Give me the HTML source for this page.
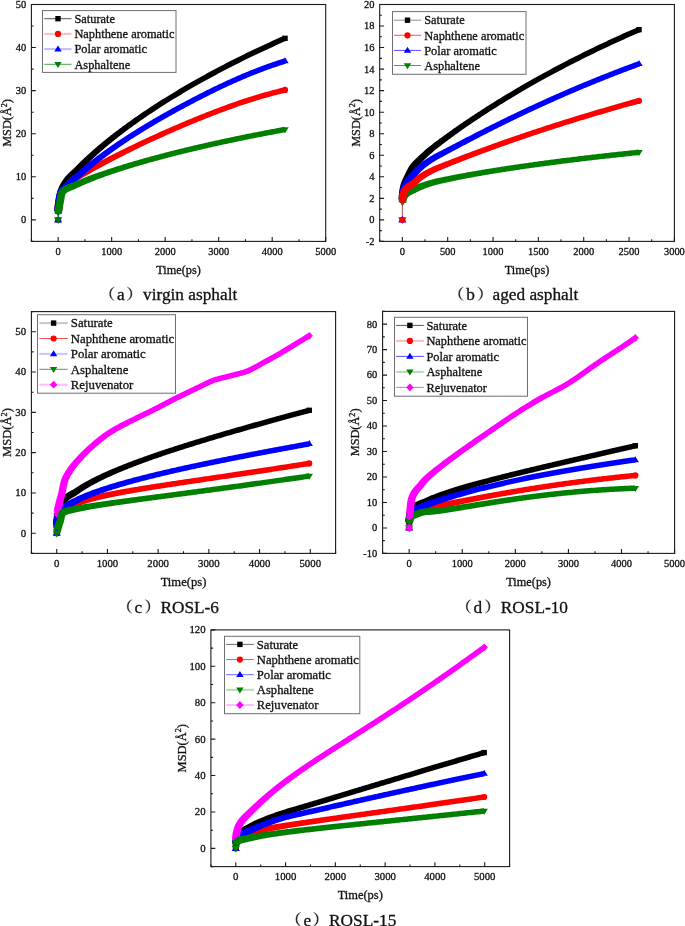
<!DOCTYPE html>
<html><head><meta charset="utf-8"><style>
html,body{margin:0;padding:0;background:#fff;}
svg{display:block;will-change:transform;}
text{font-family:"Liberation Serif", serif;fill:#111;stroke:#111;stroke-width:0.3px;}
.tk{font-size:10px;}
.at{font-size:12px;}
.lg{font-size:12px;}
.cp{font-size:17.3px;}
</style></head><body>
<svg width="685" height="926" viewBox="0 0 685 926">
<rect width="685" height="926" fill="#fff"/>
<rect x="31.4" y="4.5" width="294.3" height="236.9" fill="none" stroke="#1a1a1a" stroke-width="1.1"/>
<path d="M58.15 241.4V237M111.66 241.4V237M165.17 241.4V237M218.68 241.4V237M272.19 241.4V237M325.7 241.4V237M31.4 241.4V239.2M84.91 241.4V239.2M138.42 241.4V239.2M191.93 241.4V239.2M245.44 241.4V239.2M298.95 241.4V239.2M31.4 219.86H35.8M31.4 176.79H35.8M31.4 133.72H35.8M31.4 90.65H35.8M31.4 47.57H35.8M31.4 4.5H35.8M31.4 241.4H33.6M31.4 198.33H33.6M31.4 155.25H33.6M31.4 112.18H33.6M31.4 69.11H33.6M31.4 26.04H33.6" stroke="#1a1a1a" stroke-width="1.1" fill="none"/>
<text x="58.15" y="254.7" text-anchor="middle" font-size="10.45">0</text>
<text x="111.66" y="254.7" text-anchor="middle" font-size="10.45">1000</text>
<text x="165.17" y="254.7" text-anchor="middle" font-size="10.45">2000</text>
<text x="218.68" y="254.7" text-anchor="middle" font-size="10.45">3000</text>
<text x="272.19" y="254.7" text-anchor="middle" font-size="10.45">4000</text>
<text x="325.7" y="254.7" text-anchor="middle" font-size="10.45">5000</text>
<text x="26.1" y="223.26" text-anchor="end" font-size="10.45">0</text>
<text x="26.1" y="180.19" text-anchor="end" font-size="10.45">10</text>
<text x="26.1" y="137.12" text-anchor="end" font-size="10.45">20</text>
<text x="26.1" y="94.05" text-anchor="end" font-size="10.45">30</text>
<text x="26.1" y="50.97" text-anchor="end" font-size="10.45">40</text>
<text x="26.1" y="7.9" text-anchor="end" font-size="10.45">50</text>
<text x="178.55" y="274.2" text-anchor="middle" font-size="12.3">Time(ps)</text>
<text transform="translate(11.3 122.95) rotate(-90)" text-anchor="middle" font-size="12.3">MSD(&#197;<tspan font-size="8.12" dy="-4.5">2</tspan><tspan dy="4.5">)</tspan></text>
<path d="M62.05 211.4L62.08 210.68L62.11 209.97L62.15 209.27L62.2 208.56L62.25 207.86L62.31 207.16L62.37 206.45L62.44 205.75L62.52 205.05L62.6 204.34L62.69 203.64L62.78 202.94L62.88 202.24L62.99 201.53L63.1 200.82L63.22 200.08L63.34 199.34L63.48 198.6L63.61 197.86L63.76 197.12L63.9 196.38L64.06 195.66L64.21 194.96L64.38 194.27L64.54 193.61L64.71 192.97L64.89 192.37L65.06 191.81L65.24 191.28L65.43 190.75L65.62 190.23L65.82 189.73L66.03 189.24L66.24 188.76L66.46 188.29L66.68 187.82L66.91 187.37L67.15 186.92L67.39 186.47L67.64 186.03L67.89 185.6L68.16 185.16L68.43 184.73L68.71 184.29L68.99 183.86L69.29 183.43L69.59 182.99L69.9 182.55L70.22 182.11L70.55 181.66L70.88 181.21L71.21 180.78L71.53 180.38L71.86 179.97L72.2 179.57L72.54 179.17L72.9 178.78L73.27 178.38L73.64 177.99L74.03 177.59L74.42 177.19L74.83 176.78L75.25 176.37L75.67 175.96L76.11 175.54L76.55 175.11L77.01 174.67L77.48 174.22L77.95 173.76L78.44 173.29L78.93 172.81L79.43 172.31L79.95 171.8L80.48 171.25L81.03 170.68L81.56 170.1L82.09 169.52L82.61 168.95L83.12 168.39L83.65 167.84L84.19 167.28L84.73 166.71L85.28 166.14L85.84 165.57L86.41 164.99L86.98 164.41L87.56 163.83L88.15 163.25L88.75 162.66L89.35 162.07L89.95 161.48L90.57 160.89L91.19 160.29L91.81 159.69L92.45 159.09L93.09 158.48L93.73 157.88L94.39 157.27L95.05 156.66L95.72 156.04L96.39 155.43L97.07 154.81L97.76 154.19L98.45 153.56L99.15 152.94L99.86 152.31L100.57 151.68L101.29 151.05L102.02 150.41L102.76 149.77L103.5 149.13L104.24 148.49L105 147.85L105.76 147.2L106.53 146.56L107.3 145.91L108.08 145.25L108.87 144.6L109.67 143.94L110.47 143.29L111.27 142.63L112.09 141.97L112.91 141.3L113.74 140.64L114.57 139.97L115.41 139.3L116.26 138.63L117.11 137.95L117.97 137.28L118.84 136.6L119.72 135.92L120.6 135.24L121.49 134.56L122.38 133.88L123.28 133.19L124.19 132.51L125.1 131.82L126.02 131.13L126.95 130.43L127.88 129.74L128.83 129.04L129.77 128.35L130.73 127.65L131.69 126.95L132.65 126.25L133.63 125.54L134.61 124.84L135.6 124.13L136.59 123.43L137.59 122.72L138.6 122.01L139.61 121.29L140.63 120.58L141.66 119.87L142.69 119.15L143.73 118.43L144.78 117.71L145.83 116.99L146.89 116.27L147.96 115.55L149.03 114.83L150.11 114.1L151.2 113.38L152.29 112.65L153.39 111.92L154.5 111.19L155.61 110.46L156.73 109.73L157.86 108.99L158.99 108.26L160.13 107.52L161.27 106.79L162.43 106.05L163.59 105.31L164.75 104.57L165.92 103.83L167.1 103.09L168.29 102.35L169.48 101.61L170.68 100.86L171.88 100.12L173.1 99.37L174.31 98.62L175.54 97.88L176.77 97.13L178.01 96.38L179.25 95.63L180.51 94.88L181.76 94.13L183.03 93.37L184.3 92.62L185.58 91.87L186.86 91.11L188.15 90.36L189.45 89.6L190.75 88.85L192.06 88.09L193.38 87.33L194.7 86.57L196.03 85.81L197.37 85.06L198.71 84.3L200.06 83.53L201.42 82.77L202.78 82.01L204.15 81.25L205.53 80.49L206.91 79.73L208.3 78.96L209.7 78.2L211.1 77.44L212.51 76.67L213.93 75.91L215.35 75.14L216.78 74.38L218.21 73.62L219.65 72.85L221.1 72.09L222.56 71.32L224.02 70.55L225.49 69.79L226.96 69.02L228.44 68.26L229.93 67.49L231.43 66.73L232.93 65.96L234.43 65.19L235.95 64.43L237.47 63.66L239 62.9L240.53 62.13L242.07 61.37L243.62 60.6L245.17 59.84L246.73 59.07L248.3 58.31L249.87 57.54L251.45 56.78L253.03 56.02L254.63 55.25L256.23 54.49L257.83 53.73L259.44 52.97L261.06 52.21L262.69 51.44L264.32 50.68L265.96 49.92L267.61 49.16L269.26 48.4L270.92 47.65L272.58 46.89L274.25 46.13L275.93 45.37L277.61 44.62L279.31 43.86L281 43.11L282.71 42.35L284.42 41.6L286.14 40.85L283.93 35.81L282.21 36.56L280.49 37.32L278.77 38.08L277.07 38.84L275.37 39.6L273.67 40.36L271.99 41.12L270.3 41.88L268.63 42.64L266.96 43.4L265.3 44.17L263.65 44.93L262 45.69L260.36 46.46L258.73 47.22L257.1 47.99L255.48 48.76L253.86 49.52L252.25 50.29L250.65 51.06L249.06 51.82L247.47 52.59L245.89 53.36L244.31 54.13L242.74 54.9L241.18 55.67L239.62 56.43L238.08 57.2L236.53 57.97L235 58.74L233.47 59.51L231.94 60.28L230.43 61.05L228.92 61.82L227.42 62.59L225.92 63.36L224.43 64.13L222.95 64.9L221.47 65.67L220 66.44L218.53 67.21L217.08 67.98L215.63 68.75L214.18 69.52L212.74 70.29L211.31 71.06L209.89 71.82L208.47 72.59L207.06 73.36L205.65 74.13L204.26 74.89L202.86 75.66L201.48 76.43L200.1 77.19L198.73 77.96L197.36 78.72L196 79.49L194.65 80.25L193.3 81.01L191.96 81.78L190.63 82.54L189.31 83.3L187.99 84.06L186.67 84.82L185.37 85.58L184.07 86.34L182.77 87.1L181.48 87.86L180.2 88.61L178.93 89.37L177.66 90.12L176.4 90.88L175.15 91.63L173.9 92.39L172.66 93.14L171.42 93.89L170.2 94.64L168.97 95.39L167.76 96.14L166.55 96.89L165.35 97.63L164.15 98.38L162.96 99.12L161.78 99.87L160.6 100.61L159.43 101.35L158.27 102.09L157.11 102.83L155.96 103.57L154.82 104.31L153.68 105.04L152.55 105.78L151.43 106.51L150.31 107.25L149.2 107.98L148.1 108.71L147 109.44L145.91 110.17L144.82 110.89L143.74 111.62L142.67 112.34L141.61 113.06L140.55 113.79L139.5 114.51L138.45 115.22L137.41 115.94L136.38 116.66L135.35 117.37L134.33 118.08L133.32 118.8L132.31 119.51L131.31 120.21L130.32 120.92L129.33 121.63L128.35 122.33L127.37 123.03L126.41 123.73L125.44 124.43L124.49 125.13L123.54 125.82L122.6 126.52L121.66 127.21L120.73 127.9L119.81 128.59L118.89 129.27L117.98 129.96L117.08 130.64L116.18 131.32L115.29 132L114.41 132.68L113.53 133.36L112.66 134.03L111.8 134.7L110.94 135.37L110.09 136.04L109.24 136.71L108.4 137.37L107.57 138.04L106.75 138.7L105.93 139.35L105.11 140.01L104.31 140.66L103.51 141.32L102.71 141.97L101.93 142.62L101.15 143.26L100.37 143.91L99.6 144.55L98.84 145.19L98.09 145.82L97.34 146.46L96.6 147.09L95.86 147.72L95.13 148.35L94.41 148.98L93.69 149.6L92.98 150.22L92.28 150.84L91.58 151.46L90.89 152.07L90.21 152.68L89.53 153.29L88.86 153.9L88.19 154.51L87.53 155.11L86.88 155.71L86.23 156.31L85.59 156.9L84.96 157.5L84.33 158.09L83.71 158.68L83.1 159.26L82.49 159.84L81.89 160.42L81.3 161L80.71 161.58L80.13 162.15L79.55 162.72L78.98 163.29L78.41 163.87L77.84 164.46L77.29 165.03L76.76 165.58L76.25 166.11L75.77 166.59L75.29 167.06L74.8 167.52L74.31 167.97L73.82 168.42L73.34 168.86L72.87 169.29L72.4 169.72L71.93 170.14L71.46 170.56L71 170.98L70.54 171.4L70.08 171.82L69.63 172.25L69.18 172.67L68.73 173.11L68.28 173.54L67.84 173.99L67.41 174.44L66.97 174.91L66.54 175.38L66.12 175.87L65.7 176.37L65.29 176.86L64.91 177.35L64.54 177.82L64.17 178.3L63.8 178.78L63.44 179.27L63.09 179.76L62.74 180.25L62.39 180.75L62.05 181.26L61.72 181.77L61.39 182.29L61.07 182.82L60.75 183.36L60.44 183.91L60.14 184.47L59.85 185.05L59.56 185.63L59.28 186.23L59 186.83L58.74 187.46L58.48 188.09L58.23 188.75L57.98 189.43L57.74 190.16L57.51 190.89L57.3 191.65L57.09 192.42L56.89 193.2L56.7 194L56.52 194.8L56.34 195.6L56.18 196.4L56.02 197.2L55.87 198L55.72 198.79L55.59 199.56L55.46 200.33L55.33 201.09L55.22 201.86L55.11 202.63L55 203.39L54.91 204.16L54.82 204.93L54.74 205.7L54.66 206.47L54.59 207.25L54.53 208.02L54.48 208.79L54.43 209.56L54.39 210.34L54.36 211.09Z" fill="#000000"/><rect x="282.33" y="35.63" width="5.4" height="5.4" fill="#000000"/><rect x="55.51" y="208.55" width="5.4" height="5.4" fill="#000000"/>
<path d="M62.05 211.41L62.08 210.71L62.11 210.03L62.15 209.35L62.2 208.68L62.25 208L62.31 207.33L62.37 206.66L62.44 205.99L62.51 205.32L62.59 204.65L62.68 203.99L62.78 203.32L62.87 202.66L62.98 201.99L63.1 201.29L63.22 200.56L63.34 199.82L63.48 199.07L63.61 198.33L63.75 197.6L63.9 196.9L64.04 196.23L64.19 195.62L64.34 195.07L64.48 194.6L64.6 194.24L64.7 193.98L64.8 193.78L64.92 193.56L65.04 193.36L65.16 193.18L65.28 193.01L65.42 192.84L65.56 192.67L65.72 192.5L65.91 192.31L66.11 192.12L66.34 191.91L66.6 191.68L66.88 191.43L67.18 191.15L67.51 190.86L67.85 190.54L68.21 190.19L68.59 189.81L68.96 189.41L69.33 189.01L69.69 188.59L70.05 188.17L70.41 187.74L70.77 187.31L71.13 186.87L71.5 186.44L71.86 186L72.22 185.56L72.59 185.13L72.95 184.71L73.32 184.29L73.69 183.88L74.06 183.49L74.43 183.11L74.8 182.74L75.16 182.4L75.52 182.07L75.88 181.77L76.24 181.49L76.58 181.24L76.92 181.01L77.3 180.78L77.72 180.53L78.19 180.27L78.7 179.99L79.23 179.69L79.75 179.38L80.26 179.09L80.78 178.78L81.3 178.48L81.83 178.17L82.36 177.86L82.9 177.55L83.45 177.23L84.01 176.91L84.57 176.59L85.14 176.26L85.71 175.93L86.29 175.6L86.88 175.26L87.48 174.92L88.08 174.58L88.68 174.23L89.3 173.88L89.92 173.53L90.55 173.18L91.18 172.82L91.82 172.46L92.47 172.1L93.12 171.73L93.78 171.36L94.45 170.99L95.12 170.62L95.8 170.24L96.49 169.86L97.18 169.48L97.88 169.09L98.58 168.71L99.3 168.31L100.02 167.92L100.74 167.53L101.48 167.13L102.21 166.73L102.96 166.32L103.71 165.92L104.47 165.51L105.24 165.1L106.01 164.68L106.79 164.27L107.57 163.85L108.37 163.43L109.16 163L109.97 162.58L110.78 162.15L111.6 161.72L112.42 161.29L113.26 160.85L114.09 160.42L114.94 159.98L115.79 159.54L116.65 159.09L117.51 158.65L118.38 158.2L119.26 157.75L120.15 157.3L121.04 156.84L121.93 156.39L122.84 155.93L123.75 155.47L124.67 155L125.59 154.54L126.52 154.07L127.46 153.6L128.4 153.13L129.35 152.66L130.31 152.19L131.27 151.71L132.24 151.23L133.22 150.75L134.2 150.27L135.19 149.79L136.19 149.3L137.19 148.82L138.2 148.33L139.22 147.84L140.24 147.35L141.27 146.85L142.3 146.36L143.35 145.86L144.39 145.36L145.45 144.86L146.51 144.36L147.58 143.86L148.66 143.35L149.74 142.84L150.83 142.34L151.92 141.83L153.02 141.32L154.13 140.81L155.25 140.29L156.37 139.78L157.5 139.26L158.63 138.74L159.77 138.22L160.92 137.7L162.07 137.18L163.23 136.66L164.4 136.14L165.58 135.61L166.76 135.08L167.94 134.56L169.14 134.03L170.34 133.5L171.54 132.97L172.76 132.43L173.98 131.9L175.2 131.37L176.44 130.83L177.68 130.3L178.92 129.76L180.17 129.22L181.43 128.68L182.7 128.14L183.97 127.6L185.25 127.06L186.54 126.51L187.83 125.97L189.13 125.43L190.43 124.88L191.74 124.33L193.06 123.79L194.39 123.24L195.72 122.69L197.06 122.14L198.4 121.59L199.75 121.04L201.11 120.49L202.47 119.94L203.84 119.39L205.22 118.84L206.6 118.28L207.99 117.73L209.39 117.18L210.79 116.63L212.2 116.08L213.62 115.53L215.04 114.98L216.47 114.43L217.9 113.88L219.34 113.33L220.79 112.78L222.24 112.24L223.7 111.69L225.17 111.15L226.64 110.61L228.12 110.07L229.61 109.53L231.1 109L232.6 108.46L234.1 107.93L235.62 107.4L237.13 106.87L238.66 106.35L240.19 105.82L241.73 105.3L243.27 104.79L244.82 104.27L246.38 103.76L247.94 103.25L249.51 102.74L251.08 102.24L252.67 101.74L254.26 101.25L255.85 100.75L257.45 100.27L259.06 99.78L260.68 99.3L262.3 98.83L263.92 98.35L265.56 97.88L267.2 97.42L268.84 96.96L270.5 96.51L272.16 96.06L273.82 95.61L275.5 95.17L277.18 94.74L278.86 94.31L280.55 93.88L282.25 93.47L283.95 93.05L285.67 92.64L284.39 87.29L282.67 87.7L280.94 88.12L279.22 88.55L277.51 88.98L275.8 89.41L274.11 89.85L272.41 90.3L270.73 90.75L269.05 91.2L267.38 91.66L265.71 92.12L264.05 92.59L262.4 93.07L260.75 93.54L259.11 94.03L257.48 94.51L255.86 95L254.24 95.49L252.63 95.99L251.02 96.49L249.42 97L247.83 97.5L246.24 98.01L244.66 98.53L243.09 99.04L241.53 99.56L239.97 100.09L238.42 100.61L236.87 101.14L235.33 101.67L233.8 102.2L232.27 102.74L230.76 103.27L229.24 103.81L227.74 104.35L226.24 104.89L224.75 105.44L223.26 105.98L221.78 106.53L220.31 107.08L218.85 107.63L217.39 108.18L215.94 108.73L214.49 109.28L213.05 109.83L211.62 110.39L210.2 110.94L208.78 111.49L207.37 112.05L205.96 112.6L204.56 113.16L203.17 113.71L201.79 114.27L200.41 114.82L199.04 115.37L197.67 115.93L196.32 116.48L194.96 117.03L193.62 117.58L192.28 118.13L190.95 118.68L189.62 119.23L188.31 119.78L186.99 120.32L185.69 120.87L184.39 121.42L183.1 121.96L181.81 122.5L180.53 123.05L179.26 123.59L177.99 124.13L176.73 124.67L175.48 125.21L174.23 125.74L172.99 126.28L171.76 126.81L170.53 127.35L169.31 127.88L168.1 128.41L166.89 128.94L165.69 129.47L164.5 130L163.31 130.53L162.13 131.05L160.96 131.58L159.79 132.1L158.63 132.62L157.47 133.14L156.32 133.66L155.18 134.18L154.05 134.7L152.92 135.21L151.8 135.72L150.68 136.23L149.57 136.74L148.47 137.25L147.37 137.76L146.28 138.27L145.2 138.77L144.12 139.27L143.05 139.77L141.99 140.27L140.93 140.77L139.88 141.26L138.84 141.76L137.8 142.25L136.77 142.74L135.75 143.23L134.73 143.71L133.72 144.2L132.72 144.68L131.72 145.16L130.73 145.64L129.74 146.12L128.76 146.59L127.79 147.06L126.83 147.54L125.87 148L124.92 148.47L123.97 148.93L123.03 149.4L122.1 149.86L121.17 150.32L120.25 150.77L119.34 151.23L118.43 151.68L117.53 152.13L116.64 152.57L115.75 153.02L114.87 153.46L114 153.9L113.13 154.34L112.27 154.78L111.42 155.21L110.57 155.64L109.73 156.07L108.89 156.49L108.06 156.92L107.24 157.34L106.43 157.76L105.62 158.17L104.82 158.58L104.02 158.99L103.23 159.4L102.45 159.81L101.67 160.21L100.9 160.61L100.14 161.01L99.38 161.4L98.63 161.79L97.89 162.18L97.15 162.57L96.42 162.95L95.7 163.33L94.98 163.71L94.27 164.08L93.57 164.46L92.87 164.82L92.18 165.19L91.49 165.55L90.81 165.91L90.14 166.27L89.48 166.62L88.82 166.98L88.16 167.32L87.52 167.67L86.88 168.01L86.25 168.35L85.62 168.68L85 169.02L84.39 169.35L83.78 169.67L83.18 169.99L82.59 170.31L82 170.63L81.42 170.94L80.85 171.25L80.28 171.56L79.72 171.86L79.17 172.16L78.62 172.46L78.08 172.75L77.54 173.04L77.02 173.33L76.5 173.61L76 173.88L75.52 174.13L75.05 174.37L74.54 174.63L73.99 174.92L73.42 175.24L72.83 175.61L72.24 176L71.69 176.41L71.15 176.84L70.62 177.27L70.12 177.72L69.62 178.18L69.14 178.64L68.68 179.1L68.23 179.57L67.79 180.04L67.36 180.5L66.95 180.96L66.54 181.41L66.15 181.85L65.77 182.28L65.4 182.7L65.05 183.09L64.71 183.47L64.38 183.83L64.07 184.16L63.77 184.46L63.5 184.73L63.23 184.97L62.97 185.21L62.7 185.44L62.43 185.66L62.15 185.89L61.86 186.13L61.56 186.37L61.24 186.64L60.92 186.92L60.58 187.23L60.24 187.56L59.89 187.93L59.54 188.32L59.2 188.75L58.87 189.21L58.55 189.7L58.24 190.22L57.92 190.82L57.62 191.51L57.36 192.22L57.13 192.95L56.91 193.7L56.71 194.47L56.52 195.26L56.35 196.06L56.18 196.87L56.02 197.68L55.87 198.47L55.73 199.25L55.59 200L55.46 200.73L55.34 201.45L55.22 202.18L55.11 202.92L55.01 203.66L54.91 204.39L54.82 205.13L54.74 205.87L54.66 206.62L54.6 207.36L54.53 208.11L54.48 208.85L54.43 209.6L54.39 210.35L54.36 211.09Z" fill="#ff0000"/><circle cx="285.03" cy="89.97" r="3.1" fill="#ff0000"/><circle cx="58.21" cy="211.25" r="3.1" fill="#ff0000"/>
<path d="M62.05 211.4L62.08 210.67L62.11 209.96L62.15 209.25L62.2 208.54L62.25 207.84L62.31 207.13L62.37 206.43L62.44 205.73L62.52 205.03L62.6 204.33L62.69 203.63L62.78 202.93L62.88 202.24L62.99 201.53L63.1 200.79L63.22 200.01L63.35 199.21L63.48 198.4L63.62 197.6L63.76 196.81L63.91 196.06L64.06 195.35L64.2 194.7L64.35 194.14L64.48 193.69L64.58 193.38L64.64 193.23L64.69 193.15L64.76 193.03L64.83 192.93L64.9 192.84L64.98 192.74L65.09 192.64L65.23 192.51L65.41 192.36L65.63 192.18L65.89 191.97L66.19 191.73L66.53 191.46L66.89 191.14L67.27 190.79L67.63 190.44L67.96 190.1L68.28 189.76L68.61 189.42L68.94 189.07L69.27 188.71L69.61 188.35L69.95 187.98L70.29 187.61L70.64 187.24L70.99 186.86L71.34 186.48L71.7 186.11L72.06 185.73L72.43 185.35L72.8 184.98L73.17 184.6L73.55 184.23L73.94 183.86L74.34 183.48L74.75 183.1L75.16 182.71L75.59 182.33L76.02 181.94L76.46 181.54L76.91 181.14L77.36 180.74L77.83 180.33L78.3 179.92L78.78 179.5L79.26 179.08L79.76 178.65L80.26 178.22L80.76 177.78L81.28 177.33L81.8 176.88L82.33 176.43L82.87 175.96L83.43 175.47L84.01 174.96L84.59 174.43L85.16 173.91L85.72 173.39L86.28 172.88L86.84 172.37L87.42 171.86L88.01 171.35L88.6 170.83L89.2 170.31L89.81 169.78L90.42 169.26L91.04 168.73L91.67 168.2L92.3 167.67L92.94 167.13L93.59 166.59L94.24 166.06L94.91 165.51L95.57 164.97L96.25 164.42L96.93 163.88L97.62 163.33L98.31 162.77L99.01 162.22L99.72 161.66L100.43 161.1L101.15 160.54L101.88 159.98L102.62 159.42L103.36 158.85L104.11 158.28L104.86 157.71L105.62 157.14L106.39 156.56L107.16 155.99L107.95 155.41L108.73 154.83L109.53 154.25L110.33 153.66L111.14 153.08L111.95 152.49L112.77 151.9L113.6 151.31L114.44 150.71L115.28 150.12L116.13 149.52L116.98 148.92L117.84 148.32L118.71 147.72L119.59 147.12L120.47 146.51L121.36 145.9L122.25 145.29L123.15 144.68L124.06 144.07L124.97 143.46L125.9 142.84L126.82 142.22L127.76 141.61L128.7 140.99L129.65 140.36L130.6 139.74L131.56 139.11L132.53 138.49L133.5 137.86L134.49 137.23L135.47 136.6L136.47 135.97L137.47 135.33L138.48 134.7L139.49 134.06L140.51 133.42L141.54 132.78L142.57 132.14L143.61 131.5L144.66 130.85L145.72 130.21L146.78 129.56L147.84 128.91L148.92 128.26L150 127.61L151.08 126.96L152.18 126.3L153.28 125.65L154.38 124.99L155.5 124.34L156.62 123.68L157.75 123.02L158.88 122.36L160.02 121.69L161.16 121.03L162.32 120.36L163.48 119.7L164.64 119.03L165.82 118.36L167 117.69L168.18 117.02L169.37 116.35L170.57 115.68L171.78 115L172.99 114.33L174.21 113.65L175.44 112.98L176.67 112.3L177.91 111.62L179.15 110.94L180.4 110.26L181.66 109.57L182.93 108.89L184.2 108.21L185.48 107.52L186.76 106.83L188.05 106.15L189.35 105.46L190.66 104.77L191.97 104.08L193.29 103.39L194.61 102.7L195.94 102.01L197.28 101.31L198.62 100.62L199.97 99.92L201.33 99.23L202.69 98.53L204.06 97.83L205.44 97.14L206.82 96.44L208.21 95.74L209.61 95.05L211.01 94.35L212.42 93.65L213.83 92.96L215.25 92.26L216.68 91.57L218.12 90.87L219.56 90.18L221 89.49L222.46 88.8L223.92 88.11L225.38 87.42L226.86 86.74L228.33 86.05L229.82 85.37L231.31 84.69L232.81 84.01L234.31 83.34L235.83 82.66L237.34 81.99L238.87 81.32L240.4 80.66L241.93 79.99L243.48 79.33L245.03 78.67L246.58 78.02L248.14 77.37L249.71 76.72L251.29 76.08L252.87 75.44L254.46 74.8L256.05 74.17L257.65 73.54L259.26 72.92L260.88 72.3L262.5 71.69L264.12 71.08L265.76 70.47L267.4 69.87L269.04 69.27L270.69 68.68L272.35 68.1L274.02 67.52L275.69 66.95L277.37 66.38L279.05 65.81L280.74 65.25L282.44 64.7L284.14 64.16L285.86 63.62L284.21 58.37L282.48 58.91L280.75 59.47L279.03 60.03L277.32 60.59L275.61 61.16L273.91 61.74L272.22 62.32L270.53 62.91L268.85 63.5L267.18 64.1L265.51 64.7L263.85 65.31L262.2 65.92L260.55 66.54L258.91 67.16L257.28 67.79L255.66 68.42L254.04 69.05L252.42 69.69L250.82 70.33L249.22 70.98L247.62 71.63L246.04 72.28L244.46 72.94L242.89 73.6L241.32 74.27L239.76 74.93L238.21 75.6L236.66 76.28L235.12 76.95L233.59 77.63L232.06 78.31L230.55 78.99L229.03 79.68L227.53 80.36L226.03 81.05L224.54 81.74L223.05 82.43L221.57 83.13L220.1 83.82L218.63 84.52L217.17 85.21L215.72 85.91L214.28 86.61L212.84 87.31L211.41 88.01L209.98 88.71L208.56 89.41L207.15 90.11L205.74 90.81L204.35 91.51L202.95 92.21L201.57 92.91L200.19 93.61L198.82 94.31L197.45 95.01L196.09 95.71L194.74 96.41L193.4 97.1L192.06 97.8L190.73 98.49L189.4 99.19L188.08 99.88L186.77 100.57L185.46 101.26L184.16 101.95L182.87 102.64L181.58 103.33L180.3 104.02L179.03 104.7L177.76 105.39L176.5 106.07L175.25 106.75L174 107.44L172.76 108.12L171.53 108.8L170.3 109.48L169.08 110.15L167.86 110.83L166.66 111.5L165.45 112.18L164.26 112.85L163.07 113.52L161.89 114.19L160.71 114.86L159.54 115.53L158.38 116.2L157.23 116.87L156.08 117.53L154.93 118.19L153.8 118.85L152.67 119.52L151.54 120.18L150.43 120.83L149.32 121.49L148.21 122.15L147.11 122.8L146.02 123.45L144.94 124.1L143.86 124.75L142.79 125.4L141.73 126.05L140.67 126.69L139.61 127.34L138.57 127.98L137.53 128.62L136.5 129.26L135.47 129.9L134.45 130.54L133.44 131.17L132.43 131.81L131.43 132.44L130.44 133.07L129.45 133.7L128.47 134.32L127.5 134.95L126.53 135.57L125.57 136.2L124.62 136.82L123.67 137.44L122.73 138.05L121.79 138.67L120.86 139.28L119.94 139.89L119.02 140.51L118.12 141.11L117.21 141.72L116.32 142.33L115.43 142.93L114.54 143.53L113.67 144.13L112.79 144.73L111.93 145.33L111.07 145.92L110.22 146.51L109.38 147.1L108.54 147.69L107.71 148.28L106.88 148.86L106.06 149.45L105.25 150.03L104.44 150.61L103.64 151.18L102.85 151.76L102.06 152.33L101.28 152.9L100.51 153.47L99.74 154.04L98.98 154.6L98.23 155.17L97.48 155.73L96.74 156.29L96 156.85L95.27 157.4L94.55 157.95L93.83 158.5L93.12 159.05L92.42 159.6L91.72 160.14L91.03 160.69L90.35 161.23L89.67 161.76L89 162.3L88.33 162.83L87.68 163.36L87.02 163.89L86.38 164.42L85.74 164.95L85.11 165.47L84.48 165.99L83.86 166.51L83.25 167.02L82.63 167.54L82.02 168.07L81.42 168.59L80.83 169.11L80.27 169.61L79.72 170.08L79.19 170.52L78.66 170.96L78.12 171.41L77.58 171.85L77.04 172.28L76.52 172.71L75.99 173.14L75.48 173.56L74.97 173.98L74.46 174.39L73.96 174.8L73.47 175.2L72.98 175.61L72.5 176.01L72.02 176.41L71.55 176.8L71.08 177.2L70.62 177.59L70.16 177.99L69.71 178.38L69.27 178.77L68.82 179.17L68.38 179.57L67.95 179.97L67.52 180.38L67.11 180.77L66.7 181.17L66.31 181.56L65.92 181.94L65.54 182.32L65.17 182.69L64.81 183.05L64.46 183.4L64.12 183.74L63.79 184.07L63.47 184.39L63.16 184.69L62.86 184.98L62.58 185.24L62.34 185.46L62.14 185.63L61.93 185.79L61.71 185.96L61.46 186.13L61.19 186.32L60.9 186.54L60.57 186.79L60.21 187.08L59.84 187.41L59.46 187.79L59.08 188.21L58.71 188.68L58.35 189.2L57.98 189.83L57.64 190.56L57.36 191.31L57.12 192.07L56.9 192.86L56.7 193.68L56.51 194.52L56.34 195.37L56.17 196.24L56.01 197.1L55.86 197.95L55.72 198.78L55.59 199.57L55.46 200.33L55.34 201.08L55.22 201.84L55.11 202.61L55 203.37L54.91 204.14L54.82 204.91L54.74 205.68L54.66 206.45L54.59 207.22L54.53 208L54.48 208.77L54.43 209.55L54.39 210.33L54.36 211.1Z" fill="#0000ff"/><path d="M285.03 57.27L288.73 63.27L281.33 63.27Z" fill="#0000ff"/><path d="M58.21 207.53L61.91 213.53L54.51 213.53Z" fill="#0000ff"/>
<path d="M61.99 213.49L62.02 213.33L62.04 213.12L62.08 212.87L62.12 212.57L62.16 212.23L62.21 211.85L62.27 211.44L62.34 210.99L62.41 210.5L62.48 209.98L62.57 209.43L62.66 208.86L62.75 208.26L62.85 207.63L62.96 206.98L63.08 206.32L63.2 205.63L63.32 204.93L63.46 204.22L63.6 203.49L63.74 202.76L63.89 202.02L64.05 201.25L64.24 200.35L64.43 199.18L64.62 197.92L64.8 196.69L64.97 195.63L65.11 194.95L65.18 194.75L65.26 194.58L65.34 194.42L65.42 194.28L65.53 194.13L65.69 193.93L65.85 193.74L66 193.57L66.15 193.41L66.32 193.26L66.5 193.1L66.69 192.94L66.89 192.78L67.12 192.62L67.36 192.45L67.62 192.28L67.87 192.12L68.12 191.96L68.37 191.82L68.63 191.67L68.91 191.53L69.2 191.39L69.5 191.24L69.82 191.1L70.15 190.95L70.5 190.81L70.85 190.66L71.22 190.51L71.61 190.36L72 190.21L72.41 190.05L72.83 189.88L73.26 189.71L73.7 189.54L74.16 189.36L74.62 189.17L75.09 188.97L75.58 188.77L76.09 188.54L76.62 188.3L77.13 188.05L77.63 187.81L78.12 187.57L78.59 187.33L79.06 187.11L79.56 186.88L80.06 186.64L80.57 186.4L81.09 186.17L81.62 185.93L82.15 185.69L82.69 185.45L83.24 185.2L83.8 184.96L84.36 184.71L84.92 184.47L85.5 184.22L86.08 183.97L86.67 183.72L87.26 183.47L87.86 183.22L88.47 182.97L89.09 182.71L89.71 182.46L90.34 182.2L90.97 181.94L91.61 181.69L92.26 181.43L92.92 181.17L93.58 180.91L94.25 180.64L94.92 180.38L95.61 180.12L96.3 179.85L96.99 179.58L97.69 179.32L98.4 179.05L99.12 178.78L99.84 178.51L100.57 178.24L101.31 177.97L102.05 177.7L102.8 177.42L103.56 177.15L104.32 176.88L105.09 176.6L105.87 176.32L106.65 176.05L107.44 175.77L108.24 175.49L109.04 175.21L109.85 174.93L110.67 174.65L111.49 174.37L112.32 174.08L113.16 173.8L114 173.52L114.85 173.23L115.71 172.95L116.57 172.66L117.45 172.37L118.32 172.09L119.21 171.8L120.1 171.51L120.99 171.22L121.9 170.93L122.81 170.64L123.73 170.35L124.65 170.05L125.58 169.76L126.52 169.47L127.46 169.17L128.41 168.88L129.37 168.58L130.33 168.29L131.31 167.99L132.28 167.7L133.27 167.4L134.26 167.1L135.26 166.8L136.26 166.5L137.27 166.2L138.29 165.9L139.31 165.6L140.34 165.3L141.38 165L142.42 164.69L143.47 164.39L144.53 164.09L145.6 163.78L146.67 163.48L147.74 163.18L148.83 162.87L149.92 162.56L151.02 162.26L152.12 161.95L153.23 161.64L154.35 161.34L155.47 161.03L156.6 160.72L157.74 160.41L158.88 160.1L160.03 159.79L161.19 159.48L162.35 159.17L163.53 158.86L164.7 158.55L165.89 158.24L167.08 157.93L168.27 157.62L169.48 157.3L170.69 156.99L171.9 156.68L173.13 156.36L174.36 156.05L175.6 155.74L176.84 155.42L178.09 155.11L179.35 154.79L180.61 154.48L181.88 154.16L183.16 153.85L184.44 153.53L185.73 153.22L187.03 152.9L188.33 152.58L189.64 152.27L190.96 151.95L192.28 151.63L193.61 151.31L194.95 151L196.29 150.68L197.64 150.36L198.99 150.04L200.36 149.72L201.73 149.41L203.1 149.09L204.49 148.77L205.88 148.45L207.27 148.13L208.67 147.81L210.08 147.49L211.5 147.17L212.92 146.86L214.35 146.54L215.79 146.22L217.23 145.9L218.68 145.58L220.13 145.26L221.6 144.94L223.07 144.62L224.54 144.3L226.02 143.98L227.51 143.66L229.01 143.34L230.51 143.02L232.02 142.7L233.53 142.38L235.06 142.06L236.59 141.74L238.12 141.42L239.66 141.1L241.21 140.78L242.77 140.46L244.33 140.15L245.9 139.83L247.47 139.51L249.05 139.19L250.64 138.87L252.24 138.55L253.84 138.23L255.45 137.91L257.06 137.59L258.68 137.28L260.31 136.96L261.94 136.64L263.59 136.32L265.23 136.01L266.89 135.69L268.55 135.37L270.22 135.05L271.89 134.74L273.57 134.42L275.26 134.11L276.95 133.79L278.66 133.47L280.36 133.16L282.08 132.84L283.8 132.53L285.53 132.21L284.54 126.8L282.81 127.12L281.08 127.43L279.37 127.75L277.65 128.06L275.95 128.38L274.25 128.7L272.56 129.01L270.87 129.33L269.19 129.65L267.52 129.97L265.85 130.28L264.2 130.6L262.54 130.92L260.9 131.24L259.26 131.56L257.62 131.88L256 132.2L254.38 132.51L252.77 132.83L251.16 133.15L249.56 133.47L247.97 133.79L246.38 134.11L244.8 134.43L243.23 134.75L241.66 135.07L240.1 135.39L238.55 135.71L237 136.03L235.46 136.35L233.93 136.67L232.4 136.99L230.88 137.31L229.37 137.63L227.86 137.95L226.36 138.27L224.87 138.59L223.38 138.91L221.9 139.23L220.42 139.56L218.96 139.88L217.5 140.2L216.04 140.52L214.59 140.84L213.15 141.16L211.72 141.48L210.29 141.8L208.87 142.11L207.46 142.43L206.05 142.75L204.65 143.07L203.25 143.39L201.86 143.71L200.48 144.03L199.11 144.35L197.74 144.67L196.38 144.99L195.02 145.3L193.67 145.62L192.33 145.94L191 146.26L189.67 146.57L188.35 146.89L187.03 147.21L185.72 147.52L184.42 147.84L183.12 148.16L181.83 148.47L180.55 148.79L179.28 149.1L178.01 149.42L176.74 149.73L175.49 150.05L174.24 150.36L173 150.67L171.76 150.99L170.53 151.3L169.31 151.61L168.09 151.92L166.88 152.24L165.68 152.55L164.48 152.86L163.29 153.17L162.11 153.48L160.93 153.79L159.76 154.1L158.6 154.41L157.44 154.71L156.29 155.02L155.14 155.33L154.01 155.64L152.88 155.94L151.75 156.25L150.63 156.55L149.52 156.86L148.42 157.16L147.32 157.47L146.23 157.77L145.14 158.07L144.07 158.37L142.99 158.68L141.93 158.98L140.87 159.28L139.82 159.58L138.77 159.88L137.74 160.17L136.7 160.47L135.68 160.77L134.66 161.06L133.65 161.36L132.64 161.66L131.64 161.95L130.65 162.24L129.66 162.54L128.68 162.83L127.71 163.12L126.74 163.41L125.78 163.7L124.83 163.99L123.88 164.28L122.94 164.57L122.01 164.85L121.08 165.14L120.16 165.43L119.25 165.71L118.34 166L117.44 166.28L116.55 166.56L115.66 166.84L114.78 167.12L113.9 167.4L113.03 167.68L112.17 167.96L111.32 168.24L110.47 168.51L109.63 168.79L108.79 169.06L107.96 169.34L107.14 169.61L106.32 169.88L105.51 170.15L104.71 170.42L103.92 170.69L103.13 170.96L102.34 171.22L101.57 171.49L100.8 171.76L100.03 172.02L99.27 172.28L98.52 172.55L97.78 172.81L97.04 173.07L96.31 173.33L95.59 173.58L94.87 173.84L94.16 174.1L93.45 174.35L92.75 174.61L92.06 174.86L91.37 175.11L90.7 175.36L90.02 175.61L89.36 175.86L88.7 176.11L88.04 176.35L87.4 176.6L86.76 176.84L86.12 177.08L85.49 177.33L84.87 177.57L84.26 177.81L83.65 178.05L83.05 178.28L82.45 178.52L81.87 178.76L81.28 178.99L80.71 179.22L80.14 179.46L79.58 179.69L79.02 179.92L78.47 180.14L77.93 180.37L77.39 180.6L76.86 180.82L76.33 181.05L75.79 181.28L75.26 181.52L74.76 181.75L74.29 181.96L73.85 182.15L73.43 182.32L73.01 182.49L72.58 182.65L72.15 182.81L71.72 182.96L71.3 183.11L70.88 183.26L70.46 183.4L70.04 183.54L69.62 183.68L69.2 183.83L68.79 183.97L68.37 184.11L67.96 184.26L67.54 184.42L67.13 184.57L66.71 184.74L66.3 184.91L65.88 185.09L65.46 185.28L65.05 185.48L64.63 185.7L64.22 185.92L63.84 186.14L63.47 186.36L63.1 186.59L62.73 186.84L62.34 187.1L61.96 187.38L61.58 187.69L61.2 188.01L60.82 188.37L60.45 188.74L60.1 189.11L59.76 189.51L59.39 189.98L59 190.55L58.63 191.2L58.26 191.98L57.91 193L57.63 194.21L57.4 195.49L57.2 196.79L57.01 197.99L56.84 198.94L56.68 199.66L56.5 200.43L56.33 201.22L56.17 202L56.01 202.76L55.86 203.51L55.72 204.25L55.58 204.97L55.45 205.67L55.33 206.34L55.22 207L55.11 207.63L55.01 208.23L54.92 208.8L54.83 209.34L54.75 209.85L54.68 210.32L54.61 210.76L54.55 211.15L54.5 211.51L54.46 211.82L54.42 212.08L54.39 212.29L54.37 212.45Z" fill="#007f00"/><path d="M285.03 133.23L288.73 127.23L281.33 127.23Z" fill="#007f00"/><path d="M58.18 216.69L61.88 210.69L54.48 210.69Z" fill="#007f00"/>
<rect x="55.99" y="217.7" width="4.32" height="4.32" fill="#000000"/>
<circle cx="58.15" cy="219.86" r="3.1" fill="#ff0000"/>
<path d="M58.15 215.7L62.3 222.42L54.01 222.42Z" fill="#0000ff"/>
<path d="M58.15 224.03L62.3 217.31L54.01 217.31Z" fill="#007f00"/>
<rect x="42.5" y="10.6" width="133.5" height="61.8" fill="#fff" stroke="#6e6e6e" stroke-width="1"/>
<path d="M44.2 18.7H71.5" stroke="#555" stroke-width="1"/>
<rect x="55.3" y="16" width="5.4" height="5.4" fill="#000000"/>
<text x="74.4" y="22.9" font-size="12.4">Saturate</text>
<path d="M44.2 33.9H71.5" stroke="#ffbcbc" stroke-width="2"/>
<circle cx="58" cy="33.9" r="3.1" fill="#ff0000"/>
<text x="74.4" y="38.1" font-size="12.4">Naphthene aromatic</text>
<path d="M44.2 49.1H71.5" stroke="#bcbcff" stroke-width="2"/>
<path d="M58 45.38L61.7 51.38L54.3 51.38Z" fill="#0000ff"/>
<text x="74.4" y="53.3" font-size="12.4">Polar aromatic</text>
<path d="M44.2 64.3H71.5" stroke="#4ea04e" stroke-width="1"/>
<path d="M58 68.02L61.7 62.02L54.3 62.02Z" fill="#007f00"/>
<text x="74.4" y="68.5" font-size="12.4">Asphaltene</text>
<path d="M114.5 286.9A7.26 7.26 0 0 0 114.5 300.7A8.28 8.28 0 0 1 114.5 286.9Z" fill="#262626" stroke="#262626" stroke-width="0.25"/>
<text x="117" y="300.1" class="cp">a</text>
<path d="M127.1 286.9A7.26 7.26 0 0 1 127.1 300.7A8.28 8.28 0 0 0 127.1 286.9Z" fill="#262626" stroke="#262626" stroke-width="0.25"/>
<text x="143" y="300.1" class="cp">virgin asphalt</text>
<rect x="379.7" y="4.5" width="294.7" height="236.9" fill="none" stroke="#1a1a1a" stroke-width="1.1"/>
<path d="M402.37 241.4V237M447.71 241.4V237M493.05 241.4V237M538.38 241.4V237M583.72 241.4V237M629.06 241.4V237M674.4 241.4V237M379.7 241.4V239.2M425.04 241.4V239.2M470.38 241.4V239.2M515.72 241.4V239.2M561.05 241.4V239.2M606.39 241.4V239.2M651.73 241.4V239.2M379.7 241.4H384.1M379.7 219.86H384.1M379.7 198.33H384.1M379.7 176.79H384.1M379.7 155.25H384.1M379.7 133.72H384.1M379.7 112.18H384.1M379.7 90.65H384.1M379.7 69.11H384.1M379.7 47.57H384.1M379.7 26.04H384.1M379.7 4.5H384.1M379.7 230.63H381.9M379.7 209.1H381.9M379.7 187.56H381.9M379.7 166.02H381.9M379.7 144.49H381.9M379.7 122.95H381.9M379.7 101.41H381.9M379.7 79.88H381.9M379.7 58.34H381.9M379.7 36.8H381.9M379.7 15.27H381.9" stroke="#1a1a1a" stroke-width="1.1" fill="none"/>
<text x="402.37" y="254.7" text-anchor="middle" font-size="10.45">0</text>
<text x="447.71" y="254.7" text-anchor="middle" font-size="10.45">500</text>
<text x="493.05" y="254.7" text-anchor="middle" font-size="10.45">1000</text>
<text x="538.38" y="254.7" text-anchor="middle" font-size="10.45">1500</text>
<text x="583.72" y="254.7" text-anchor="middle" font-size="10.45">2000</text>
<text x="629.06" y="254.7" text-anchor="middle" font-size="10.45">2500</text>
<text x="674.4" y="254.7" text-anchor="middle" font-size="10.45">3000</text>
<text x="374.4" y="244.8" text-anchor="end" font-size="10.45">-2</text>
<text x="374.4" y="223.26" text-anchor="end" font-size="10.45">0</text>
<text x="374.4" y="201.73" text-anchor="end" font-size="10.45">2</text>
<text x="374.4" y="180.19" text-anchor="end" font-size="10.45">4</text>
<text x="374.4" y="158.65" text-anchor="end" font-size="10.45">6</text>
<text x="374.4" y="137.12" text-anchor="end" font-size="10.45">8</text>
<text x="374.4" y="115.58" text-anchor="end" font-size="10.45">10</text>
<text x="374.4" y="94.05" text-anchor="end" font-size="10.45">12</text>
<text x="374.4" y="72.51" text-anchor="end" font-size="10.45">14</text>
<text x="374.4" y="50.97" text-anchor="end" font-size="10.45">16</text>
<text x="374.4" y="29.44" text-anchor="end" font-size="10.45">18</text>
<text x="374.4" y="7.9" text-anchor="end" font-size="10.45">20</text>
<text x="527.05" y="274.2" text-anchor="middle" font-size="12.3">Time(ps)</text>
<text transform="translate(359.6 122.95) rotate(-90)" text-anchor="middle" font-size="12.3">MSD(&#197;<tspan font-size="8.12" dy="-4.5">2</tspan><tspan dy="4.5">)</tspan></text>
<path d="M406.3 199.57L406.34 198.67L406.38 197.8L406.43 196.95L406.48 196.11L406.54 195.29L406.61 194.49L406.68 193.7L406.76 192.94L406.85 192.19L406.94 191.47L407.03 190.78L407.13 190.11L407.24 189.46L407.35 188.85L407.46 188.27L407.58 187.71L407.71 187.19L407.84 186.69L407.97 186.21L408.11 185.74L408.25 185.29L408.41 184.84L408.57 184.4L408.73 183.96L408.91 183.52L409.09 183.07L409.29 182.6L409.49 182.13L409.71 181.64L409.93 181.14L410.16 180.62L410.41 180.07L410.66 179.5L410.92 178.91L411.18 178.31L411.45 177.69L411.72 177.07L412 176.45L412.28 175.81L412.57 175.18L412.86 174.55L413.15 173.92L413.45 173.29L413.75 172.68L414.06 172.07L414.37 171.48L414.68 170.91L415 170.36L415.31 169.83L415.63 169.32L415.94 168.84L416.26 168.39L416.59 167.95L416.93 167.51L417.28 167.09L417.64 166.67L418.01 166.25L418.39 165.82L418.79 165.4L419.2 164.97L419.63 164.53L420.07 164.08L420.52 163.62L420.99 163.14L421.46 162.65L421.94 162.16L422.4 161.68L422.88 161.2L423.36 160.71L423.85 160.22L424.35 159.73L424.85 159.23L425.36 158.74L425.87 158.24L426.4 157.74L426.93 157.24L427.46 156.73L428.01 156.23L428.56 155.72L429.11 155.21L429.68 154.71L430.25 154.19L430.83 153.68L431.41 153.17L432 152.66L432.6 152.14L433.2 151.63L433.82 151.11L434.43 150.59L435.06 150.08L435.69 149.56L436.33 149.04L436.98 148.52L437.63 148L438.29 147.48L438.96 146.96L439.64 146.44L440.32 145.91L441.02 145.38L441.72 144.84L442.43 144.3L443.14 143.76L443.87 143.21L444.6 142.66L445.33 142.11L446.08 141.55L446.83 140.99L447.58 140.42L448.35 139.86L449.12 139.29L449.89 138.71L450.68 138.14L451.47 137.56L452.27 136.97L453.07 136.38L453.89 135.8L454.7 135.2L455.53 134.61L456.36 134.01L457.2 133.41L458.05 132.8L458.9 132.19L459.76 131.58L460.63 130.97L461.5 130.35L462.38 129.74L463.27 129.11L464.16 128.49L465.06 127.86L465.97 127.23L466.88 126.6L467.81 125.96L468.73 125.32L469.67 124.68L470.61 124.04L471.56 123.39L472.51 122.74L473.48 122.09L474.45 121.44L475.42 120.78L476.4 120.13L477.39 119.46L478.39 118.8L479.39 118.14L480.41 117.47L481.42 116.8L482.45 116.12L483.48 115.45L484.51 114.77L485.56 114.09L486.61 113.41L487.67 112.73L488.73 112.04L489.8 111.35L490.88 110.66L491.97 109.97L493.06 109.27L494.16 108.58L495.26 107.88L496.38 107.18L497.5 106.48L498.62 105.77L499.75 105.06L500.89 104.36L502.04 103.65L503.19 102.93L504.35 102.22L505.52 101.51L506.69 100.79L507.88 100.07L509.06 99.35L510.26 98.63L511.46 97.9L512.67 97.18L513.88 96.45L515.1 95.72L516.33 94.99L517.56 94.26L518.81 93.52L520.05 92.79L521.31 92.05L522.57 91.31L523.84 90.57L525.12 89.83L526.4 89.09L527.69 88.35L528.98 87.6L530.29 86.86L531.6 86.11L532.91 85.36L534.24 84.61L535.57 83.86L536.9 83.11L538.25 82.35L539.6 81.6L540.95 80.84L542.32 80.09L543.69 79.33L545.07 78.57L546.45 77.81L547.84 77.05L549.24 76.29L550.65 75.53L552.06 74.76L553.47 74L554.9 73.24L556.33 72.47L557.77 71.7L559.22 70.94L560.67 70.17L562.13 69.4L563.59 68.63L565.07 67.86L566.54 67.09L568.03 66.32L569.52 65.54L571.02 64.77L572.53 64L574.04 63.23L575.56 62.45L577.09 61.68L578.62 60.9L580.16 60.13L581.71 59.35L583.26 58.58L584.82 57.8L586.39 57.02L587.97 56.25L589.55 55.47L591.14 54.69L592.73 53.91L594.33 53.14L595.94 52.36L597.55 51.58L599.18 50.8L600.8 50.02L602.44 49.24L604.08 48.47L605.73 47.69L607.39 46.91L609.05 46.13L610.72 45.35L612.39 44.58L614.07 43.8L615.76 43.02L617.46 42.24L619.16 41.46L620.87 40.69L622.59 39.91L624.31 39.13L626.04 38.36L627.78 37.58L629.52 36.81L631.27 36.03L633.03 35.26L634.79 34.48L636.57 33.71L638.34 32.94L640.13 32.16L637.94 27.11L636.15 27.89L634.37 28.67L632.59 29.44L630.82 30.22L629.05 31L627.29 31.78L625.54 32.56L623.8 33.34L622.06 34.12L620.33 34.9L618.6 35.68L616.88 36.46L615.17 37.24L613.47 38.02L611.77 38.8L610.08 39.58L608.4 40.36L606.72 41.15L605.05 41.93L603.38 42.71L601.73 43.49L600.08 44.27L598.43 45.06L596.8 45.84L595.17 46.62L593.55 47.4L591.93 48.18L590.32 48.96L588.72 49.75L587.12 50.53L585.53 51.31L583.95 52.09L582.38 52.87L580.81 53.65L579.25 54.43L577.69 55.21L576.14 55.99L574.6 56.76L573.07 57.54L571.54 58.32L570.02 59.1L568.5 59.87L567 60.65L565.5 61.42L564 62.2L562.52 62.97L561.04 63.75L559.56 64.52L558.1 65.29L556.64 66.06L555.18 66.84L553.74 67.61L552.3 68.37L550.86 69.14L549.44 69.91L548.02 70.68L546.61 71.44L545.2 72.21L543.8 72.97L542.41 73.73L541.02 74.5L539.65 75.26L538.27 76.02L536.91 76.77L535.55 77.53L534.2 78.29L532.85 79.04L531.52 79.8L530.19 80.55L528.86 81.3L527.54 82.05L526.23 82.8L524.93 83.55L523.63 84.3L522.34 85.04L521.06 85.78L519.78 86.53L518.51 87.27L517.25 88L515.99 88.74L514.74 89.48L513.5 90.21L512.26 90.95L511.03 91.68L509.81 92.41L508.59 93.13L507.39 93.86L506.18 94.58L504.99 95.31L503.8 96.03L502.62 96.75L501.44 97.47L500.27 98.18L499.11 98.89L497.95 99.61L496.81 100.32L495.66 101.02L494.53 101.73L493.4 102.43L492.28 103.13L491.17 103.83L490.06 104.53L488.96 105.23L487.86 105.92L486.77 106.61L485.69 107.3L484.62 107.99L483.55 108.67L482.49 109.35L481.44 110.03L480.39 110.71L479.35 111.38L478.32 112.06L477.29 112.73L476.27 113.39L475.26 114.06L474.25 114.72L473.25 115.38L472.26 116.04L471.27 116.69L470.29 117.35L469.32 118L468.35 118.64L467.39 119.29L466.44 119.93L465.49 120.57L464.55 121.2L463.62 121.84L462.7 122.47L461.78 123.1L460.86 123.72L459.96 124.34L459.06 124.96L458.17 125.58L457.28 126.19L456.4 126.8L455.53 127.41L454.66 128.01L453.81 128.61L452.95 129.21L452.11 129.8L451.27 130.4L450.44 130.98L449.61 131.57L448.79 132.15L447.98 132.73L447.18 133.31L446.38 133.88L445.59 134.44L444.8 135.01L444.02 135.57L443.25 136.13L442.49 136.69L441.73 137.24L440.98 137.79L440.24 138.33L439.5 138.87L438.77 139.4L438.04 139.94L437.33 140.46L436.61 140.99L435.91 141.52L435.2 142.04L434.51 142.56L433.82 143.09L433.13 143.61L432.45 144.13L431.78 144.66L431.11 145.18L430.45 145.7L429.8 146.22L429.16 146.75L428.52 147.27L427.89 147.79L427.26 148.3L426.64 148.82L426.03 149.34L425.42 149.86L424.83 150.37L424.23 150.88L423.65 151.4L423.07 151.91L422.5 152.42L421.94 152.92L421.38 153.43L420.83 153.93L420.28 154.44L419.75 154.94L419.21 155.43L418.69 155.93L418.17 156.43L417.66 156.92L417.16 157.41L416.67 157.88L416.2 158.34L415.74 158.79L415.27 159.23L414.81 159.68L414.34 160.13L413.88 160.59L413.41 161.05L412.94 161.53L412.48 162.02L412.02 162.53L411.56 163.06L411.1 163.61L410.64 164.18L410.19 164.78L409.75 165.41L409.33 166.05L408.92 166.7L408.52 167.36L408.13 168.03L407.75 168.7L407.38 169.38L407.03 170.06L406.68 170.74L406.34 171.42L406.01 172.09L405.69 172.76L405.38 173.41L405.08 174.05L404.78 174.68L404.5 175.29L404.23 175.87L403.96 176.44L403.7 176.98L403.45 177.51L403.2 178.03L402.95 178.55L402.71 179.07L402.47 179.58L402.24 180.1L402 180.63L401.78 181.16L401.56 181.7L401.34 182.26L401.13 182.84L400.93 183.42L400.73 184.03L400.54 184.66L400.36 185.3L400.19 185.97L400.03 186.67L399.88 187.38L399.74 188.12L399.61 188.87L399.48 189.65L399.36 190.44L399.25 191.25L399.15 192.08L399.06 192.93L398.97 193.79L398.9 194.67L398.82 195.56L398.76 196.46L398.71 197.38L398.66 198.31L398.62 199.24Z" fill="#000000"/><rect x="636.34" y="26.94" width="5.4" height="5.4" fill="#000000"/><rect x="399.76" y="196.7" width="5.4" height="5.4" fill="#000000"/>
<path d="M406.3 199.6L406.34 198.86L406.38 198.16L406.43 197.46L406.48 196.78L406.54 196.12L406.6 195.47L406.67 194.85L406.75 194.24L406.83 193.65L406.92 193.08L407.01 192.54L407.11 192.02L407.21 191.53L407.31 191.07L407.42 190.63L407.53 190.22L407.65 189.82L407.77 189.45L407.89 189.08L408.02 188.73L408.16 188.39L408.3 188.06L408.44 187.73L408.6 187.41L408.76 187.08L408.93 186.75L409.11 186.42L409.3 186.08L409.5 185.73L409.71 185.38L409.93 185.01L410.16 184.63L410.4 184.25L410.63 183.88L410.86 183.53L411.09 183.18L411.34 182.83L411.59 182.48L411.85 182.13L412.12 181.77L412.4 181.41L412.69 181.05L412.98 180.68L413.29 180.31L413.6 179.93L413.93 179.55L414.26 179.16L414.6 178.76L414.95 178.36L415.31 177.94L415.68 177.52L416.07 177.08L416.46 176.63L416.85 176.17L417.25 175.71L417.65 175.24L418.05 174.78L418.46 174.31L418.86 173.85L419.27 173.4L419.69 172.95L420.1 172.51L420.52 172.08L420.94 171.66L421.36 171.25L421.8 170.84L422.25 170.42L422.72 170L423.19 169.59L423.66 169.17L424.15 168.76L424.64 168.35L425.14 167.94L425.64 167.53L426.16 167.12L426.68 166.72L427.2 166.31L427.74 165.91L428.28 165.51L428.83 165.11L429.39 164.71L429.95 164.31L430.52 163.92L431.1 163.52L431.68 163.13L432.27 162.73L432.87 162.34L433.48 161.95L434.09 161.56L434.71 161.17L435.34 160.79L435.98 160.4L436.62 160.02L437.27 159.63L437.92 159.25L438.56 158.89L439.22 158.53L439.89 158.17L440.58 157.8L441.28 157.43L442 157.06L442.73 156.67L443.47 156.28L444.2 155.88L444.95 155.48L445.69 155.08L446.45 154.67L447.21 154.26L447.98 153.85L448.75 153.43L449.53 153.01L450.32 152.59L451.12 152.16L451.92 151.73L452.73 151.3L453.54 150.86L454.36 150.42L455.19 149.98L456.03 149.53L456.87 149.08L457.72 148.63L458.58 148.17L459.44 147.71L460.31 147.25L461.19 146.79L462.07 146.32L462.96 145.85L463.86 145.37L464.76 144.89L465.67 144.41L466.59 143.93L467.51 143.44L468.44 142.95L469.38 142.46L470.32 141.96L471.28 141.47L472.23 140.96L473.2 140.46L474.17 139.95L475.15 139.44L476.13 138.93L477.12 138.42L478.12 137.9L479.13 137.38L480.14 136.86L481.16 136.33L482.19 135.8L483.22 135.27L484.26 134.74L485.3 134.2L486.36 133.67L487.42 133.13L488.48 132.58L489.56 132.04L490.64 131.49L491.72 130.94L492.82 130.39L493.92 129.83L495.03 129.28L496.14 128.72L497.26 128.15L498.39 127.59L499.52 127.03L500.66 126.46L501.81 125.89L502.97 125.32L504.13 124.74L505.3 124.16L506.47 123.59L507.65 123.01L508.84 122.42L510.04 121.84L511.24 121.25L512.45 120.67L513.67 120.08L514.89 119.48L516.12 118.89L517.35 118.29L518.6 117.7L519.85 117.1L521.1 116.5L522.37 115.89L523.64 115.29L524.91 114.68L526.2 114.08L527.49 113.47L528.78 112.86L530.09 112.25L531.4 111.63L532.72 111.02L534.04 110.4L535.37 109.78L536.71 109.16L538.06 108.54L539.41 107.92L540.76 107.3L542.13 106.67L543.5 106.04L544.88 105.42L546.27 104.79L547.66 104.16L549.06 103.53L550.46 102.89L551.87 102.26L553.29 101.63L554.72 100.99L556.15 100.35L557.59 99.72L559.04 99.08L560.49 98.44L561.95 97.8L563.42 97.15L564.89 96.51L566.37 95.87L567.86 95.22L569.35 94.58L570.85 93.93L572.36 93.29L573.87 92.64L575.39 91.99L576.92 91.34L578.46 90.69L580 90.04L581.54 89.39L583.1 88.74L584.66 88.09L586.23 87.43L587.8 86.78L589.38 86.13L590.97 85.47L592.57 84.82L594.17 84.16L595.78 83.51L597.39 82.85L599.02 82.19L600.65 81.54L602.28 80.88L603.92 80.22L605.57 79.57L607.23 78.91L608.89 78.25L610.56 77.59L612.24 76.93L613.92 76.28L615.61 75.62L617.31 74.96L619.01 74.3L620.72 73.64L622.44 72.98L624.16 72.33L625.89 71.67L627.63 71.01L629.38 70.35L631.13 69.69L632.89 69.04L634.65 68.38L636.42 67.72L638.2 67.06L639.99 66.41L638.09 61.24L636.3 61.9L634.51 62.56L632.73 63.22L630.96 63.88L629.2 64.54L627.44 65.2L625.69 65.86L623.94 66.52L622.21 67.18L620.47 67.85L618.75 68.51L617.03 69.17L615.32 69.83L613.62 70.49L611.92 71.15L610.23 71.81L608.55 72.47L606.87 73.13L605.2 73.79L603.54 74.45L601.88 75.11L600.23 75.77L598.59 76.43L596.96 77.09L595.33 77.75L593.71 78.41L592.09 79.07L590.48 79.72L588.88 80.38L587.29 81.04L585.7 81.69L584.12 82.35L582.54 83L580.97 83.66L579.41 84.31L577.86 84.97L576.31 85.62L574.77 86.27L573.24 86.92L571.71 87.57L570.19 88.22L568.68 88.87L567.17 89.52L565.67 90.17L564.18 90.81L562.69 91.46L561.21 92.1L559.74 92.75L558.27 93.39L556.81 94.03L555.36 94.67L553.92 95.31L552.48 95.95L551.05 96.59L549.62 97.23L548.2 97.86L546.79 98.5L545.39 99.13L543.99 99.76L542.6 100.39L541.21 101.02L539.84 101.65L538.46 102.27L537.1 102.9L535.74 103.52L534.39 104.15L533.05 104.77L531.71 105.39L530.38 106L529.06 106.62L527.74 107.23L526.43 107.85L525.13 108.46L523.83 109.07L522.54 109.68L521.26 110.28L519.99 110.89L518.72 111.49L517.46 112.09L516.2 112.69L514.95 113.29L513.71 113.89L512.47 114.48L511.25 115.07L510.03 115.66L508.81 116.25L507.6 116.84L506.4 117.42L505.21 118L504.02 118.58L502.84 119.16L501.67 119.74L500.5 120.31L499.34 120.88L498.18 121.45L497.04 122.02L495.9 122.58L494.76 123.15L493.64 123.71L492.52 124.26L491.41 124.82L490.3 125.37L489.2 125.92L488.11 126.47L487.02 127.02L485.94 127.56L484.87 128.1L483.8 128.64L482.75 129.17L481.69 129.71L480.65 130.24L479.61 130.76L478.58 131.29L477.55 131.81L476.54 132.33L475.52 132.85L474.52 133.36L473.52 133.87L472.53 134.38L471.55 134.88L470.57 135.38L469.6 135.88L468.63 136.38L467.68 136.87L466.73 137.36L465.78 137.85L464.85 138.33L463.92 138.81L462.99 139.29L462.08 139.77L461.17 140.24L460.27 140.7L459.37 141.17L458.48 141.63L457.6 142.09L456.72 142.54L455.85 142.99L454.99 143.44L454.13 143.89L453.29 144.33L452.45 144.76L451.61 145.2L450.78 145.63L449.96 146.06L449.14 146.48L448.34 146.9L447.54 147.32L446.74 147.73L445.96 148.13L445.17 148.54L444.4 148.94L443.63 149.34L442.87 149.73L442.12 150.12L441.37 150.51L440.64 150.89L439.91 151.26L439.2 151.62L438.48 151.98L437.76 152.34L437.05 152.7L436.32 153.07L435.6 153.45L434.88 153.84L434.18 154.23L433.49 154.62L432.8 155.01L432.13 155.4L431.46 155.79L430.79 156.19L430.14 156.58L429.49 156.98L428.84 157.38L428.2 157.78L427.57 158.18L426.95 158.59L426.33 159L425.72 159.41L425.11 159.82L424.51 160.23L423.92 160.65L423.33 161.06L422.75 161.48L422.18 161.91L421.61 162.33L421.05 162.76L420.49 163.19L419.94 163.62L419.4 164.05L418.87 164.49L418.34 164.93L417.81 165.37L417.3 165.82L416.78 166.27L416.25 166.75L415.74 167.23L415.24 167.72L414.75 168.21L414.27 168.7L413.81 169.19L413.35 169.67L412.9 170.15L412.47 170.62L412.05 171.08L411.63 171.53L411.23 171.97L410.84 172.39L410.46 172.8L410.07 173.21L409.69 173.62L409.31 174.03L408.94 174.43L408.57 174.83L408.21 175.23L407.85 175.63L407.49 176.03L407.14 176.44L406.8 176.84L406.46 177.25L406.12 177.66L405.79 178.08L405.46 178.5L405.14 178.93L404.82 179.37L404.51 179.81L404.22 180.24L403.95 180.65L403.68 181.06L403.42 181.46L403.16 181.87L402.9 182.28L402.65 182.7L402.4 183.13L402.15 183.56L401.91 184.01L401.68 184.47L401.45 184.94L401.23 185.42L401.02 185.92L400.81 186.44L400.61 186.96L400.43 187.51L400.25 188.07L400.08 188.65L399.92 189.25L399.77 189.87L399.63 190.5L399.5 191.15L399.38 191.82L399.27 192.5L399.16 193.2L399.07 193.91L398.98 194.63L398.9 195.37L398.83 196.12L398.77 196.88L398.71 197.65L398.66 198.43L398.62 199.21Z" fill="#0000ff"/><path d="M639.04 60.1L642.74 66.1L635.34 66.1Z" fill="#0000ff"/><path d="M402.46 195.68L406.16 201.68L398.76 201.68Z" fill="#0000ff"/>
<path d="M406.29 202.99L406.32 202.6L406.36 202.26L406.4 201.93L406.45 201.6L406.5 201.29L406.55 200.98L406.61 200.69L406.67 200.41L406.74 200.14L406.81 199.88L406.88 199.64L406.95 199.42L407.03 199.21L407.1 199.02L407.18 198.84L407.27 198.66L407.36 198.47L407.45 198.29L407.55 198.12L407.66 197.95L407.76 197.78L407.88 197.62L407.99 197.46L408.12 197.3L408.24 197.14L408.38 196.99L408.51 196.84L408.66 196.69L408.81 196.54L408.97 196.39L409.14 196.24L409.31 196.09L409.49 195.95L409.66 195.82L409.82 195.7L410.01 195.57L410.2 195.45L410.41 195.32L410.64 195.19L410.88 195.06L411.14 194.93L411.42 194.79L411.71 194.65L412.01 194.5L412.33 194.35L412.67 194.2L413.02 194.04L413.38 193.87L413.75 193.69L414.14 193.51L414.54 193.32L414.95 193.12L415.36 192.91L415.77 192.7L416.17 192.49L416.58 192.28L417 192.07L417.41 191.86L417.83 191.64L418.24 191.43L418.66 191.22L419.08 191.02L419.51 190.82L419.94 190.62L420.37 190.43L420.82 190.23L421.29 190.03L421.76 189.83L422.25 189.63L422.74 189.42L423.23 189.22L423.74 189.02L424.24 188.82L424.76 188.62L425.28 188.42L425.81 188.22L426.35 188.02L426.89 187.82L427.44 187.62L428 187.42L428.56 187.23L429.13 187.03L429.71 186.84L430.29 186.64L430.88 186.45L431.47 186.26L432.08 186.07L432.69 185.88L433.3 185.7L433.93 185.51L434.56 185.33L435.2 185.15L435.84 184.97L436.49 184.8L437.14 184.63L437.8 184.46L438.46 184.3L439.14 184.14L439.83 183.98L440.53 183.82L441.24 183.66L441.97 183.49L442.7 183.33L443.43 183.16L444.17 182.99L444.91 182.83L445.67 182.66L446.43 182.49L447.19 182.32L447.96 182.16L448.74 181.99L449.53 181.82L450.32 181.65L451.12 181.48L451.93 181.31L452.75 181.14L453.57 180.97L454.39 180.8L455.23 180.63L456.07 180.46L456.92 180.28L457.77 180.11L458.64 179.94L459.5 179.77L460.38 179.59L461.26 179.42L462.15 179.25L463.05 179.07L463.95 178.9L464.86 178.72L465.78 178.55L466.7 178.37L467.63 178.2L468.57 178.02L469.51 177.85L470.46 177.67L471.42 177.5L472.39 177.32L473.36 177.14L474.34 176.97L475.32 176.79L476.31 176.61L477.31 176.43L478.32 176.26L479.33 176.08L480.35 175.9L481.38 175.72L482.41 175.54L483.45 175.36L484.49 175.18L485.55 175L486.61 174.82L487.67 174.64L488.75 174.46L489.83 174.28L490.92 174.1L492.01 173.92L493.11 173.74L494.22 173.56L495.33 173.38L496.45 173.2L497.58 173.02L498.72 172.83L499.86 172.65L501.01 172.47L502.16 172.29L503.33 172.11L504.49 171.92L505.67 171.74L506.85 171.56L508.04 171.37L509.24 171.19L510.44 171.01L511.65 170.82L512.87 170.64L514.09 170.46L515.32 170.27L516.56 170.09L517.8 169.9L519.05 169.72L520.31 169.54L521.57 169.35L522.85 169.17L524.12 168.98L525.41 168.8L526.7 168.61L528 168.43L529.3 168.24L530.61 168.06L531.93 167.87L533.26 167.69L534.59 167.5L535.93 167.31L537.27 167.13L538.63 166.94L539.99 166.76L541.35 166.57L542.73 166.38L544.11 166.2L545.49 166.01L546.89 165.83L548.29 165.64L549.69 165.45L551.11 165.27L552.53 165.08L553.95 164.9L555.39 164.71L556.83 164.52L558.28 164.34L559.73 164.15L561.19 163.96L562.66 163.78L564.13 163.59L565.62 163.4L567.1 163.22L568.6 163.03L570.1 162.84L571.61 162.66L573.13 162.47L574.65 162.28L576.18 162.1L577.71 161.91L579.26 161.73L580.81 161.54L582.36 161.35L583.93 161.17L585.5 160.98L587.07 160.79L588.66 160.61L590.25 160.42L591.84 160.24L593.45 160.05L595.06 159.86L596.67 159.68L598.3 159.49L599.93 159.31L601.57 159.12L603.21 158.94L604.86 158.75L606.52 158.57L608.19 158.38L609.86 158.2L611.54 158.01L613.22 157.83L614.91 157.64L616.61 157.46L618.32 157.27L620.03 157.09L621.75 156.9L623.48 156.72L625.21 156.54L626.95 156.35L628.69 156.17L630.45 155.99L632.21 155.8L633.97 155.62L635.75 155.44L637.53 155.25L639.32 155.07L638.76 149.6L636.97 149.78L635.18 149.96L633.41 150.15L631.64 150.33L629.88 150.51L628.12 150.7L626.37 150.88L624.63 151.07L622.89 151.25L621.17 151.43L619.44 151.62L617.73 151.8L616.02 151.99L614.32 152.17L612.62 152.36L610.94 152.54L609.25 152.73L607.58 152.91L605.91 153.1L604.25 153.28L602.6 153.47L600.95 153.65L599.31 153.84L597.68 154.03L596.05 154.21L594.43 154.4L592.81 154.58L591.21 154.77L589.61 154.96L588.01 155.14L586.43 155.33L584.85 155.51L583.28 155.7L581.71 155.89L580.15 156.07L578.6 156.26L577.05 156.45L575.51 156.63L573.98 156.82L572.46 157L570.94 157.19L569.43 157.38L567.92 157.56L566.42 157.75L564.93 157.94L563.45 158.12L561.97 158.31L560.5 158.5L559.03 158.68L557.58 158.87L556.12 159.05L554.68 159.24L553.24 159.43L551.81 159.61L550.39 159.8L548.97 159.98L547.56 160.17L546.16 160.36L544.76 160.54L543.37 160.73L541.99 160.91L540.61 161.1L539.24 161.28L537.88 161.47L536.52 161.65L535.17 161.84L533.83 162.02L532.5 162.21L531.17 162.39L529.85 162.58L528.53 162.76L527.22 162.95L525.92 163.13L524.62 163.32L523.34 163.5L522.05 163.68L520.78 163.87L519.51 164.05L518.25 164.23L517 164.42L515.75 164.6L514.51 164.78L513.27 164.96L512.05 165.15L510.82 165.33L509.61 165.51L508.4 165.69L507.2 165.87L506.01 166.05L504.82 166.23L503.64 166.41L502.47 166.59L501.3 166.77L500.14 166.95L498.99 167.13L497.84 167.31L496.7 167.49L495.57 167.67L494.45 167.85L493.33 168.03L492.21 168.2L491.11 168.38L490.01 168.56L488.92 168.74L487.83 168.91L486.75 169.09L485.68 169.27L484.61 169.44L483.56 169.62L482.5 169.79L481.46 169.97L480.42 170.14L479.39 170.31L478.37 170.49L477.35 170.66L476.34 170.83L475.33 171.01L474.33 171.18L473.34 171.35L472.36 171.52L471.38 171.69L470.41 171.86L469.45 172.03L468.49 172.2L467.54 172.37L466.59 172.54L465.66 172.71L464.73 172.88L463.8 173.04L462.89 173.21L461.98 173.38L461.07 173.54L460.18 173.71L459.29 173.87L458.4 174.04L457.53 174.2L456.66 174.37L455.79 174.53L454.94 174.69L454.09 174.85L453.24 175.02L452.41 175.18L451.58 175.34L450.75 175.5L449.94 175.66L449.13 175.82L448.33 175.98L447.53 176.13L446.74 176.29L445.96 176.45L445.18 176.6L444.41 176.76L443.65 176.92L442.9 177.07L442.15 177.23L441.4 177.38L440.68 177.53L439.95 177.68L439.23 177.83L438.52 177.97L437.8 178.12L437.08 178.28L436.37 178.43L435.66 178.6L434.96 178.77L434.27 178.93L433.59 179.11L432.91 179.28L432.24 179.45L431.58 179.63L430.93 179.81L430.28 179.99L429.64 180.17L429.01 180.35L428.38 180.54L427.76 180.72L427.15 180.91L426.54 181.1L425.94 181.29L425.35 181.48L424.77 181.67L424.19 181.86L423.61 182.05L423.05 182.25L422.49 182.44L421.94 182.63L421.4 182.83L420.86 183.02L420.33 183.21L419.8 183.41L419.29 183.6L418.78 183.79L418.27 183.99L417.77 184.18L417.25 184.39L416.75 184.6L416.26 184.81L415.77 185.02L415.3 185.23L414.84 185.44L414.39 185.65L413.96 185.85L413.53 186.05L413.12 186.24L412.72 186.42L412.33 186.6L411.96 186.76L411.6 186.92L411.24 187.07L410.89 187.22L410.54 187.36L410.18 187.51L409.83 187.65L409.48 187.79L409.12 187.94L408.77 188.08L408.41 188.23L408.05 188.39L407.69 188.55L407.33 188.73L406.97 188.91L406.6 189.1L406.23 189.31L405.86 189.53L405.49 189.76L405.13 190.01L404.8 190.25L404.48 190.49L404.16 190.75L403.85 191.01L403.54 191.28L403.24 191.56L402.95 191.85L402.67 192.15L402.39 192.45L402.13 192.77L401.87 193.09L401.62 193.42L401.38 193.76L401.15 194.11L400.93 194.46L400.71 194.82L400.51 195.19L400.32 195.58L400.13 195.98L399.95 196.4L399.78 196.82L399.63 197.25L399.49 197.68L399.36 198.12L399.24 198.57L399.13 199.02L399.03 199.48L398.94 199.94L398.86 200.41L398.79 200.88L398.73 201.35L398.67 201.83L398.63 202.28Z" fill="#007f00"/><path d="M639.04 156.05L642.74 150.05L635.34 150.05Z" fill="#007f00"/><path d="M402.46 206.35L406.16 200.35L398.76 200.35Z" fill="#007f00"/>
<path d="M406.3 200.21L406.33 199.69L406.37 199.2L406.42 198.73L406.47 198.26L406.52 197.81L406.58 197.37L406.65 196.95L406.72 196.54L406.79 196.15L406.87 195.78L406.95 195.42L407.04 195.09L407.13 194.78L407.22 194.49L407.31 194.23L407.41 193.96L407.51 193.71L407.61 193.46L407.72 193.22L407.84 192.99L407.96 192.77L408.08 192.55L408.21 192.33L408.34 192.12L408.48 191.91L408.63 191.7L408.78 191.5L408.94 191.29L409.11 191.09L409.29 190.88L409.47 190.67L409.67 190.46L409.86 190.26L410.03 190.09L410.19 189.94L410.36 189.79L410.55 189.64L410.76 189.48L410.99 189.32L411.23 189.15L411.49 188.97L411.78 188.79L412.08 188.6L412.41 188.39L412.75 188.18L413.11 187.95L413.49 187.71L413.88 187.45L414.28 187.17L414.7 186.88L415.13 186.56L415.6 186.2L416.09 185.79L416.56 185.37L417.01 184.95L417.45 184.52L417.89 184.09L418.31 183.66L418.73 183.23L419.15 182.82L419.56 182.41L419.96 182.02L420.36 181.66L420.75 181.31L421.14 180.99L421.55 180.67L422 180.32L422.47 179.98L422.93 179.64L423.41 179.3L423.89 178.96L424.38 178.63L424.88 178.3L425.38 177.96L425.89 177.63L426.41 177.3L426.94 176.98L427.47 176.65L428.01 176.33L428.56 176L429.11 175.68L429.68 175.36L430.25 175.04L430.82 174.73L431.41 174.41L432 174.1L432.6 173.79L433.21 173.47L433.82 173.16L434.44 172.86L435.07 172.55L435.7 172.24L436.35 171.94L437 171.64L437.64 171.34L438.29 171.05L438.94 170.77L439.61 170.49L440.3 170.21L441 169.93L441.72 169.64L442.45 169.34L443.18 169.04L443.92 168.73L444.66 168.43L445.41 168.12L446.16 167.81L446.92 167.5L447.69 167.19L448.46 166.87L449.24 166.56L450.03 166.24L450.82 165.92L451.62 165.59L452.43 165.27L453.25 164.94L454.07 164.61L454.89 164.28L455.73 163.95L456.57 163.61L457.42 163.28L458.28 162.94L459.14 162.6L460.01 162.25L460.88 161.91L461.77 161.56L462.66 161.21L463.55 160.86L464.46 160.51L465.37 160.16L466.28 159.8L467.21 159.44L468.14 159.08L469.08 158.72L470.02 158.36L470.97 157.99L471.93 157.63L472.89 157.26L473.86 156.89L474.84 156.52L475.83 156.14L476.82 155.77L477.82 155.39L478.82 155.01L479.84 154.63L480.86 154.25L481.88 153.87L482.91 153.48L483.95 153.1L485 152.71L486.05 152.32L487.11 151.93L488.18 151.53L489.25 151.14L490.33 150.74L491.42 150.35L492.51 149.95L493.62 149.55L494.72 149.14L495.84 148.74L496.96 148.34L498.09 147.93L499.22 147.52L500.36 147.11L501.51 146.7L502.67 146.29L503.83 145.88L505 145.46L506.17 145.04L507.35 144.63L508.54 144.21L509.74 143.79L510.94 143.36L512.15 142.94L513.37 142.52L514.59 142.09L515.82 141.66L517.06 141.24L518.3 140.81L519.55 140.38L520.81 139.94L522.07 139.51L523.34 139.08L524.62 138.64L525.91 138.2L527.2 137.76L528.49 137.33L529.8 136.88L531.11 136.44L532.43 136L533.75 135.56L535.08 135.11L536.42 134.67L537.77 134.22L539.12 133.77L540.48 133.32L541.84 132.87L543.22 132.42L544.6 131.97L545.98 131.51L547.38 131.06L548.78 130.6L550.18 130.15L551.59 129.69L553.01 129.23L554.44 128.77L555.87 128.31L557.32 127.85L558.76 127.39L560.22 126.93L561.68 126.46L563.14 126L564.62 125.53L566.1 125.07L567.59 124.6L569.08 124.13L570.58 123.66L572.09 123.2L573.61 122.73L575.13 122.25L576.66 121.78L578.19 121.31L579.73 120.84L581.28 120.36L582.84 119.89L584.4 119.41L585.97 118.94L587.55 118.46L589.13 117.98L590.72 117.51L592.31 117.03L593.92 116.55L595.53 116.07L597.14 115.59L598.77 115.11L600.4 114.63L602.03 114.15L603.68 113.66L605.33 113.18L606.99 112.7L608.65 112.21L610.32 111.73L612 111.24L613.68 110.76L615.37 110.27L617.07 109.79L618.78 109.3L620.49 108.81L622.21 108.32L623.93 107.84L625.66 107.35L627.4 106.86L629.15 106.37L630.9 105.88L632.66 105.39L634.43 104.9L636.2 104.41L637.98 103.92L639.76 103.43L638.31 98.13L636.52 98.62L634.73 99.11L632.96 99.6L631.19 100.09L629.42 100.58L627.67 101.07L625.92 101.56L624.17 102.05L622.44 102.54L620.71 103.03L618.99 103.52L617.27 104.01L615.56 104.5L613.86 104.98L612.16 105.47L610.47 105.96L608.79 106.44L607.12 106.93L605.45 107.41L603.79 107.9L602.13 108.38L600.48 108.87L598.84 109.35L597.21 109.83L595.58 110.31L593.96 110.79L592.34 111.27L590.74 111.76L589.14 112.23L587.54 112.71L585.95 113.19L584.37 113.67L582.8 114.15L581.23 114.62L579.67 115.1L578.12 115.57L576.57 116.05L575.04 116.52L573.5 116.99L571.98 117.46L570.46 117.94L568.94 118.41L567.44 118.88L565.94 119.34L564.45 119.81L562.96 120.28L561.48 120.75L560.01 121.21L558.55 121.67L557.09 122.14L555.64 122.6L554.19 123.06L552.76 123.52L551.32 123.98L549.9 124.44L548.48 124.9L547.07 125.36L545.67 125.81L544.27 126.27L542.88 126.72L541.5 127.17L540.12 127.63L538.75 128.08L537.39 128.53L536.03 128.97L534.68 129.42L533.34 129.87L532 130.31L530.67 130.76L529.35 131.2L528.03 131.64L526.72 132.08L525.42 132.52L524.13 132.96L522.84 133.4L521.56 133.83L520.28 134.27L519.01 134.7L517.75 135.13L516.5 135.56L515.25 135.99L514.01 136.42L512.77 136.84L511.54 137.27L510.32 137.69L509.11 138.11L507.9 138.54L506.7 138.95L505.51 139.37L504.32 139.79L503.14 140.2L501.97 140.62L500.8 141.03L499.64 141.44L498.49 141.85L497.34 142.26L496.2 142.66L495.07 143.07L493.94 143.47L492.82 143.87L491.71 144.27L490.6 144.67L489.5 145.07L488.41 145.46L487.33 145.86L486.25 146.25L485.17 146.64L484.11 147.03L483.05 147.41L482 147.8L480.95 148.18L479.92 148.56L478.88 148.94L477.86 149.32L476.84 149.69L475.83 150.07L474.83 150.44L473.83 150.81L472.84 151.18L471.85 151.55L470.87 151.91L469.9 152.27L468.94 152.64L467.98 152.99L467.03 153.35L466.09 153.71L465.15 154.06L464.22 154.41L463.3 154.76L462.38 155.11L461.47 155.45L460.57 155.8L459.67 156.14L458.78 156.48L457.9 156.81L457.02 157.15L456.15 157.48L455.29 157.81L454.43 158.14L453.59 158.47L452.74 158.79L451.91 159.11L451.08 159.43L450.26 159.75L449.44 160.07L448.63 160.38L447.83 160.69L447.03 161L446.25 161.31L445.46 161.61L444.69 161.91L443.92 162.21L443.16 162.51L442.4 162.81L441.66 163.1L440.92 163.39L440.19 163.67L439.48 163.95L438.76 164.22L438.04 164.5L437.32 164.77L436.6 165.06L435.87 165.35L435.15 165.65L434.45 165.96L433.76 166.26L433.08 166.57L432.4 166.87L431.73 167.18L431.07 167.49L430.41 167.8L429.76 168.11L429.12 168.43L428.48 168.75L427.85 169.07L427.22 169.39L426.6 169.71L425.99 170.04L425.38 170.37L424.78 170.7L424.19 171.03L423.6 171.37L423.02 171.71L422.44 172.05L421.87 172.39L421.31 172.74L420.75 173.09L420.2 173.44L419.66 173.8L419.12 174.16L418.59 174.52L418.06 174.88L417.54 175.25L417 175.64L416.44 176.08L415.9 176.52L415.38 176.97L414.88 177.42L414.4 177.87L413.94 178.3L413.49 178.72L413.07 179.12L412.66 179.49L412.28 179.84L411.93 180.15L411.6 180.42L411.3 180.65L411.01 180.86L410.68 181.07L410.36 181.28L410.04 181.48L409.71 181.67L409.39 181.86L409.06 182.05L408.73 182.23L408.39 182.42L408.05 182.62L407.7 182.82L407.35 183.03L406.99 183.25L406.62 183.49L406.25 183.74L405.87 184.02L405.49 184.31L405.11 184.63L404.76 184.95L404.44 185.25L404.14 185.55L403.84 185.85L403.55 186.16L403.26 186.49L402.98 186.82L402.7 187.16L402.43 187.51L402.17 187.87L401.91 188.24L401.67 188.61L401.43 189L401.2 189.4L400.98 189.81L400.77 190.23L400.56 190.66L400.37 191.1L400.19 191.56L400.02 192.03L399.85 192.52L399.7 193.02L399.56 193.53L399.43 194.05L399.31 194.58L399.2 195.11L399.09 195.66L399 196.21L398.92 196.78L398.84 197.35L398.78 197.92L398.72 198.51L398.66 199.1L398.62 199.67Z" fill="#ff0000"/><circle cx="639.04" cy="100.78" r="3.1" fill="#ff0000"/><circle cx="402.46" cy="199.94" r="3.1" fill="#ff0000"/>
<path d="M402.37 219.86V202.63" stroke="#a83a3a" stroke-width="0.9"/>
<rect x="400.21" y="217.7" width="4.32" height="4.32" fill="#000000"/>
<path d="M402.37 215.7L406.51 222.42L398.23 222.42Z" fill="#0000ff"/>
<path d="M402.37 224.03L406.51 217.31L398.23 217.31Z" fill="#007f00"/>
<circle cx="402.37" cy="219.86" r="3.1" fill="#ff0000"/>
<rect x="392.5" y="11.6" width="133.5" height="62.7" fill="#fff" stroke="#6e6e6e" stroke-width="1"/>
<path d="M393.9 20.2H421.1" stroke="#8a8a8a" stroke-width="1"/>
<rect x="404.8" y="17.5" width="5.4" height="5.4" fill="#000000"/>
<text x="424.2" y="24.4" font-size="12.4">Saturate</text>
<path d="M393.9 35.3H421.1" stroke="#ff5050" stroke-width="1"/>
<circle cx="407.5" cy="35.3" r="3.1" fill="#ff0000"/>
<text x="424.2" y="39.5" font-size="12.4">Naphthene aromatic</text>
<path d="M393.9 50.4H421.1" stroke="#5050ff" stroke-width="1"/>
<path d="M407.5 46.68L411.2 52.68L403.8 52.68Z" fill="#0000ff"/>
<text x="424.2" y="54.6" font-size="12.4">Polar aromatic</text>
<path d="M393.9 65.5H421.1" stroke="#4ea04e" stroke-width="1"/>
<path d="M407.5 69.22L411.2 63.22L403.8 63.22Z" fill="#007f00"/>
<text x="424.2" y="69.7" font-size="12.4">Asphaltene</text>
<path d="M463.5 286.9A7.26 7.26 0 0 0 463.5 300.7A8.28 8.28 0 0 1 463.5 286.9Z" fill="#262626" stroke="#262626" stroke-width="0.25"/>
<text x="466.3" y="300.1" class="cp">b</text>
<path d="M477.7 286.9A7.26 7.26 0 0 1 477.7 300.7A8.28 8.28 0 0 0 477.7 286.9Z" fill="#262626" stroke="#262626" stroke-width="0.25"/>
<text x="492.5" y="300.1" class="cp">aged asphalt</text>
<rect x="31.4" y="311.6" width="304.2" height="241.8" fill="none" stroke="#1a1a1a" stroke-width="1.1"/>
<path d="M56.75 553.4V549M107.45 553.4V549M158.15 553.4V549M208.85 553.4V549M259.55 553.4V549M310.25 553.4V549M31.4 553.4V551.2M82.1 553.4V551.2M132.8 553.4V551.2M183.5 553.4V551.2M234.2 553.4V551.2M284.9 553.4V551.2M335.6 553.4V551.2M31.4 533.25H35.8M31.4 492.95H35.8M31.4 452.65H35.8M31.4 412.35H35.8M31.4 372.05H35.8M31.4 331.75H35.8M31.4 553.4H33.6M31.4 513.1H33.6M31.4 472.8H33.6M31.4 432.5H33.6M31.4 392.2H33.6M31.4 351.9H33.6M31.4 311.6H33.6" stroke="#1a1a1a" stroke-width="1.1" fill="none"/>
<text x="56.75" y="566.7" text-anchor="middle" font-size="10.8">0</text>
<text x="107.45" y="566.7" text-anchor="middle" font-size="10.8">1000</text>
<text x="158.15" y="566.7" text-anchor="middle" font-size="10.8">2000</text>
<text x="208.85" y="566.7" text-anchor="middle" font-size="10.8">3000</text>
<text x="259.55" y="566.7" text-anchor="middle" font-size="10.8">4000</text>
<text x="310.25" y="566.7" text-anchor="middle" font-size="10.8">5000</text>
<text x="26.1" y="536.65" text-anchor="end" font-size="10.8">0</text>
<text x="26.1" y="496.35" text-anchor="end" font-size="10.8">10</text>
<text x="26.1" y="456.05" text-anchor="end" font-size="10.8">20</text>
<text x="26.1" y="415.75" text-anchor="end" font-size="10.8">30</text>
<text x="26.1" y="375.45" text-anchor="end" font-size="10.8">40</text>
<text x="26.1" y="335.15" text-anchor="end" font-size="10.8">50</text>
<text x="183.5" y="586.2" text-anchor="middle" font-size="12.6">Time(ps)</text>
<text transform="translate(11 432.5) rotate(-90)" text-anchor="middle" font-size="12.6">MSD(&#197;<tspan font-size="8.32" dy="-4.5">2</tspan><tspan dy="4.5">)</tspan></text>
<path d="M60.64 524.18L60.67 523.61L60.71 523.06L60.75 522.51L60.79 521.96L60.85 521.41L60.91 520.86L60.97 520.31L61.05 519.76L61.12 519.21L61.21 518.66L61.3 518.11L61.4 517.56L61.51 517.01L61.62 516.46L61.74 515.91L61.86 515.36L62 514.81L62.14 514.26L62.28 513.71L62.43 513.16L62.59 512.61L62.76 512.05L62.93 511.5L63.11 510.95L63.3 510.38L63.5 509.79L63.71 509.18L63.93 508.56L64.15 507.93L64.38 507.31L64.6 506.7L64.84 506.1L65.07 505.51L65.31 504.95L65.54 504.43L65.77 503.93L66 503.49L66.22 503.09L66.43 502.75L66.62 502.47L66.84 502.18L67.09 501.89L67.34 501.6L67.59 501.33L67.86 501.06L68.13 500.8L68.42 500.55L68.71 500.3L69.02 500.05L69.34 499.81L69.67 499.57L70.02 499.33L70.38 499.08L70.75 498.84L71.14 498.6L71.54 498.35L71.95 498.1L72.38 497.84L72.82 497.58L73.28 497.32L73.75 497.04L74.23 496.76L74.72 496.46L75.23 496.16L75.74 495.85L76.27 495.52L76.81 495.18L77.36 494.82L77.93 494.44L78.51 494.03L79.08 493.63L79.63 493.22L80.16 492.84L80.68 492.46L81.22 492.09L81.78 491.72L82.35 491.34L82.92 490.96L83.5 490.58L84.09 490.2L84.69 489.81L85.29 489.43L85.91 489.05L86.53 488.67L87.15 488.29L87.79 487.9L88.43 487.52L89.08 487.14L89.74 486.75L90.41 486.37L91.08 485.99L91.76 485.6L92.45 485.22L93.15 484.83L93.85 484.45L94.56 484.06L95.28 483.67L96.01 483.29L96.74 482.9L97.48 482.51L98.23 482.13L98.99 481.74L99.76 481.35L100.53 480.96L101.31 480.57L102.09 480.18L102.89 479.79L103.69 479.4L104.5 479.01L105.32 478.62L106.14 478.23L106.98 477.84L107.82 477.45L108.66 477.06L109.52 476.66L110.38 476.27L111.25 475.88L112.13 475.49L113.01 475.09L113.91 474.7L114.81 474.3L115.71 473.91L116.63 473.51L117.55 473.12L118.48 472.72L119.42 472.32L120.36 471.93L121.32 471.53L122.28 471.13L123.24 470.73L124.22 470.33L125.2 469.93L126.19 469.54L127.19 469.13L128.19 468.73L129.2 468.33L130.22 467.93L131.25 467.53L132.28 467.13L133.32 466.72L134.37 466.32L135.43 465.92L136.49 465.51L137.57 465.11L138.64 464.7L139.73 464.29L140.82 463.89L141.93 463.48L143.03 463.07L144.15 462.66L145.27 462.25L146.4 461.84L147.54 461.43L148.69 461.02L149.84 460.61L151 460.2L152.17 459.78L153.34 459.37L154.53 458.96L155.72 458.54L156.91 458.13L158.12 457.71L159.33 457.29L160.55 456.88L161.78 456.46L163.01 456.04L164.25 455.62L165.5 455.2L166.76 454.78L168.02 454.36L169.29 453.93L170.57 453.51L171.86 453.09L173.15 452.66L174.45 452.23L175.76 451.81L177.08 451.38L178.4 450.95L179.73 450.52L181.07 450.09L182.41 449.66L183.76 449.23L185.12 448.8L186.49 448.37L187.86 447.93L189.25 447.5L190.63 447.06L192.03 446.63L193.43 446.19L194.85 445.75L196.26 445.31L197.69 444.87L199.12 444.43L200.56 443.99L202.01 443.55L203.47 443.1L204.93 442.66L206.4 442.21L207.88 441.77L209.36 441.32L210.85 440.87L212.35 440.42L213.86 439.97L215.37 439.52L216.89 439.07L218.42 438.62L219.96 438.16L221.5 437.71L223.05 437.25L224.61 436.79L226.18 436.33L227.75 435.87L229.33 435.41L230.92 434.95L232.51 434.49L234.11 434.03L235.72 433.56L237.34 433.1L238.97 432.63L240.6 432.16L242.24 431.69L243.88 431.22L245.54 430.75L247.2 430.28L248.86 429.8L250.54 429.33L252.22 428.85L253.91 428.38L255.61 427.9L257.32 427.42L259.03 426.94L260.75 426.46L262.48 425.97L264.21 425.49L265.95 425L267.7 424.52L269.46 424.03L271.22 423.54L272.99 423.05L274.77 422.56L276.55 422.07L278.35 421.57L280.15 421.08L281.96 420.58L283.77 420.08L285.59 419.58L287.42 419.08L289.26 418.58L291.1 418.08L292.96 417.57L294.81 417.07L296.68 416.56L298.55 416.05L300.44 415.54L302.32 415.03L304.22 414.52L306.12 414.01L308.03 413.49L309.95 412.98L308.52 407.67L306.6 408.18L304.69 408.7L302.79 409.21L300.89 409.72L299 410.24L297.12 410.75L295.24 411.25L293.37 411.76L291.51 412.27L289.66 412.77L287.81 413.28L285.97 413.78L284.14 414.28L282.32 414.78L280.5 415.28L278.69 415.77L276.89 416.27L275.09 416.76L273.31 417.26L271.52 417.75L269.75 418.24L267.99 418.73L266.23 419.22L264.48 419.7L262.73 420.19L260.99 420.67L259.27 421.16L257.54 421.64L255.83 422.12L254.12 422.6L252.42 423.08L250.73 423.56L249.04 424.03L247.36 424.51L245.69 424.98L244.03 425.46L242.37 425.93L240.72 426.4L239.08 426.87L237.45 427.34L235.82 427.81L234.2 428.27L232.59 428.74L230.98 429.2L229.38 429.66L227.79 430.13L226.21 430.59L224.63 431.05L223.06 431.51L221.5 431.96L219.95 432.42L218.4 432.88L216.86 433.33L215.33 433.79L213.8 434.24L212.28 434.69L210.77 435.14L209.27 435.59L207.77 436.04L206.28 436.49L204.8 436.93L203.33 437.38L201.86 437.83L200.4 438.27L198.95 438.71L197.5 439.16L196.07 439.6L194.64 440.04L193.21 440.48L191.8 440.91L190.39 441.35L188.99 441.79L187.59 442.23L186.2 442.66L184.82 443.09L183.45 443.53L182.09 443.96L180.73 444.39L179.38 444.82L178.03 445.25L176.7 445.68L175.37 446.11L174.05 446.54L172.73 446.96L171.43 447.39L170.13 447.81L168.83 448.24L167.55 448.66L166.27 449.08L165 449.5L163.74 449.93L162.48 450.35L161.23 450.77L159.99 451.18L158.75 451.6L157.53 452.02L156.31 452.44L155.09 452.85L153.89 453.27L152.69 453.68L151.5 454.09L150.32 454.51L149.14 454.92L147.97 455.33L146.81 455.74L145.65 456.15L144.5 456.56L143.36 456.97L142.23 457.38L141.11 457.78L139.99 458.19L138.87 458.6L137.77 459L136.67 459.41L135.58 459.81L134.5 460.21L133.43 460.62L132.36 461.02L131.3 461.42L130.24 461.82L129.2 462.22L128.16 462.62L127.12 463.02L126.1 463.42L125.08 463.82L124.07 464.22L123.07 464.61L122.07 465.01L121.08 465.41L120.1 465.8L119.12 466.2L118.16 466.59L117.19 466.99L116.24 467.38L115.3 467.77L114.36 468.16L113.42 468.56L112.5 468.95L111.58 469.34L110.67 469.73L109.77 470.12L108.87 470.51L107.98 470.9L107.1 471.29L106.23 471.68L105.36 472.07L104.5 472.45L103.64 472.84L102.8 473.23L101.96 473.61L101.13 474L100.3 474.39L99.48 474.77L98.67 475.16L97.87 475.54L97.07 475.93L96.28 476.31L95.5 476.7L94.72 477.08L93.96 477.47L93.19 477.85L92.44 478.23L91.69 478.62L90.95 479L90.22 479.38L89.49 479.76L88.77 480.15L88.06 480.53L87.36 480.91L86.66 481.29L85.97 481.68L85.28 482.06L84.61 482.44L83.94 482.82L83.27 483.2L82.62 483.59L81.97 483.97L81.32 484.35L80.69 484.73L80.06 485.11L79.44 485.5L78.83 485.88L78.22 486.26L77.62 486.64L77.01 487.04L76.4 487.44L75.82 487.84L75.27 488.22L74.75 488.57L74.26 488.89L73.78 489.19L73.28 489.48L72.8 489.77L72.31 490.05L71.83 490.32L71.35 490.58L70.87 490.84L70.4 491.1L69.93 491.35L69.46 491.6L68.99 491.85L68.52 492.11L68.06 492.36L67.59 492.63L67.13 492.89L66.66 493.17L66.2 493.45L65.74 493.75L65.27 494.05L64.81 494.37L64.36 494.71L63.9 495.06L63.45 495.43L63.01 495.81L62.57 496.22L62.13 496.64L61.71 497.09L61.29 497.56L60.86 498.08L60.42 498.67L60.01 499.29L59.63 499.94L59.27 500.59L58.93 501.26L58.61 501.93L58.3 502.62L58 503.3L57.72 503.99L57.44 504.68L57.18 505.35L56.93 506.01L56.69 506.66L56.46 507.28L56.24 507.89L56.01 508.51L55.79 509.14L55.58 509.77L55.38 510.4L55.18 511.03L55 511.67L54.82 512.3L54.65 512.93L54.48 513.57L54.33 514.2L54.18 514.84L54.04 515.48L53.91 516.11L53.78 516.75L53.67 517.39L53.56 518.03L53.46 518.67L53.37 519.31L53.29 519.95L53.21 520.59L53.14 521.23L53.08 521.88L53.03 522.52L52.99 523.16L52.96 523.78Z" fill="#000000"/><rect x="306.54" y="407.62" width="5.4" height="5.4" fill="#000000"/><rect x="54.1" y="521.28" width="5.4" height="5.4" fill="#000000"/>
<path d="M60.64 527.47L60.67 527.05L60.7 526.67L60.74 526.29L60.78 525.91L60.83 525.53L60.88 525.15L60.95 524.77L61.01 524.4L61.09 524.02L61.17 523.65L61.25 523.27L61.34 522.9L61.44 522.52L61.55 522.15L61.66 521.78L61.77 521.4L61.9 521.03L62.03 520.66L62.16 520.29L62.31 519.91L62.45 519.54L62.61 519.17L62.77 518.79L62.94 518.42L63.12 518.04L63.31 517.64L63.52 517.23L63.73 516.81L63.94 516.4L64.15 515.99L64.37 515.58L64.59 515.18L64.82 514.79L65.05 514.42L65.27 514.05L65.5 513.71L65.73 513.38L65.95 513.08L66.17 512.8L66.39 512.55L66.59 512.33L66.8 512.12L67.04 511.9L67.3 511.67L67.57 511.46L67.85 511.24L68.14 511.03L68.44 510.82L68.75 510.62L69.08 510.41L69.42 510.21L69.77 510L70.13 509.8L70.51 509.59L70.9 509.39L71.3 509.18L71.72 508.97L72.15 508.75L72.59 508.54L73.01 508.33L73.43 508.13L73.86 507.94L74.31 507.74L74.78 507.54L75.27 507.34L75.76 507.13L76.25 506.93L76.75 506.73L77.25 506.53L77.77 506.33L78.29 506.13L78.82 505.93L79.36 505.73L79.91 505.53L80.46 505.33L81.02 505.14L81.59 504.94L82.17 504.74L82.75 504.55L83.35 504.35L83.95 504.16L84.55 503.96L85.17 503.77L85.79 503.57L86.43 503.38L87.06 503.19L87.71 503L88.37 502.8L89.03 502.61L89.7 502.42L90.37 502.23L91.06 502.04L91.75 501.85L92.45 501.66L93.16 501.47L93.88 501.28L94.6 501.09L95.33 500.91L96.07 500.72L96.81 500.53L97.57 500.34L98.33 500.16L99.1 499.97L99.87 499.79L100.66 499.6L101.45 499.41L102.24 499.23L103.05 499.04L103.86 498.86L104.69 498.68L105.51 498.49L106.35 498.31L107.19 498.12L108.04 497.94L108.9 497.76L109.77 497.57L110.64 497.39L111.52 497.21L112.41 497.03L113.31 496.84L114.21 496.66L115.12 496.48L116.04 496.3L116.97 496.11L117.9 495.93L118.84 495.75L119.79 495.57L120.74 495.39L121.71 495.2L122.68 495.02L123.66 494.84L124.64 494.66L125.63 494.47L126.63 494.29L127.64 494.11L128.66 493.93L129.68 493.74L130.71 493.56L131.75 493.38L132.79 493.2L133.84 493.01L134.9 492.83L135.97 492.65L137.04 492.46L138.12 492.28L139.21 492.09L140.31 491.91L141.41 491.72L142.53 491.54L143.64 491.35L144.77 491.17L145.9 490.98L147.04 490.8L148.19 490.61L149.35 490.42L150.51 490.23L151.68 490.05L152.86 489.86L154.04 489.67L155.24 489.48L156.44 489.29L157.64 489.1L158.86 488.91L160.08 488.72L161.31 488.53L162.55 488.33L163.79 488.14L165.04 487.95L166.3 487.75L167.57 487.56L168.84 487.36L170.12 487.17L171.41 486.97L172.7 486.77L174.01 486.58L175.32 486.38L176.63 486.18L177.96 485.98L179.29 485.78L180.63 485.58L181.98 485.37L183.33 485.17L184.69 484.97L186.06 484.76L187.44 484.56L188.82 484.35L190.22 484.15L191.61 483.94L193.02 483.73L194.43 483.52L195.85 483.31L197.28 483.1L198.72 482.88L200.16 482.67L201.61 482.46L203.07 482.24L204.53 482.03L206 481.81L207.48 481.59L208.97 481.37L210.46 481.15L211.96 480.93L213.47 480.71L214.99 480.48L216.51 480.26L218.04 480.03L219.58 479.81L221.13 479.58L222.68 479.35L224.24 479.12L225.81 478.89L227.38 478.65L228.96 478.42L230.55 478.19L232.15 477.95L233.75 477.71L235.37 477.47L236.98 477.23L238.61 476.99L240.24 476.75L241.88 476.5L243.53 476.26L245.19 476.01L246.85 475.76L248.52 475.51L250.2 475.26L251.88 475.01L253.58 474.76L255.27 474.5L256.98 474.25L258.7 473.99L260.42 473.73L262.15 473.47L263.88 473.2L265.63 472.94L267.38 472.67L269.13 472.41L270.9 472.14L272.67 471.87L274.45 471.6L276.24 471.32L278.03 471.05L279.84 470.77L281.65 470.49L283.46 470.21L285.29 469.93L287.12 469.65L288.96 469.36L290.8 469.08L292.66 468.79L294.52 468.5L296.39 468.21L298.26 467.91L300.14 467.62L302.03 467.32L303.93 467.02L305.84 466.72L307.75 466.42L309.67 466.11L308.81 460.68L306.89 460.98L304.98 461.29L303.07 461.59L301.18 461.89L299.29 462.18L297.41 462.48L295.54 462.77L293.67 463.06L291.81 463.35L289.96 463.64L288.11 463.93L286.28 464.21L284.45 464.49L282.62 464.78L280.81 465.06L279 465.33L277.2 465.61L275.41 465.88L273.62 466.16L271.84 466.43L270.07 466.7L268.31 466.97L266.55 467.23L264.8 467.5L263.06 467.76L261.32 468.03L259.6 468.29L257.88 468.55L256.16 468.8L254.46 469.06L252.76 469.31L251.07 469.57L249.38 469.82L247.71 470.07L246.04 470.32L244.38 470.57L242.72 470.81L241.07 471.06L239.43 471.3L237.8 471.55L236.18 471.79L234.56 472.03L232.95 472.26L231.34 472.5L229.75 472.74L228.16 472.97L226.58 473.21L225 473.44L223.44 473.67L221.88 473.9L220.32 474.13L218.78 474.36L217.24 474.58L215.71 474.81L214.19 475.03L212.67 475.25L211.16 475.48L209.66 475.7L208.17 475.92L206.68 476.13L205.2 476.35L203.73 476.57L202.26 476.78L200.8 477L199.35 477.21L197.91 477.42L196.47 477.64L195.05 477.85L193.62 478.06L192.21 478.26L190.8 478.47L189.4 478.68L188.01 478.88L186.63 479.09L185.25 479.29L183.88 479.5L182.52 479.7L181.16 479.9L179.81 480.1L178.47 480.3L177.14 480.5L175.81 480.7L174.49 480.9L173.18 481.09L171.87 481.29L170.58 481.49L169.29 481.68L168 481.87L166.73 482.07L165.46 482.26L164.2 482.45L162.94 482.64L161.7 482.83L160.46 483.02L159.23 483.21L158 483.4L156.78 483.59L155.57 483.78L154.37 483.96L153.17 484.15L151.99 484.34L150.8 484.52L149.63 484.71L148.46 484.89L147.3 485.07L146.15 485.26L145.01 485.44L143.87 485.62L142.74 485.8L141.61 485.99L140.5 486.17L139.39 486.35L138.29 486.53L137.19 486.71L136.11 486.89L135.03 487.07L133.95 487.24L132.89 487.42L131.83 487.6L130.78 487.78L129.74 487.96L128.7 488.13L127.67 488.31L126.65 488.49L125.63 488.66L124.62 488.84L123.62 489.01L122.63 489.19L121.64 489.37L120.67 489.54L119.69 489.72L118.73 489.89L117.77 490.07L116.82 490.24L115.88 490.42L114.94 490.59L114.02 490.76L113.09 490.94L112.18 491.11L111.27 491.29L110.37 491.46L109.48 491.64L108.59 491.81L107.72 491.98L106.84 492.16L105.98 492.33L105.12 492.51L104.27 492.68L103.43 492.85L102.6 493.03L101.77 493.2L100.95 493.38L100.13 493.55L99.32 493.73L98.52 493.9L97.73 494.08L96.95 494.25L96.17 494.43L95.4 494.61L94.63 494.78L93.87 494.96L93.12 495.14L92.38 495.31L91.64 495.49L90.91 495.67L90.19 495.85L89.48 496.02L88.77 496.2L88.07 496.38L87.37 496.56L86.68 496.74L86 496.92L85.33 497.11L84.66 497.29L84 497.47L83.35 497.65L82.71 497.84L82.07 498.02L81.44 498.21L80.81 498.39L80.19 498.58L79.58 498.76L78.98 498.95L78.38 499.14L77.79 499.33L77.21 499.52L76.63 499.71L76.06 499.9L75.49 500.1L74.94 500.29L74.39 500.48L73.85 500.68L73.31 500.88L72.78 501.07L72.27 501.27L71.76 501.46L71.24 501.67L70.72 501.88L70.19 502.1L69.7 502.32L69.22 502.52L68.76 502.73L68.29 502.94L67.83 503.16L67.37 503.38L66.91 503.6L66.45 503.83L65.99 504.07L65.54 504.32L65.08 504.58L64.63 504.84L64.18 505.12L63.74 505.42L63.3 505.73L62.86 506.05L62.43 506.39L61.99 506.76L61.54 507.16L61.1 507.6L60.68 508.05L60.28 508.52L59.9 508.99L59.54 509.47L59.2 509.95L58.86 510.44L58.55 510.93L58.24 511.42L57.95 511.91L57.67 512.39L57.4 512.87L57.14 513.34L56.89 513.81L56.65 514.26L56.42 514.7L56.18 515.16L55.95 515.63L55.73 516.11L55.52 516.58L55.31 517.06L55.11 517.53L54.93 518.01L54.74 518.5L54.57 518.98L54.41 519.47L54.25 519.96L54.1 520.45L53.96 520.94L53.83 521.43L53.71 521.93L53.6 522.43L53.49 522.93L53.4 523.43L53.31 523.93L53.23 524.43L53.16 524.94L53.09 525.44L53.04 525.95L53 526.46L52.96 526.94Z" fill="#ff0000"/><circle cx="309.24" cy="463.4" r="3.1" fill="#ff0000"/><circle cx="56.8" cy="527.2" r="3.1" fill="#ff0000"/>
<path d="M60.64 525.43L60.67 524.96L60.7 524.52L60.74 524.09L60.78 523.67L60.83 523.25L60.89 522.83L60.95 522.42L61.02 522.01L61.1 521.61L61.18 521.21L61.26 520.81L61.35 520.42L61.45 520.04L61.55 519.65L61.66 519.28L61.78 518.9L61.9 518.53L62.03 518.16L62.16 517.8L62.3 517.44L62.44 517.09L62.59 516.73L62.75 516.38L62.91 516.04L63.08 515.7L63.26 515.35L63.44 515.01L63.63 514.66L63.83 514.33L64.03 513.99L64.24 513.66L64.45 513.33L64.67 513.01L64.89 512.69L65.12 512.38L65.35 512.07L65.59 511.77L65.84 511.48L66.09 511.19L66.34 510.91L66.6 510.64L66.86 510.37L67.13 510.11L67.41 509.86L67.7 509.6L67.99 509.36L68.3 509.11L68.61 508.86L68.94 508.62L69.27 508.38L69.62 508.14L69.97 507.9L70.34 507.66L70.72 507.42L71.11 507.18L71.5 506.94L71.91 506.7L72.33 506.46L72.76 506.22L73.2 505.97L73.65 505.72L74.11 505.47L74.58 505.22L75.06 504.96L75.55 504.7L76.05 504.44L76.56 504.17L77.08 503.9L77.6 503.62L78.13 503.34L78.66 503.06L79.19 502.78L79.73 502.5L80.27 502.23L80.83 501.95L81.39 501.67L81.96 501.4L82.53 501.12L83.12 500.84L83.71 500.57L84.31 500.29L84.91 500.01L85.53 499.73L86.15 499.45L86.78 499.17L87.42 498.9L88.07 498.62L88.72 498.34L89.38 498.06L90.05 497.78L90.72 497.5L91.41 497.22L92.1 496.94L92.8 496.66L93.5 496.38L94.22 496.1L94.94 495.82L95.67 495.54L96.4 495.26L97.15 494.98L97.9 494.7L98.66 494.42L99.43 494.14L100.2 493.85L100.98 493.57L101.77 493.29L102.57 493.01L103.37 492.73L104.18 492.45L105 492.16L105.83 491.88L106.66 491.6L107.51 491.32L108.36 491.04L109.21 490.75L110.08 490.47L110.95 490.19L111.83 489.9L112.71 489.62L113.61 489.34L114.51 489.05L115.42 488.77L116.33 488.49L117.26 488.2L118.19 487.92L119.13 487.63L120.08 487.35L121.03 487.07L121.99 486.78L122.96 486.5L123.94 486.21L124.92 485.93L125.91 485.64L126.91 485.35L127.91 485.07L128.93 484.78L129.95 484.5L130.98 484.21L132.01 483.92L133.05 483.64L134.1 483.35L135.16 483.06L136.23 482.77L137.3 482.48L138.38 482.2L139.47 481.91L140.56 481.62L141.66 481.33L142.77 481.04L143.89 480.75L145.01 480.46L146.14 480.17L147.28 479.88L148.43 479.59L149.58 479.3L150.75 479.01L151.91 478.72L153.09 478.42L154.27 478.13L155.46 477.84L156.66 477.55L157.87 477.25L159.08 476.96L160.3 476.67L161.53 476.37L162.76 476.08L164 475.78L165.25 475.49L166.51 475.19L167.78 474.9L169.05 474.6L170.33 474.3L171.61 474.01L172.91 473.71L174.21 473.41L175.52 473.11L176.83 472.81L178.16 472.51L179.49 472.21L180.82 471.91L182.17 471.61L183.52 471.31L184.88 471.01L186.25 470.71L187.62 470.41L189.01 470.11L190.4 469.8L191.79 469.5L193.2 469.2L194.61 468.89L196.03 468.59L197.45 468.28L198.89 467.98L200.33 467.67L201.78 467.36L203.23 467.06L204.69 466.75L206.17 466.44L207.64 466.13L209.13 465.82L210.62 465.51L212.12 465.2L213.63 464.89L215.14 464.58L216.66 464.27L218.19 463.96L219.73 463.64L221.27 463.33L222.82 463.02L224.38 462.7L225.95 462.39L227.52 462.07L229.1 461.75L230.69 461.44L232.28 461.12L233.89 460.8L235.49 460.48L237.11 460.17L238.74 459.85L240.37 459.53L242.01 459.21L243.65 458.88L245.31 458.56L246.97 458.24L248.64 457.92L250.31 457.59L252 457.27L253.69 456.94L255.38 456.62L257.09 456.29L258.8 455.96L260.52 455.64L262.25 455.31L263.98 454.98L265.72 454.65L267.47 454.32L269.23 453.99L270.99 453.66L272.76 453.33L274.54 452.99L276.33 452.66L278.12 452.33L279.92 451.99L281.73 451.66L283.54 451.32L285.37 450.98L287.2 450.65L289.03 450.31L290.88 449.97L292.73 449.63L294.59 449.29L296.45 448.95L298.33 448.61L300.21 448.26L302.1 447.92L303.99 447.58L305.9 447.23L307.81 446.89L309.72 446.54L308.75 441.13L306.83 441.47L304.92 441.82L303.01 442.16L301.11 442.51L299.22 442.85L297.34 443.19L295.47 443.54L293.6 443.88L291.74 444.22L289.88 444.56L288.04 444.9L286.2 445.24L284.37 445.57L282.54 445.91L280.73 446.25L278.92 446.58L277.11 446.92L275.32 447.25L273.53 447.59L271.75 447.92L269.98 448.25L268.21 448.58L266.45 448.91L264.7 449.24L262.96 449.57L261.22 449.9L259.49 450.23L257.77 450.56L256.06 450.89L254.35 451.21L252.65 451.54L250.96 451.86L249.27 452.19L247.59 452.51L245.92 452.84L244.26 453.16L242.6 453.48L240.95 453.8L239.31 454.12L237.68 454.44L236.05 454.76L234.43 455.08L232.82 455.4L231.21 455.72L229.61 456.04L228.02 456.35L226.44 456.67L224.86 456.99L223.29 457.3L221.73 457.62L220.18 457.93L218.63 458.24L217.09 458.56L215.56 458.87L214.03 459.18L212.52 459.49L211.01 459.8L209.5 460.11L208.01 460.42L206.52 460.73L205.04 461.04L203.56 461.35L202.1 461.66L200.64 461.96L199.18 462.27L197.74 462.58L196.3 462.88L194.87 463.19L193.45 463.49L192.03 463.8L190.62 464.1L189.22 464.4L187.83 464.71L186.44 465.01L185.06 465.31L183.69 465.61L182.33 465.91L180.97 466.21L179.62 466.51L178.28 466.81L176.94 467.11L175.61 467.41L174.29 467.71L172.98 468L171.67 468.3L170.37 468.6L169.08 468.89L167.79 469.19L166.52 469.48L165.25 469.78L163.98 470.07L162.73 470.37L161.48 470.66L160.24 470.95L159 471.25L157.78 471.54L156.56 471.83L155.35 472.12L154.14 472.41L152.94 472.71L151.75 473L150.57 473.29L149.4 473.58L148.23 473.86L147.07 474.15L145.91 474.44L144.76 474.73L143.62 475.02L142.49 475.3L141.37 475.59L140.25 475.88L139.14 476.16L138.04 476.45L136.94 476.73L135.85 477.02L134.77 477.3L133.69 477.59L132.63 477.87L131.57 478.16L130.51 478.44L129.47 478.72L128.43 479L127.4 479.29L126.38 479.57L125.36 479.85L124.35 480.13L123.35 480.41L122.35 480.69L121.36 480.97L120.38 481.25L119.41 481.53L118.44 481.81L117.48 482.09L116.53 482.37L115.59 482.65L114.65 482.93L113.72 483.2L112.8 483.48L111.88 483.76L110.97 484.04L110.07 484.31L109.18 484.59L108.29 484.87L107.41 485.14L106.53 485.42L105.67 485.69L104.81 485.97L103.96 486.24L103.11 486.52L102.28 486.79L101.45 487.07L100.62 487.34L99.81 487.61L99 487.89L98.2 488.16L97.4 488.43L96.61 488.71L95.83 488.98L95.06 489.25L94.29 489.53L93.53 489.8L92.78 490.07L92.04 490.34L91.3 490.62L90.57 490.89L89.84 491.16L89.13 491.43L88.42 491.7L87.72 491.98L87.02 492.25L86.33 492.52L85.65 492.79L84.97 493.06L84.31 493.33L83.65 493.61L82.99 493.88L82.35 494.15L81.71 494.42L81.07 494.69L80.45 494.96L79.83 495.24L79.22 495.51L78.61 495.78L78.01 496.05L77.42 496.33L76.83 496.6L76.25 496.88L75.69 497.15L75.13 497.42L74.59 497.68L74.06 497.94L73.53 498.2L73.02 498.45L72.5 498.69L71.99 498.94L71.49 499.19L70.99 499.43L70.5 499.67L70.01 499.92L69.52 500.17L69.04 500.41L68.56 500.66L68.09 500.92L67.62 501.17L67.16 501.43L66.7 501.7L66.24 501.97L65.79 502.25L65.34 502.53L64.9 502.82L64.46 503.12L64.02 503.43L63.6 503.75L63.17 504.07L62.75 504.41L62.34 504.76L61.93 505.12L61.53 505.49L61.15 505.87L60.77 506.25L60.4 506.64L60.04 507.04L59.69 507.45L59.35 507.86L59.02 508.27L58.7 508.7L58.39 509.12L58.08 509.55L57.79 509.99L57.5 510.43L57.23 510.87L56.96 511.31L56.7 511.76L56.45 512.21L56.21 512.67L55.97 513.13L55.75 513.6L55.53 514.07L55.32 514.55L55.12 515.03L54.93 515.52L54.74 516.01L54.57 516.51L54.4 517.01L54.24 517.52L54.09 518.02L53.96 518.54L53.82 519.05L53.7 519.57L53.59 520.1L53.48 520.63L53.39 521.16L53.3 521.69L53.22 522.23L53.15 522.78L53.09 523.32L53.04 523.87L52.99 524.42L52.96 524.95Z" fill="#0000ff"/><path d="M309.24 440.11L312.94 446.11L305.54 446.11Z" fill="#0000ff"/><path d="M56.8 521.47L60.5 527.47L53.1 527.47Z" fill="#0000ff"/>
<path d="M59.49 516.66L60.11 515.89L60.46 515.18L60.59 514.8L60.67 514.49L60.75 514.19L60.83 513.86L60.91 513.51L60.99 513.13L61.08 512.72L61.18 512.27L61.28 511.78L61.38 511.27L61.5 510.72L61.62 510.15L61.75 509.54L61.88 508.91L62.02 508.26L62.17 507.58L62.32 506.88L62.49 506.16L62.65 505.42L62.83 504.67L63.01 503.9L63.2 503.11L63.39 502.32L63.6 501.51L63.81 500.7L64.02 499.88L64.24 499.06L64.47 498.23L64.72 497.36L64.99 496.33L65.28 495.1L65.56 493.74L65.83 492.29L66.11 490.78L66.4 489.24L66.69 487.7L66.98 486.22L67.27 484.84L67.56 483.6L67.84 482.56L68.12 481.71L68.42 480.89L68.73 480.1L69.04 479.35L69.36 478.64L69.69 477.95L70.03 477.29L70.38 476.64L70.73 476L71.1 475.37L71.48 474.73L71.88 474.08L72.29 473.42L72.71 472.74L73.13 472.08L73.54 471.44L73.96 470.8L74.39 470.18L74.82 469.56L75.26 468.95L75.72 468.34L76.18 467.74L76.65 467.13L77.12 466.53L77.61 465.93L78.11 465.33L78.61 464.72L79.13 464.12L79.65 463.51L80.18 462.89L80.72 462.27L81.28 461.65L81.83 461.02L82.4 460.39L82.97 459.76L83.54 459.13L84.12 458.5L84.71 457.87L85.31 457.24L85.91 456.6L86.52 455.97L87.14 455.34L87.77 454.71L88.4 454.07L89.04 453.44L89.69 452.81L90.35 452.17L91.01 451.54L91.68 450.91L92.36 450.27L93.05 449.64L93.74 449.01L94.45 448.37L95.16 447.73L95.89 447.08L96.62 446.43L97.35 445.78L98.09 445.13L98.84 444.48L99.59 443.83L100.35 443.18L101.12 442.53L101.89 441.89L102.66 441.26L103.45 440.63L104.24 440.01L105.03 439.39L105.83 438.79L106.64 438.19L107.45 437.6L108.26 437.02L109.09 436.45L109.93 435.89L110.77 435.33L111.63 434.78L112.49 434.24L113.36 433.7L114.24 433.16L115.13 432.63L116.03 432.1L116.94 431.57L117.85 431.04L118.78 430.51L119.71 429.99L120.65 429.46L121.6 428.93L122.55 428.42L123.5 427.9L124.47 427.4L125.44 426.89L126.42 426.39L127.42 425.88L128.42 425.38L129.43 424.87L130.45 424.36L131.49 423.84L132.53 423.32L133.58 422.79L134.63 422.26L135.69 421.73L136.75 421.2L137.82 420.67L138.9 420.14L139.99 419.61L141.08 419.08L142.18 418.54L143.3 418L144.42 417.45L145.54 416.91L146.68 416.35L147.82 415.79L148.98 415.23L150.14 414.66L151.31 414.09L152.48 413.5L153.67 412.91L154.86 412.32L156.06 411.71L157.27 411.09L158.49 410.47L159.71 409.83L160.94 409.19L162.17 408.55L163.41 407.9L164.66 407.24L165.91 406.58L167.17 405.92L168.43 405.26L169.71 404.59L170.98 403.93L172.27 403.26L173.55 402.6L174.85 401.93L176.15 401.27L177.46 400.61L178.78 399.95L180.11 399.29L181.45 398.63L182.79 397.97L184.14 397.3L185.5 396.64L186.87 395.97L188.24 395.3L189.62 394.63L191.01 393.96L192.4 393.29L193.81 392.62L195.21 391.95L196.63 391.28L198.05 390.6L199.49 389.93L200.93 389.25L202.4 388.56L203.88 387.83L205.36 387.1L206.83 386.36L208.29 385.64L209.74 384.94L211.18 384.28L212.61 383.66L214.03 383.1L215.46 382.6L216.92 382.14L218.39 381.7L219.89 381.29L221.4 380.9L222.93 380.52L224.48 380.15L226.04 379.78L227.63 379.4L229.23 379.01L230.84 378.6L232.44 378.17L234.03 377.76L235.63 377.36L237.25 376.95L238.89 376.54L240.54 376.11L242.22 375.66L243.91 375.17L245.63 374.65L247.36 374.06L249.14 373.4L250.93 372.63L252.7 371.78L254.46 370.87L256.21 369.92L257.94 368.93L259.66 367.94L261.37 366.95L263.07 365.99L264.78 365.05L266.52 364.12L268.28 363.16L270.04 362.2L271.81 361.23L273.59 360.25L275.38 359.26L277.18 358.25L278.98 357.22L280.8 356.18L282.62 355.12L284.45 354.04L286.29 352.94L288.12 351.83L289.97 350.7L291.81 349.58L293.66 348.45L295.52 347.32L297.38 346.19L299.26 345.06L301.14 343.92L303.03 342.77L304.93 341.62L306.84 340.46L308.75 339.3L310.67 338.13L307.81 333.43L305.89 334.6L303.98 335.76L302.07 336.92L300.18 338.07L298.29 339.21L296.41 340.35L294.54 341.49L292.67 342.62L290.8 343.75L288.95 344.88L287.11 346.01L285.27 347.12L283.45 348.22L281.64 349.31L279.84 350.38L278.04 351.42L276.26 352.44L274.47 353.46L272.69 354.45L270.92 355.44L269.16 356.41L267.4 357.38L265.65 358.33L263.91 359.28L262.16 360.22L260.4 361.18L258.64 362.18L256.91 363.17L255.21 364.16L253.53 365.11L251.87 366.02L250.25 366.86L248.65 367.62L247.09 368.29L245.53 368.87L243.94 369.41L242.34 369.9L240.74 370.36L239.14 370.79L237.53 371.21L235.91 371.61L234.29 372.02L232.67 372.42L231.05 372.84L229.46 373.27L227.89 373.66L226.33 374.05L224.76 374.42L223.2 374.79L221.62 375.17L220.05 375.56L218.47 375.97L216.89 376.4L215.3 376.87L213.71 377.37L212.11 377.94L210.51 378.57L208.94 379.24L207.4 379.95L205.87 380.68L204.37 381.42L202.9 382.16L201.44 382.89L200.01 383.58L198.58 384.26L197.14 384.93L195.7 385.61L194.27 386.29L192.84 386.96L191.43 387.64L190.01 388.31L188.61 388.99L187.22 389.66L185.83 390.33L184.45 391L183.07 391.67L181.71 392.34L180.35 393L179 393.67L177.65 394.33L176.32 394.99L174.98 395.66L173.66 396.32L172.33 396.99L171.02 397.66L169.72 398.33L168.42 399L167.14 399.67L165.86 400.33L164.59 401L163.33 401.66L162.07 402.32L160.83 402.97L159.59 403.61L158.37 404.25L157.15 404.88L155.94 405.51L154.73 406.12L153.54 406.73L152.36 407.32L151.18 407.91L150 408.49L148.83 409.06L147.67 409.63L146.52 410.19L145.37 410.75L144.23 411.3L143.09 411.85L141.97 412.39L140.84 412.93L139.73 413.47L138.62 414L137.52 414.54L136.42 415.07L135.33 415.6L134.25 416.13L133.17 416.66L132.1 417.19L131.04 417.71L130 418.23L128.96 418.74L127.92 419.25L126.89 419.76L125.87 420.26L124.85 420.77L123.84 421.28L122.83 421.79L121.82 422.3L120.82 422.82L119.83 423.34L118.84 423.87L117.86 424.4L116.9 424.93L115.94 425.46L114.99 425.99L114.05 426.53L113.11 427.06L112.17 427.6L111.24 428.15L110.32 428.7L109.41 429.25L108.5 429.82L107.59 430.39L106.69 430.96L105.8 431.55L104.91 432.15L104.03 432.76L103.15 433.37L102.29 434L101.43 434.63L100.58 435.27L99.74 435.92L98.91 436.57L98.09 437.22L97.28 437.88L96.48 438.54L95.68 439.19L94.89 439.85L94.12 440.51L93.35 441.17L92.59 441.82L91.83 442.47L91.09 443.11L90.36 443.75L89.62 444.39L88.89 445.03L88.17 445.68L87.46 446.32L86.75 446.96L86.05 447.61L85.36 448.25L84.67 448.9L83.99 449.54L83.32 450.19L82.66 450.83L82 451.47L81.35 452.12L80.71 452.76L80.07 453.41L79.44 454.05L78.82 454.7L78.21 455.34L77.6 455.98L77 456.62L76.42 457.25L75.84 457.88L75.27 458.5L74.7 459.12L74.14 459.75L73.58 460.37L73.03 461L72.48 461.63L71.94 462.26L71.41 462.9L70.88 463.54L70.35 464.2L69.84 464.86L69.33 465.52L68.82 466.2L68.32 466.89L67.83 467.59L67.35 468.3L66.88 469L66.44 469.68L66 470.35L65.56 471.03L65.11 471.73L64.68 472.44L64.24 473.18L63.81 473.94L63.38 474.73L62.96 475.56L62.54 476.42L62.14 477.33L61.74 478.28L61.35 479.3L60.95 480.45L60.57 481.78L60.21 483.21L59.87 484.73L59.55 486.28L59.23 487.86L58.93 489.41L58.64 490.9L58.35 492.27L58.09 493.5L57.84 494.51L57.6 495.33L57.35 496.16L57.09 497.03L56.84 497.9L56.6 498.76L56.37 499.61L56.14 500.45L55.92 501.28L55.71 502.09L55.51 502.89L55.32 503.68L55.13 504.44L54.95 505.18L54.78 505.9L54.62 506.6L54.46 507.27L54.32 507.91L54.18 508.52L54.05 509.1L53.92 509.65L53.81 510.16L53.7 510.63L53.6 511.06L53.51 511.45L53.43 511.79L53.36 512.08L53.31 512.31L53.26 512.46L53.25 512.52L53.28 512.4L53.55 511.87L54.11 511.15Z" fill="#ff00ff"/><path d="M309.24 331.88L312.94 335.78L309.24 339.68L305.54 335.78Z" fill="#ff00ff"/><path d="M56.8 510.01L60.5 513.91L56.8 517.81L53.1 513.91Z" fill="#ff00ff"/>
<path d="M60.09 533.64L60.28 533.29L60.46 532.89L60.55 532.61L60.63 532.36L60.71 532.12L60.78 531.86L60.86 531.58L60.94 531.28L61.03 530.95L61.12 530.61L61.22 530.25L61.32 529.86L61.44 529.46L61.55 529.03L61.68 528.59L61.81 528.14L61.95 527.67L62.09 527.19L62.24 526.7L62.4 526.2L62.56 525.69L62.73 525.18L62.9 524.66L63.08 524.14L63.28 523.6L63.53 522.89L63.8 521.96L64.05 520.95L64.29 519.89L64.52 518.81L64.76 517.75L64.99 516.78L65.21 515.96L65.39 515.39L65.44 515.23L65.26 515.48L65.16 515.58L65.23 515.52L65.32 515.45L65.43 515.38L65.59 515.29L65.8 515.19L66.06 515.07L66.37 514.94L66.7 514.81L67 514.68L67.3 514.57L67.62 514.45L67.94 514.34L68.28 514.23L68.63 514.12L68.99 514.02L69.36 513.91L69.74 513.81L70.14 513.71L70.54 513.61L70.96 513.5L71.39 513.4L71.83 513.3L72.27 513.2L72.73 513.1L73.2 513L73.68 512.89L74.17 512.79L74.67 512.68L75.18 512.57L75.7 512.46L76.22 512.34L76.75 512.23L77.28 512.11L77.82 511.99L78.36 511.87L78.91 511.76L79.47 511.64L80.03 511.52L80.6 511.4L81.18 511.28L81.77 511.16L82.36 511.04L82.97 510.92L83.57 510.8L84.19 510.68L84.82 510.56L85.45 510.44L86.09 510.32L86.73 510.2L87.39 510.08L88.05 509.96L88.72 509.84L89.4 509.71L90.08 509.59L90.77 509.47L91.47 509.35L92.18 509.22L92.89 509.1L93.61 508.97L94.34 508.85L95.08 508.73L95.82 508.6L96.57 508.47L97.33 508.35L98.1 508.22L98.87 508.1L99.65 507.97L100.44 507.84L101.24 507.71L102.04 507.59L102.85 507.46L103.67 507.33L104.5 507.2L105.33 507.07L106.17 506.94L107.02 506.81L107.87 506.68L108.73 506.55L109.6 506.42L110.48 506.28L111.36 506.15L112.26 506.02L113.16 505.88L114.06 505.75L114.98 505.62L115.9 505.48L116.83 505.35L117.76 505.21L118.71 505.07L119.66 504.94L120.62 504.8L121.58 504.66L122.56 504.52L123.54 504.38L124.52 504.24L125.52 504.1L126.52 503.96L127.53 503.82L128.55 503.67L129.57 503.53L130.6 503.39L131.64 503.24L132.69 503.1L133.75 502.95L134.81 502.81L135.88 502.66L136.95 502.51L138.03 502.36L139.13 502.21L140.22 502.07L141.33 501.91L142.44 501.76L143.56 501.61L144.69 501.46L145.83 501.31L146.97 501.15L148.12 501L149.27 500.84L150.44 500.68L151.61 500.53L152.79 500.37L153.98 500.21L155.17 500.05L156.37 499.89L157.58 499.73L158.79 499.57L160.02 499.4L161.25 499.24L162.49 499.07L163.73 498.91L164.98 498.74L166.24 498.57L167.51 498.4L168.78 498.24L170.07 498.07L171.36 497.89L172.65 497.72L173.96 497.55L175.27 497.37L176.59 497.2L177.91 497.02L179.24 496.85L180.58 496.67L181.93 496.49L183.29 496.31L184.65 496.13L186.02 495.95L187.4 495.76L188.78 495.58L190.17 495.39L191.57 495.21L192.98 495.02L194.39 494.83L195.81 494.64L197.24 494.45L198.68 494.26L200.12 494.07L201.57 493.87L203.03 493.68L204.49 493.48L205.97 493.28L207.45 493.08L208.93 492.89L210.43 492.68L211.93 492.48L213.44 492.28L214.96 492.07L216.48 491.87L218.01 491.66L219.55 491.45L221.09 491.25L222.65 491.03L224.21 490.82L225.78 490.61L227.35 490.4L228.93 490.18L230.52 489.96L232.12 489.75L233.72 489.53L235.33 489.31L236.95 489.08L238.58 488.86L240.21 488.64L241.85 488.41L243.5 488.18L245.16 487.95L246.82 487.73L248.49 487.49L250.17 487.26L251.85 487.03L253.55 486.79L255.25 486.56L256.95 486.32L258.67 486.08L260.39 485.84L262.12 485.6L263.85 485.35L265.6 485.11L267.35 484.86L269.11 484.61L270.87 484.36L272.64 484.11L274.42 483.86L276.21 483.61L278.01 483.35L279.81 483.09L281.62 482.83L283.43 482.58L285.26 482.31L287.09 482.05L288.93 481.79L290.77 481.52L292.63 481.25L294.49 480.98L296.36 480.71L298.23 480.44L300.11 480.17L302 479.89L303.9 479.62L305.8 479.34L307.72 479.06L309.63 478.78L308.84 473.33L306.92 473.61L305.01 473.89L303.1 474.17L301.21 474.45L299.32 474.72L297.44 475L295.57 475.27L293.7 475.54L291.84 475.81L289.99 476.08L288.14 476.34L286.31 476.61L284.48 476.87L282.65 477.13L280.84 477.39L279.03 477.65L277.23 477.9L275.44 478.16L273.65 478.41L271.87 478.66L270.1 478.91L268.34 479.16L266.58 479.41L264.83 479.66L263.09 479.9L261.35 480.15L259.63 480.39L257.91 480.63L256.19 480.87L254.49 481.11L252.79 481.34L251.1 481.58L249.41 481.81L247.74 482.04L246.07 482.27L244.41 482.5L242.75 482.73L241.1 482.96L239.46 483.18L237.83 483.41L236.21 483.63L234.59 483.85L232.98 484.07L231.37 484.29L229.78 484.51L228.19 484.72L226.61 484.94L225.03 485.15L223.47 485.36L221.91 485.58L220.36 485.79L218.81 485.99L217.27 486.2L215.74 486.41L214.22 486.61L212.7 486.82L211.2 487.02L209.69 487.22L208.2 487.42L206.71 487.62L205.24 487.82L203.76 488.01L202.3 488.21L200.84 488.4L199.39 488.6L197.95 488.79L196.51 488.98L195.09 489.17L193.66 489.36L192.25 489.54L190.85 489.73L189.45 489.92L188.05 490.1L186.67 490.28L185.29 490.46L183.92 490.64L182.56 490.82L181.21 491L179.86 491.18L178.52 491.36L177.19 491.53L175.86 491.71L174.54 491.88L173.23 492.05L171.93 492.22L170.63 492.39L169.34 492.56L168.06 492.73L166.78 492.9L165.52 493.06L164.26 493.23L163 493.39L161.76 493.56L160.52 493.72L159.29 493.88L158.06 494.04L156.85 494.2L155.64 494.36L154.44 494.51L153.24 494.67L152.05 494.83L150.87 494.98L149.7 495.13L148.54 495.29L147.38 495.44L146.23 495.59L145.08 495.74L143.95 495.89L142.82 496.04L141.7 496.19L140.58 496.33L139.48 496.48L138.38 496.62L137.28 496.77L136.2 496.91L135.12 497.05L134.05 497.19L132.99 497.33L131.93 497.47L130.88 497.61L129.84 497.75L128.8 497.89L127.78 498.02L126.76 498.16L125.75 498.29L124.74 498.43L123.74 498.56L122.75 498.69L121.77 498.83L120.79 498.96L119.82 499.09L118.86 499.22L117.91 499.35L116.96 499.47L116.02 499.6L115.09 499.73L114.16 499.85L113.24 499.98L112.33 500.1L111.43 500.23L110.53 500.35L109.64 500.47L108.76 500.59L107.89 500.71L107.02 500.84L106.16 500.96L105.31 501.07L104.46 501.19L103.62 501.31L102.79 501.43L101.97 501.54L101.15 501.66L100.34 501.78L99.54 501.89L98.74 502L97.95 502.12L97.17 502.23L96.4 502.34L95.63 502.46L94.87 502.57L94.12 502.68L93.38 502.79L92.64 502.9L91.91 503.01L91.19 503.12L90.47 503.22L89.76 503.33L89.06 503.44L88.37 503.55L87.68 503.65L87 503.76L86.33 503.86L85.66 503.97L85 504.07L84.35 504.18L83.71 504.28L83.07 504.39L82.44 504.49L81.82 504.59L81.2 504.69L80.59 504.8L79.99 504.9L79.4 505L78.81 505.1L78.23 505.2L77.65 505.3L77.09 505.41L76.53 505.51L75.98 505.61L75.44 505.7L74.91 505.8L74.4 505.89L73.89 505.98L73.38 506.07L72.88 506.15L72.39 506.24L71.9 506.32L71.41 506.41L70.93 506.49L70.46 506.58L69.98 506.67L69.52 506.75L69.05 506.84L68.59 506.94L68.13 507.03L67.68 507.13L67.23 507.24L66.78 507.34L66.34 507.46L65.9 507.58L65.46 507.7L65.02 507.84L64.59 507.98L64.17 508.12L63.79 508.26L63.41 508.39L63 508.55L62.54 508.74L62.05 508.97L61.54 509.25L61 509.59L60.47 510L59.78 510.64L59.03 511.66L58.52 512.76L58.16 513.82L57.85 514.92L57.56 516.04L57.3 517.16L57.05 518.23L56.81 519.2L56.6 519.99L56.43 520.55L56.26 520.99L56.04 521.56L55.82 522.14L55.61 522.72L55.41 523.28L55.22 523.84L55.04 524.39L54.86 524.92L54.69 525.44L54.54 525.94L54.39 526.43L54.24 526.9L54.11 527.34L53.98 527.76L53.87 528.16L53.76 528.54L53.66 528.88L53.57 529.19L53.48 529.47L53.41 529.71L53.35 529.91L53.3 530.05L53.28 530.13L53.28 530.11L53.38 529.89L53.51 529.64Z" fill="#007f00"/><path d="M309.24 479.78L312.94 473.78L305.54 473.78Z" fill="#007f00"/><path d="M56.8 535.36L60.5 529.36L53.1 529.36Z" fill="#007f00"/>
<rect x="54.59" y="531.09" width="4.32" height="4.32" fill="#000000"/>
<circle cx="56.75" cy="533.25" r="3.1" fill="#ff0000"/>
<path d="M56.75 529.08L60.89 535.8L52.61 535.8Z" fill="#0000ff"/>
<path d="M56.75 537.42L60.89 530.7L52.61 530.7Z" fill="#007f00"/>
<rect x="37.5" y="314.7" width="138" height="78.5" fill="#fff" stroke="#6e6e6e" stroke-width="1"/>
<path d="M39.4 323.1H67.7" stroke="#c8c8c8" stroke-width="2"/>
<rect x="50.9" y="320.4" width="5.4" height="5.4" fill="#000000"/>
<text x="70.8" y="327.3" font-size="12.8">Saturate</text>
<path d="M39.4 338.5H67.7" stroke="#ff5050" stroke-width="1"/>
<circle cx="53.6" cy="338.5" r="3.1" fill="#ff0000"/>
<text x="70.8" y="342.7" font-size="12.8">Naphthene aromatic</text>
<path d="M39.4 353.9H67.7" stroke="#c4c4ff" stroke-width="2"/>
<path d="M53.6 350.18L57.3 356.18L49.9 356.18Z" fill="#0000ff"/>
<text x="70.8" y="358.1" font-size="12.8">Polar aromatic</text>
<path d="M39.4 369.3H67.7" stroke="#4ea04e" stroke-width="1"/>
<path d="M53.6 373.02L57.3 367.02L49.9 367.02Z" fill="#007f00"/>
<text x="70.8" y="373.5" font-size="12.8">Asphaltene</text>
<path d="M39.4 384.7H67.7" stroke="#ffbcff" stroke-width="2"/>
<path d="M53.6 380.8L57.3 384.7L53.6 388.6L49.9 384.7Z" fill="#ff00ff"/>
<text x="70.8" y="388.9" font-size="12.8">Rejuvenator</text>
<path d="M132.1 599.6A7.26 7.26 0 0 0 132.1 613.4A8.28 8.28 0 0 1 132.1 599.6Z" fill="#262626" stroke="#262626" stroke-width="0.25"/>
<text x="134.4" y="612.8" class="cp">c</text>
<path d="M145.1 599.6A7.26 7.26 0 0 1 145.1 613.4A8.28 8.28 0 0 0 145.1 599.6Z" fill="#262626" stroke="#262626" stroke-width="0.25"/>
<text x="160.4" y="612.8" class="cp">ROSL-6</text>
<rect x="382.6" y="311.4" width="292" height="242" fill="none" stroke="#1a1a1a" stroke-width="1.1"/>
<path d="M409.15 553.4V549M462.24 553.4V549M515.33 553.4V549M568.42 553.4V549M621.51 553.4V549M674.6 553.4V549M382.6 553.4V551.2M435.69 553.4V551.2M488.78 553.4V551.2M541.87 553.4V551.2M594.96 553.4V551.2M648.05 553.4V551.2M382.6 553.4H387M382.6 527.93H387M382.6 502.45H387M382.6 476.98H387M382.6 451.51H387M382.6 426.03H387M382.6 400.56H387M382.6 375.08H387M382.6 349.61H387M382.6 324.14H387M382.6 540.66H384.8M382.6 515.19H384.8M382.6 489.72H384.8M382.6 464.24H384.8M382.6 438.77H384.8M382.6 413.29H384.8M382.6 387.82H384.8M382.6 362.35H384.8M382.6 336.87H384.8M382.6 311.4H384.8" stroke="#1a1a1a" stroke-width="1.1" fill="none"/>
<text x="409.15" y="566.7" text-anchor="middle" font-size="10.5">0</text>
<text x="462.24" y="566.7" text-anchor="middle" font-size="10.5">1000</text>
<text x="515.33" y="566.7" text-anchor="middle" font-size="10.5">2000</text>
<text x="568.42" y="566.7" text-anchor="middle" font-size="10.5">3000</text>
<text x="621.51" y="566.7" text-anchor="middle" font-size="10.5">4000</text>
<text x="674.6" y="566.7" text-anchor="middle" font-size="10.5">5000</text>
<text x="377.3" y="556.8" text-anchor="end" font-size="10.5">-10</text>
<text x="377.3" y="531.33" text-anchor="end" font-size="10.5">0</text>
<text x="377.3" y="505.85" text-anchor="end" font-size="10.5">10</text>
<text x="377.3" y="480.38" text-anchor="end" font-size="10.5">20</text>
<text x="377.3" y="454.91" text-anchor="end" font-size="10.5">30</text>
<text x="377.3" y="429.43" text-anchor="end" font-size="10.5">40</text>
<text x="377.3" y="403.96" text-anchor="end" font-size="10.5">50</text>
<text x="377.3" y="378.48" text-anchor="end" font-size="10.5">60</text>
<text x="377.3" y="353.01" text-anchor="end" font-size="10.5">70</text>
<text x="377.3" y="327.54" text-anchor="end" font-size="10.5">80</text>
<text x="528.6" y="586.2" text-anchor="middle" font-size="12.3">Time(ps)</text>
<text transform="translate(359.1 432.4) rotate(-90)" text-anchor="middle" font-size="12.3">MSD(&#197;<tspan font-size="8.12" dy="-4.5">2</tspan><tspan dy="4.5">)</tspan></text>
<path d="M413.04 522.25L413.07 521.66L413.1 521.09L413.14 520.54L413.18 520L413.23 519.47L413.29 518.96L413.35 518.46L413.41 517.97L413.48 517.5L413.56 517.04L413.64 516.6L413.72 516.17L413.81 515.76L413.9 515.37L414 514.99L414.1 514.62L414.2 514.28L414.31 513.95L414.42 513.65L414.52 513.36L414.64 513.09L414.75 512.83L414.87 512.58L415 512.33L415.12 512.1L415.25 511.88L415.39 511.66L415.53 511.45L415.67 511.25L415.81 511.05L415.97 510.86L416.12 510.67L416.29 510.49L416.46 510.31L416.63 510.13L416.82 509.95L417.01 509.78L417.2 509.61L417.39 509.45L417.59 509.3L417.8 509.14L418.02 508.99L418.25 508.83L418.49 508.68L418.74 508.53L419.01 508.37L419.28 508.22L419.57 508.07L419.86 507.92L420.17 507.76L420.49 507.61L420.82 507.45L421.16 507.29L421.52 507.13L421.88 506.97L422.25 506.81L422.64 506.64L423.03 506.47L423.43 506.29L423.85 506.11L424.27 505.93L424.7 505.74L425.15 505.55L425.6 505.35L426.06 505.14L426.53 504.93L427.01 504.71L427.51 504.48L428.03 504.22L428.53 503.97L429.02 503.72L429.5 503.47L429.97 503.24L430.44 503L430.93 502.77L431.43 502.53L431.94 502.29L432.46 502.06L432.98 501.82L433.51 501.58L434.05 501.34L434.59 501.1L435.14 500.86L435.7 500.62L436.27 500.38L436.84 500.14L437.42 499.9L438 499.66L438.59 499.41L439.19 499.17L439.8 498.93L440.41 498.69L441.03 498.44L441.66 498.2L442.29 497.96L442.93 497.71L443.58 497.47L444.23 497.22L444.89 496.98L445.55 496.73L446.23 496.49L446.91 496.24L447.6 495.99L448.29 495.75L448.99 495.5L449.7 495.25L450.41 495.01L451.13 494.76L451.86 494.51L452.59 494.26L453.33 494.01L454.08 493.76L454.84 493.51L455.6 493.26L456.36 493.01L457.14 492.76L457.92 492.51L458.71 492.25L459.5 492L460.3 491.75L461.11 491.49L461.93 491.24L462.75 490.99L463.57 490.73L464.41 490.48L465.25 490.22L466.1 489.96L466.95 489.71L467.81 489.45L468.68 489.19L469.56 488.93L470.44 488.67L471.33 488.41L472.22 488.15L473.12 487.89L474.03 487.63L474.94 487.37L475.86 487.11L476.79 486.85L477.73 486.58L478.67 486.32L479.61 486.05L480.57 485.79L481.53 485.52L482.5 485.26L483.47 484.99L484.45 484.72L485.44 484.45L486.43 484.18L487.43 483.91L488.44 483.64L489.45 483.37L490.47 483.1L491.5 482.83L492.53 482.55L493.58 482.28L494.62 482L495.68 481.73L496.74 481.45L497.8 481.17L498.87 480.9L499.95 480.62L501.04 480.34L502.13 480.06L503.23 479.78L504.34 479.49L505.45 479.21L506.57 478.93L507.7 478.64L508.83 478.36L509.97 478.07L511.12 477.78L512.27 477.49L513.43 477.21L514.59 476.92L515.76 476.62L516.94 476.33L518.13 476.04L519.32 475.75L520.52 475.45L521.72 475.16L522.93 474.86L524.15 474.56L525.38 474.26L526.61 473.97L527.85 473.66L529.09 473.36L530.34 473.06L531.6 472.76L532.86 472.45L534.13 472.15L535.41 471.84L536.69 471.53L537.99 471.22L539.28 470.91L540.59 470.6L541.9 470.29L543.21 469.98L544.54 469.66L545.87 469.35L547.2 469.03L548.54 468.71L549.89 468.4L551.25 468.08L552.61 467.75L553.98 467.43L555.36 467.11L556.74 466.78L558.13 466.46L559.52 466.13L560.93 465.8L562.33 465.47L563.75 465.14L565.17 464.81L566.6 464.48L568.03 464.14L569.48 463.81L570.92 463.47L572.38 463.13L573.84 462.79L575.31 462.45L576.78 462.11L578.26 461.77L579.75 461.42L581.24 461.07L582.74 460.73L584.25 460.38L585.76 460.03L587.28 459.68L588.81 459.32L590.34 458.97L591.88 458.61L593.43 458.26L594.98 457.9L596.54 457.54L598.11 457.18L599.68 456.81L601.26 456.45L602.84 456.08L604.44 455.72L606.04 455.35L607.64 454.98L609.25 454.61L610.87 454.23L612.5 453.86L614.13 453.48L615.76 453.1L617.41 452.72L619.06 452.34L620.72 451.96L622.38 451.58L624.05 451.19L625.73 450.81L627.41 450.42L629.1 450.03L630.8 449.64L632.51 449.24L634.22 448.85L635.93 448.45L634.69 443.09L632.98 443.49L631.27 443.88L629.56 444.28L627.87 444.67L626.18 445.06L624.49 445.44L622.82 445.83L621.15 446.22L619.48 446.6L617.82 446.98L616.17 447.36L614.53 447.74L612.89 448.12L611.26 448.5L609.63 448.87L608.02 449.24L606.4 449.61L604.8 449.98L603.2 450.35L601.61 450.72L600.02 451.09L598.44 451.45L596.87 451.81L595.3 452.17L593.74 452.53L592.19 452.89L590.64 453.25L589.1 453.6L587.57 453.96L586.04 454.31L584.52 454.66L583.01 455.01L581.5 455.36L580 455.71L578.51 456.06L577.02 456.4L575.54 456.74L574.06 457.09L572.59 457.43L571.13 457.77L569.68 458.1L568.23 458.44L566.78 458.78L565.35 459.11L563.92 459.44L562.5 459.77L561.08 460.1L559.67 460.43L558.27 460.76L556.87 461.09L555.48 461.41L554.1 461.74L552.72 462.06L551.35 462.38L549.99 462.7L548.63 463.02L547.28 463.34L545.93 463.66L544.59 463.97L543.26 464.29L541.94 464.6L540.62 464.91L539.31 465.23L538 465.54L536.7 465.84L535.41 466.15L534.12 466.46L532.84 466.76L531.57 467.07L530.3 467.37L529.04 467.68L527.79 467.98L526.54 468.28L525.3 468.58L524.07 468.87L522.84 469.17L521.62 469.47L520.41 469.76L519.2 470.06L518 470.35L516.8 470.64L515.61 470.93L514.43 471.22L513.26 471.51L512.09 471.8L510.92 472.09L509.77 472.37L508.62 472.66L507.48 472.94L506.34 473.23L505.21 473.51L504.08 473.79L502.97 474.07L501.86 474.35L500.75 474.63L499.66 474.91L498.56 475.18L497.48 475.46L496.4 475.73L495.33 476.01L494.26 476.28L493.21 476.55L492.15 476.82L491.11 477.1L490.07 477.37L489.03 477.63L488.01 477.9L486.99 478.17L485.97 478.44L484.97 478.7L483.97 478.97L482.97 479.23L481.99 479.5L481 479.76L480.03 480.02L479.06 480.28L478.1 480.54L477.14 480.8L476.19 481.06L475.25 481.32L474.32 481.58L473.39 481.83L472.46 482.09L471.55 482.35L470.64 482.6L469.73 482.85L468.83 483.11L467.94 483.36L467.06 483.61L466.18 483.86L465.31 484.11L464.44 484.36L463.58 484.61L462.73 484.86L461.89 485.11L461.05 485.36L460.21 485.61L459.39 485.85L458.57 486.1L457.75 486.34L456.94 486.59L456.14 486.83L455.35 487.08L454.56 487.32L453.78 487.56L453 487.8L452.23 488.05L451.47 488.29L450.71 488.53L449.96 488.77L449.22 489.01L448.48 489.25L447.75 489.49L447.02 489.72L446.3 489.96L445.59 490.2L444.89 490.44L444.19 490.67L443.49 490.91L442.81 491.15L442.12 491.38L441.45 491.62L440.78 491.85L440.12 492.09L439.46 492.32L438.82 492.56L438.17 492.79L437.54 493.03L436.91 493.26L436.28 493.49L435.66 493.73L435.05 493.96L434.45 494.19L433.85 494.42L433.25 494.66L432.67 494.89L432.09 495.12L431.51 495.35L430.94 495.59L430.38 495.82L429.83 496.05L429.28 496.28L428.73 496.52L428.19 496.75L427.66 496.98L427.12 497.22L426.58 497.47L426.07 497.71L425.59 497.94L425.13 498.15L424.7 498.34L424.27 498.52L423.83 498.7L423.39 498.88L422.95 499.06L422.52 499.23L422.09 499.39L421.67 499.55L421.25 499.71L420.83 499.87L420.42 500.03L420.01 500.19L419.6 500.34L419.19 500.5L418.79 500.66L418.39 500.82L417.99 500.98L417.6 501.14L417.21 501.31L416.81 501.48L416.42 501.66L416.04 501.84L415.65 502.03L415.26 502.23L414.88 502.44L414.5 502.65L414.12 502.88L413.75 503.11L413.38 503.36L413.01 503.61L412.65 503.88L412.29 504.16L411.95 504.44L411.62 504.74L411.29 505.04L410.97 505.35L410.65 505.67L410.35 506.01L410.05 506.35L409.76 506.71L409.47 507.08L409.2 507.46L408.93 507.85L408.68 508.25L408.43 508.67L408.2 509.09L407.97 509.53L407.75 509.98L407.54 510.45L407.34 510.93L407.16 511.42L406.98 511.92L406.82 512.43L406.66 512.95L406.52 513.48L406.38 514.02L406.25 514.57L406.13 515.13L406.02 515.69L405.92 516.27L405.83 516.86L405.74 517.46L405.66 518.07L405.59 518.68L405.53 519.31L405.47 519.95L405.43 520.59L405.39 521.24L405.35 521.88Z" fill="#000000"/><rect x="632.61" y="443.07" width="5.4" height="5.4" fill="#000000"/><rect x="406.5" y="519.37" width="5.4" height="5.4" fill="#000000"/>
<path d="M413.04 522.59L413.06 522.2L413.09 521.85L413.13 521.5L413.17 521.17L413.21 520.84L413.26 520.52L413.31 520.21L413.37 519.92L413.43 519.64L413.49 519.37L413.56 519.12L413.63 518.88L413.69 518.66L413.76 518.46L413.83 518.27L413.9 518.11L413.96 517.97L414.02 517.85L414.07 517.76L414.12 517.69L414.15 517.64L414.18 517.59L414.23 517.52L414.29 517.46L414.35 517.4L414.42 517.33L414.51 517.26L414.6 517.18L414.71 517.1L414.83 517.02L414.97 516.93L415.12 516.84L415.29 516.74L415.48 516.64L415.68 516.54L415.9 516.43L416.14 516.32L416.39 516.2L416.65 516.07L416.93 515.94L417.22 515.81L417.53 515.66L417.85 515.51L418.18 515.36L418.52 515.19L418.87 515.01L419.22 514.83L419.58 514.65L419.93 514.46L420.28 514.28L420.63 514.09L420.98 513.9L421.34 513.72L421.69 513.53L422.05 513.35L422.4 513.17L422.76 512.99L423.12 512.82L423.48 512.66L423.85 512.49L424.21 512.34L424.58 512.19L424.95 512.05L425.32 511.91L425.69 511.79L426.07 511.67L426.44 511.56L426.82 511.47L427.21 511.38L427.63 511.29L428.09 511.21L428.58 511.12L429.1 511.02L429.64 510.92L430.16 510.81L430.68 510.71L431.21 510.6L431.74 510.49L432.28 510.38L432.83 510.27L433.38 510.15L433.95 510.04L434.51 509.92L435.08 509.8L435.66 509.68L436.25 509.56L436.84 509.44L437.44 509.31L438.05 509.18L438.66 509.06L439.27 508.93L439.9 508.8L440.53 508.66L441.17 508.53L441.81 508.39L442.46 508.26L443.12 508.12L443.78 507.98L444.45 507.84L445.13 507.7L445.81 507.55L446.5 507.41L447.19 507.26L447.89 507.12L448.6 506.97L449.32 506.82L450.04 506.67L450.77 506.51L451.5 506.36L452.24 506.21L452.99 506.05L453.74 505.89L454.5 505.74L455.27 505.58L456.04 505.42L456.82 505.26L457.61 505.09L458.4 504.93L459.2 504.77L460.01 504.6L460.82 504.43L461.64 504.27L462.47 504.1L463.3 503.93L464.14 503.76L464.98 503.59L465.83 503.41L466.69 503.24L467.56 503.07L468.43 502.89L469.3 502.72L470.19 502.54L471.08 502.36L471.98 502.18L472.88 502.01L473.79 501.83L474.71 501.64L475.63 501.46L476.56 501.28L477.5 501.1L478.44 500.92L479.39 500.73L480.35 500.55L481.31 500.36L482.28 500.17L483.25 499.99L484.24 499.8L485.22 499.61L486.22 499.42L487.22 499.23L488.23 499.04L489.24 498.85L490.27 498.66L491.29 498.47L492.33 498.28L493.37 498.08L494.42 497.89L495.47 497.7L496.53 497.5L497.6 497.31L498.67 497.11L499.75 496.92L500.84 496.72L501.93 496.53L503.03 496.33L504.14 496.13L505.25 495.93L506.37 495.74L507.5 495.54L508.63 495.34L509.77 495.14L510.91 494.94L512.07 494.74L513.22 494.54L514.39 494.34L515.56 494.14L516.74 493.94L517.92 493.74L519.12 493.54L520.31 493.34L521.52 493.14L522.73 492.94L523.95 492.74L525.17 492.54L526.4 492.34L527.64 492.13L528.88 491.93L530.13 491.73L531.39 491.53L532.65 491.33L533.92 491.13L535.2 490.92L536.48 490.72L537.77 490.52L539.06 490.32L540.37 490.12L541.68 489.92L542.99 489.72L544.31 489.51L545.64 489.31L546.98 489.11L548.32 488.91L549.67 488.71L551.02 488.51L552.38 488.31L553.75 488.11L555.12 487.91L556.5 487.71L557.89 487.51L559.28 487.31L560.68 487.11L562.09 486.91L563.5 486.72L564.92 486.52L566.35 486.32L567.78 486.12L569.22 485.93L570.67 485.73L572.12 485.53L573.58 485.34L575.05 485.14L576.52 484.95L578 484.75L579.48 484.56L580.97 484.37L582.47 484.17L583.98 483.98L585.49 483.79L587.01 483.6L588.53 483.41L590.06 483.22L591.6 483.03L593.14 482.84L594.69 482.65L596.25 482.46L597.81 482.28L599.38 482.09L600.96 481.9L602.54 481.72L604.13 481.53L605.73 481.35L607.33 481.17L608.94 480.99L610.56 480.81L612.18 480.63L613.81 480.45L615.44 480.27L617.09 480.09L618.73 479.91L620.39 479.74L622.05 479.56L623.72 479.39L625.39 479.21L627.08 479.04L628.76 478.87L630.46 478.7L632.16 478.53L633.87 478.36L635.58 478.19L635.04 472.72L633.33 472.88L631.61 473.05L629.91 473.22L628.21 473.39L626.52 473.57L624.83 473.74L623.15 473.91L621.48 474.09L619.81 474.26L618.15 474.44L616.5 474.62L614.85 474.8L613.21 474.98L611.57 475.16L609.95 475.34L608.33 475.52L606.71 475.7L605.1 475.88L603.5 476.07L601.91 476.25L600.32 476.44L598.74 476.62L597.16 476.81L595.59 477L594.03 477.19L592.48 477.37L590.93 477.56L589.39 477.75L587.85 477.94L586.32 478.13L584.8 478.33L583.28 478.52L581.77 478.71L580.27 478.9L578.77 479.1L577.28 479.29L575.8 479.49L574.32 479.68L572.85 479.88L571.39 480.07L569.93 480.27L568.48 480.47L567.04 480.66L565.6 480.86L564.17 481.06L562.74 481.26L561.32 481.45L559.91 481.65L558.51 481.85L557.11 482.05L555.72 482.25L554.33 482.45L552.95 482.65L551.58 482.85L550.22 483.05L548.86 483.25L547.5 483.45L546.16 483.65L544.82 483.85L543.49 484.05L542.16 484.25L540.84 484.45L539.53 484.65L538.22 484.86L536.92 485.06L535.62 485.26L534.34 485.46L533.06 485.66L531.78 485.86L530.52 486.06L529.25 486.26L528 486.46L526.75 486.66L525.51 486.86L524.28 487.06L523.05 487.26L521.83 487.46L520.61 487.66L519.4 487.86L518.2 488.06L517 488.26L515.82 488.46L514.63 488.66L513.46 488.86L512.29 489.05L511.13 489.25L509.97 489.45L508.82 489.64L507.68 489.84L506.54 490.04L505.41 490.23L504.29 490.43L503.17 490.62L502.06 490.82L500.95 491.01L499.86 491.2L498.77 491.4L497.68 491.59L496.6 491.78L495.53 491.97L494.47 492.16L493.41 492.35L492.36 492.54L491.31 492.73L490.27 492.92L489.24 493.1L488.22 493.29L487.2 493.48L486.19 493.66L485.18 493.85L484.18 494.03L483.19 494.21L482.2 494.4L481.22 494.58L480.25 494.76L479.28 494.94L478.32 495.12L477.37 495.29L476.42 495.47L475.48 495.65L474.55 495.82L473.62 496L472.7 496.17L471.79 496.34L470.88 496.51L469.98 496.68L469.08 496.85L468.2 497.02L467.31 497.19L466.44 497.36L465.57 497.52L464.71 497.68L463.85 497.85L463 498.01L462.16 498.17L461.33 498.33L460.5 498.49L459.68 498.64L458.86 498.8L458.05 498.96L457.25 499.11L456.45 499.26L455.66 499.41L454.88 499.56L454.1 499.71L453.33 499.86L452.57 500L451.81 500.15L451.06 500.29L450.32 500.43L449.58 500.57L448.85 500.71L448.13 500.85L447.41 500.98L446.7 501.12L446 501.25L445.3 501.38L444.61 501.51L443.92 501.64L443.24 501.77L442.57 501.89L441.91 502.01L441.25 502.14L440.6 502.26L439.95 502.38L439.32 502.49L438.69 502.61L438.06 502.72L437.44 502.83L436.83 502.94L436.22 503.05L435.63 503.16L435.04 503.27L434.45 503.37L433.87 503.47L433.3 503.57L432.73 503.67L432.18 503.77L431.63 503.86L431.08 503.95L430.54 504.04L430.01 504.13L429.48 504.22L428.97 504.31L428.46 504.39L427.98 504.46L427.5 504.53L427.01 504.6L426.49 504.68L425.95 504.76L425.39 504.87L424.83 504.99L424.29 505.12L423.75 505.26L423.23 505.41L422.72 505.57L422.22 505.74L421.73 505.91L421.25 506.09L420.78 506.28L420.32 506.46L419.88 506.65L419.45 506.84L419.03 507.03L418.62 507.22L418.22 507.4L417.83 507.58L417.46 507.76L417.1 507.93L416.75 508.09L416.41 508.25L416.09 508.4L415.79 508.54L415.49 508.66L415.2 508.79L414.91 508.91L414.62 509.03L414.33 509.14L414.04 509.26L413.75 509.38L413.45 509.49L413.16 509.61L412.87 509.74L412.57 509.87L412.27 510L411.96 510.14L411.66 510.29L411.35 510.45L411.03 510.62L410.72 510.81L410.4 511.01L410.08 511.23L409.76 511.46L409.45 511.71L409.14 511.98L408.84 512.27L408.54 512.58L408.24 512.93L407.95 513.3L407.68 513.69L407.44 514.08L407.22 514.48L407.01 514.89L406.83 515.3L406.65 515.71L406.49 516.13L406.35 516.56L406.21 516.99L406.09 517.43L405.97 517.88L405.87 518.32L405.78 518.78L405.69 519.24L405.61 519.7L405.55 520.17L405.49 520.64L405.44 521.12L405.39 521.6L405.36 522.05Z" fill="#ff0000"/><circle cx="635.31" cy="475.45" r="3.1" fill="#ff0000"/><circle cx="409.2" cy="522.32" r="3.1" fill="#ff0000"/>
<path d="M413.04 522.31L413.07 521.85L413.1 521.44L413.13 521.04L413.17 520.64L413.22 520.26L413.27 519.89L413.32 519.53L413.38 519.18L413.45 518.84L413.52 518.52L413.59 518.21L413.66 517.92L413.74 517.64L413.82 517.38L413.9 517.14L413.98 516.91L414.07 516.7L414.15 516.51L414.23 516.34L414.3 516.19L414.38 516.07L414.45 515.95L414.52 515.84L414.6 515.73L414.68 515.63L414.77 515.52L414.87 515.42L414.98 515.31L415.1 515.19L415.23 515.08L415.38 514.95L415.55 514.82L415.73 514.68L415.93 514.54L416.15 514.39L416.38 514.23L416.62 514.06L416.89 513.88L417.16 513.7L417.45 513.5L417.73 513.31L418 513.13L418.27 512.95L418.55 512.77L418.84 512.59L419.13 512.41L419.43 512.22L419.74 512.04L420.05 511.86L420.37 511.67L420.7 511.48L421.04 511.3L421.38 511.11L421.73 510.92L422.09 510.73L422.45 510.54L422.82 510.36L423.2 510.17L423.58 509.98L423.97 509.79L424.37 509.6L424.78 509.41L425.19 509.22L425.61 509.03L426.03 508.84L426.47 508.65L426.9 508.46L427.35 508.27L427.8 508.09L428.26 507.9L428.73 507.71L429.21 507.52L429.7 507.33L430.2 507.13L430.71 506.93L431.22 506.74L431.73 506.54L432.26 506.34L432.78 506.14L433.32 505.94L433.86 505.74L434.41 505.53L434.97 505.33L435.53 505.12L436.1 504.91L436.68 504.71L437.26 504.5L437.85 504.29L438.45 504.08L439.05 503.87L439.66 503.65L440.28 503.44L440.9 503.23L441.53 503.01L442.17 502.79L442.81 502.58L443.46 502.36L444.12 502.14L444.78 501.92L445.45 501.7L446.13 501.48L446.81 501.26L447.5 501.04L448.2 500.81L448.9 500.59L449.61 500.37L450.33 500.14L451.05 499.91L451.78 499.69L452.52 499.46L453.26 499.23L454.01 499L454.76 498.77L455.53 498.54L456.3 498.31L457.07 498.08L457.85 497.85L458.64 497.61L459.44 497.38L460.24 497.15L461.05 496.91L461.87 496.68L462.69 496.44L463.52 496.2L464.35 495.97L465.19 495.73L466.04 495.49L466.9 495.25L467.76 495.01L468.63 494.77L469.5 494.53L470.38 494.29L471.27 494.05L472.17 493.81L473.07 493.57L473.98 493.33L474.89 493.08L475.81 492.84L476.74 492.6L477.67 492.35L478.61 492.11L479.56 491.86L480.52 491.62L481.48 491.37L482.44 491.12L483.42 490.88L484.4 490.63L485.38 490.38L486.38 490.13L487.38 489.89L488.38 489.64L489.4 489.39L490.42 489.14L491.44 488.89L492.48 488.64L493.52 488.39L494.56 488.14L495.61 487.89L496.67 487.64L497.74 487.39L498.81 487.14L499.89 486.89L500.98 486.63L502.07 486.38L503.17 486.13L504.27 485.88L505.38 485.62L506.5 485.37L507.63 485.12L508.76 484.86L509.9 484.61L511.04 484.36L512.19 484.1L513.35 483.85L514.51 483.59L515.68 483.34L516.86 483.09L518.04 482.83L519.24 482.58L520.43 482.32L521.64 482.07L522.85 481.81L524.06 481.56L525.29 481.3L526.52 481.05L527.75 480.79L528.99 480.54L530.24 480.28L531.5 480.03L532.76 479.77L534.03 479.52L535.31 479.26L536.59 479L537.88 478.75L539.17 478.49L540.48 478.24L541.78 477.98L543.1 477.73L544.42 477.47L545.75 477.22L547.08 476.96L548.42 476.71L549.77 476.45L551.13 476.2L552.49 475.94L553.85 475.69L555.23 475.44L556.61 475.18L557.99 474.93L559.39 474.67L560.79 474.42L562.19 474.17L563.61 473.91L565.03 473.66L566.45 473.41L567.89 473.15L569.33 472.9L570.77 472.65L572.22 472.4L573.68 472.14L575.15 471.89L576.62 471.64L578.1 471.39L579.58 471.14L581.08 470.89L582.57 470.64L584.08 470.39L585.59 470.14L587.11 469.89L588.63 469.64L590.16 469.39L591.7 469.14L593.25 468.9L594.8 468.65L596.35 468.4L597.92 468.15L599.49 467.91L601.06 467.66L602.65 467.42L604.24 467.17L605.83 466.93L607.44 466.68L609.05 466.44L610.66 466.19L612.28 465.95L613.91 465.71L615.55 465.47L617.19 465.22L618.84 464.98L620.49 464.74L622.16 464.5L623.82 464.26L625.5 464.02L627.18 463.79L628.87 463.55L630.56 463.31L632.26 463.07L633.97 462.84L635.69 462.6L634.94 457.15L633.22 457.39L631.51 457.62L629.8 457.86L628.1 458.1L626.41 458.34L624.72 458.58L623.05 458.82L621.37 459.06L619.71 459.3L618.05 459.54L616.39 459.78L614.75 460.02L613.11 460.27L611.47 460.51L609.84 460.75L608.22 461L606.61 461.24L605 461.49L603.4 461.73L601.81 461.98L600.22 462.22L598.64 462.47L597.06 462.72L595.49 462.96L593.93 463.21L592.38 463.46L590.83 463.71L589.28 463.96L587.75 464.21L586.22 464.46L584.7 464.71L583.18 464.96L581.67 465.21L580.17 465.46L578.67 465.71L577.18 465.96L575.7 466.21L574.22 466.46L572.75 466.72L571.29 466.97L569.83 467.22L568.38 467.47L566.93 467.73L565.49 467.98L564.06 468.23L562.64 468.49L561.22 468.74L559.81 468.99L558.4 469.25L557 469.5L555.61 469.76L554.23 470.01L552.85 470.26L551.48 470.52L550.11 470.77L548.75 471.03L547.4 471.28L546.05 471.54L544.71 471.79L543.38 472.05L542.05 472.3L540.73 472.56L539.42 472.81L538.11 473.07L536.81 473.32L535.51 473.58L534.23 473.83L532.95 474.09L531.67 474.34L530.4 474.6L529.14 474.85L527.89 475.11L526.64 475.36L525.4 475.62L524.16 475.87L522.93 476.13L521.71 476.38L520.49 476.63L519.28 476.89L518.08 477.14L516.88 477.39L515.69 477.65L514.51 477.9L513.33 478.15L512.16 478.41L511 478.66L509.84 478.91L508.69 479.16L507.55 479.42L506.41 479.67L505.28 479.92L504.15 480.17L503.04 480.42L501.92 480.67L500.82 480.92L499.72 481.17L498.63 481.42L497.54 481.67L496.46 481.92L495.39 482.17L494.33 482.41L493.27 482.66L492.21 482.91L491.17 483.16L490.13 483.4L489.09 483.65L488.07 483.89L487.04 484.14L486.03 484.38L485.02 484.63L484.02 484.87L483.03 485.11L482.04 485.36L481.06 485.6L480.08 485.84L479.11 486.08L478.15 486.32L477.2 486.56L476.25 486.8L475.31 487.04L474.37 487.28L473.44 487.52L472.52 487.75L471.6 487.99L470.69 488.23L469.79 488.46L468.89 488.7L468 488.93L467.11 489.16L466.24 489.4L465.36 489.63L464.5 489.86L463.64 490.09L462.79 490.32L461.94 490.55L461.11 490.78L460.27 491.01L459.45 491.23L458.63 491.46L457.81 491.68L457.01 491.91L456.21 492.13L455.41 492.36L454.63 492.58L453.85 492.8L453.07 493.02L452.3 493.24L451.54 493.46L450.79 493.68L450.04 493.9L449.3 494.11L448.56 494.33L447.83 494.54L447.11 494.76L446.39 494.97L445.68 495.18L444.98 495.39L444.28 495.6L443.59 495.81L442.91 496.02L442.23 496.23L441.56 496.43L440.9 496.64L440.24 496.85L439.59 497.05L438.94 497.25L438.3 497.45L437.67 497.65L437.04 497.85L436.42 498.05L435.81 498.25L435.2 498.45L434.6 498.64L434.01 498.84L433.42 499.03L432.84 499.22L432.27 499.42L431.7 499.61L431.14 499.8L430.58 499.98L430.03 500.17L429.49 500.36L428.95 500.54L428.42 500.73L427.9 500.91L427.38 501.09L426.88 501.27L426.37 501.45L425.87 501.63L425.37 501.81L424.87 502L424.37 502.18L423.89 502.37L423.41 502.55L422.94 502.74L422.48 502.93L422.02 503.12L421.57 503.31L421.12 503.5L420.68 503.69L420.25 503.88L419.82 504.07L419.4 504.26L418.99 504.45L418.58 504.64L418.18 504.84L417.78 505.03L417.39 505.22L417 505.42L416.63 505.61L416.25 505.81L415.89 506.01L415.53 506.2L415.17 506.4L414.82 506.6L414.48 506.8L414.15 506.99L413.82 507.19L413.51 507.38L413.23 507.55L412.95 507.72L412.67 507.88L412.39 508.06L412.11 508.23L411.82 508.41L411.52 508.6L411.23 508.8L410.93 509.01L410.63 509.24L410.32 509.47L410.02 509.73L409.72 509.99L409.41 510.28L409.12 510.59L408.83 510.91L408.55 511.26L408.27 511.62L408.01 512L407.76 512.39L407.53 512.8L407.32 513.21L407.12 513.64L406.93 514.06L406.76 514.5L406.6 514.94L406.45 515.39L406.31 515.85L406.18 516.32L406.06 516.79L405.95 517.26L405.85 517.75L405.76 518.24L405.68 518.74L405.61 519.24L405.54 519.75L405.48 520.27L405.43 520.79L405.39 521.32L405.36 521.83Z" fill="#0000ff"/><path d="M635.31 456.16L639.01 462.16L631.61 462.16Z" fill="#0000ff"/><path d="M409.2 518.35L412.9 524.35L405.5 524.35Z" fill="#0000ff"/>
<path d="M413.04 523.12L413.06 522.75L413.09 522.43L413.12 522.11L413.16 521.81L413.2 521.51L413.25 521.23L413.3 520.96L413.35 520.71L413.41 520.47L413.46 520.25L413.52 520.05L413.58 519.87L413.64 519.7L413.69 519.56L413.74 519.45L413.78 519.36L413.82 519.29L413.84 519.25L413.84 519.24L413.82 519.25L413.79 519.28L413.76 519.29L413.77 519.28L413.8 519.26L413.83 519.22L413.89 519.19L413.96 519.14L414.05 519.09L414.16 519.03L414.29 518.97L414.45 518.91L414.62 518.84L414.81 518.76L415.03 518.68L415.26 518.6L415.51 518.51L415.78 518.42L416.06 518.32L416.36 518.21L416.67 518.09L416.99 517.97L417.32 517.84L417.65 517.71L417.98 517.58L418.3 517.44L418.63 517.3L418.96 517.17L419.28 517.03L419.61 516.89L419.94 516.76L420.27 516.62L420.6 516.49L420.94 516.36L421.27 516.24L421.61 516.12L421.95 516L422.3 515.89L422.64 515.78L422.99 515.68L423.34 515.58L423.69 515.49L424.05 515.41L424.41 515.33L424.77 515.26L425.14 515.2L425.51 515.15L425.88 515.11L426.28 515.08L426.71 515.05L427.17 515.03L427.65 515L428.15 514.98L428.67 514.95L429.21 514.92L429.75 514.88L430.3 514.83L430.84 514.79L431.38 514.74L431.93 514.69L432.48 514.64L433.05 514.58L433.63 514.52L434.2 514.46L434.78 514.4L435.37 514.33L435.96 514.26L436.57 514.19L437.18 514.12L437.79 514.04L438.41 513.96L439.03 513.88L439.66 513.8L440.3 513.72L440.95 513.63L441.6 513.54L442.25 513.45L442.91 513.36L443.58 513.26L444.26 513.16L444.94 513.06L445.63 512.96L446.32 512.86L447.02 512.75L447.73 512.65L448.44 512.54L449.16 512.43L449.89 512.31L450.62 512.2L451.35 512.08L452.1 511.97L452.85 511.85L453.61 511.72L454.37 511.6L455.14 511.48L455.92 511.35L456.7 511.22L457.49 511.09L458.29 510.96L459.09 510.83L459.9 510.7L460.71 510.56L461.53 510.43L462.36 510.29L463.2 510.15L464.04 510.01L464.88 509.87L465.74 509.72L466.6 509.58L467.46 509.43L468.34 509.29L469.22 509.14L470.1 508.99L470.99 508.84L471.89 508.69L472.8 508.54L473.71 508.39L474.63 508.23L475.55 508.08L476.48 507.92L477.42 507.77L478.36 507.61L479.32 507.45L480.27 507.29L481.24 507.13L482.21 506.97L483.18 506.81L484.16 506.65L485.15 506.49L486.15 506.32L487.15 506.16L488.16 506L489.18 505.83L490.2 505.67L491.23 505.5L492.26 505.33L493.3 505.17L494.35 505L495.4 504.83L496.46 504.67L497.53 504.5L498.61 504.33L499.69 504.16L500.77 503.99L501.87 503.82L502.97 503.65L504.07 503.48L505.18 503.31L506.3 503.15L507.43 502.98L508.56 502.81L509.7 502.64L510.85 502.47L512 502.3L513.16 502.13L514.32 501.96L515.49 501.79L516.67 501.62L517.85 501.45L519.04 501.28L520.24 501.11L521.45 500.94L522.66 500.77L523.87 500.61L525.1 500.44L526.33 500.27L527.56 500.11L528.8 499.94L530.05 499.77L531.31 499.61L532.57 499.44L533.84 499.28L535.12 499.11L536.4 498.95L537.69 498.79L538.98 498.63L540.28 498.47L541.59 498.31L542.91 498.15L544.23 497.99L545.55 497.83L546.89 497.67L548.23 497.51L549.58 497.36L550.93 497.2L552.29 497.05L553.65 496.9L555.03 496.75L556.41 496.6L557.79 496.45L559.19 496.3L560.59 496.15L561.99 496L563.4 495.86L564.82 495.71L566.25 495.57L567.68 495.43L569.12 495.29L570.56 495.15L572.01 495.01L573.47 494.87L574.94 494.74L576.41 494.61L577.88 494.47L579.37 494.34L580.86 494.21L582.35 494.09L583.86 493.96L585.37 493.84L586.88 493.71L588.41 493.59L589.94 493.47L591.47 493.36L593.01 493.24L594.56 493.12L596.12 493.01L597.68 492.9L599.25 492.79L600.82 492.69L602.41 492.58L603.99 492.48L605.59 492.38L607.19 492.28L608.8 492.18L610.41 492.09L612.03 491.99L613.66 491.9L615.29 491.81L616.93 491.73L618.58 491.64L620.23 491.56L621.89 491.48L623.56 491.4L625.23 491.33L626.91 491.25L628.6 491.18L630.29 491.11L631.99 491.05L633.7 490.99L635.41 490.92L635.22 485.43L633.5 485.49L631.78 485.55L630.07 485.62L628.37 485.69L626.68 485.76L624.99 485.83L623.31 485.91L621.63 485.98L619.97 486.06L618.3 486.15L616.65 486.23L615 486.32L613.36 486.41L611.72 486.5L610.09 486.59L608.47 486.69L606.85 486.78L605.25 486.88L603.64 486.99L602.05 487.09L600.46 487.19L598.87 487.3L597.3 487.41L595.73 487.52L594.16 487.63L592.61 487.75L591.06 487.87L589.51 487.98L587.97 488.1L586.44 488.22L584.92 488.35L583.4 488.47L581.89 488.6L580.39 488.73L578.89 488.86L577.4 488.99L575.91 489.12L574.43 489.25L572.96 489.39L571.5 489.53L570.04 489.66L568.59 489.8L567.14 489.94L565.7 490.09L564.27 490.23L562.84 490.37L561.42 490.52L560.01 490.66L558.61 490.81L557.21 490.96L555.81 491.11L554.43 491.26L553.05 491.41L551.67 491.57L550.31 491.72L548.95 491.87L547.59 492.03L546.25 492.19L544.91 492.34L543.57 492.5L542.24 492.66L540.92 492.82L539.61 492.98L538.3 493.14L537 493.3L535.71 493.46L534.42 493.63L533.14 493.79L531.86 493.95L530.59 494.12L529.33 494.28L528.08 494.45L526.83 494.61L525.59 494.78L524.35 494.94L523.12 495.11L521.9 495.28L520.68 495.44L519.47 495.61L518.27 495.78L517.08 495.94L515.89 496.11L514.7 496.28L513.53 496.45L512.36 496.61L511.19 496.78L510.04 496.95L508.89 497.12L507.74 497.28L506.61 497.45L505.48 497.62L504.35 497.79L503.24 497.95L502.13 498.12L501.02 498.29L499.92 498.45L498.83 498.62L497.75 498.78L496.67 498.95L495.6 499.11L494.54 499.28L493.48 499.44L492.43 499.6L491.38 499.76L490.34 499.93L489.31 500.09L488.29 500.25L487.27 500.41L486.26 500.57L485.25 500.72L484.25 500.88L483.26 501.04L482.27 501.2L481.3 501.35L480.32 501.5L479.36 501.66L478.4 501.81L477.45 501.96L476.5 502.11L475.56 502.26L474.63 502.41L473.7 502.56L472.78 502.7L471.87 502.85L470.96 502.99L470.06 503.13L469.17 503.27L468.28 503.41L467.4 503.55L466.53 503.69L465.67 503.83L464.81 503.96L463.95 504.09L463.1 504.22L462.26 504.35L461.43 504.48L460.61 504.61L459.79 504.73L458.97 504.86L458.16 504.98L457.36 505.1L456.57 505.22L455.79 505.34L455 505.45L454.23 505.56L453.46 505.68L452.7 505.79L451.95 505.89L451.21 506L450.47 506.1L449.73 506.2L449 506.3L448.28 506.4L447.57 506.5L446.87 506.59L446.17 506.68L445.47 506.77L444.79 506.86L444.11 506.94L443.44 507.03L442.77 507.11L442.11 507.18L441.46 507.26L440.81 507.34L440.18 507.41L439.55 507.48L438.92 507.54L438.3 507.6L437.69 507.67L437.09 507.73L436.49 507.78L435.9 507.84L435.32 507.89L434.74 507.93L434.17 507.98L433.61 508.02L433.05 508.07L432.51 508.1L431.97 508.14L431.44 508.17L430.9 508.2L430.38 508.23L429.87 508.25L429.37 508.27L428.89 508.29L428.41 508.3L427.94 508.31L427.45 508.31L426.96 508.32L426.45 508.32L425.93 508.34L425.39 508.36L424.85 508.4L424.31 508.45L423.78 508.51L423.26 508.58L422.75 508.66L422.25 508.76L421.76 508.86L421.28 508.96L420.81 509.08L420.35 509.2L419.9 509.32L419.46 509.45L419.03 509.58L418.62 509.71L418.21 509.85L417.82 509.98L417.44 510.11L417.07 510.24L416.71 510.37L416.36 510.5L416.03 510.62L415.7 510.73L415.39 510.84L415.1 510.95L414.82 511.04L414.55 511.13L414.3 511.21L414.04 511.29L413.78 511.36L413.52 511.44L413.26 511.52L412.99 511.59L412.72 511.67L412.44 511.76L412.16 511.85L411.87 511.95L411.57 512.05L411.26 512.17L410.95 512.3L410.63 512.44L410.3 512.61L409.97 512.79L409.63 512.99L409.3 513.22L408.96 513.48L408.6 513.78L408.24 514.14L407.92 514.51L407.63 514.89L407.36 515.28L407.13 515.67L406.92 516.07L406.72 516.47L406.55 516.88L406.39 517.29L406.25 517.7L406.11 518.12L405.99 518.55L405.89 518.98L405.79 519.41L405.7 519.85L405.62 520.29L405.55 520.74L405.49 521.19L405.44 521.65L405.39 522.11L405.36 522.55Z" fill="#007f00"/><path d="M635.31 491.9L639.01 485.9L631.61 485.9Z" fill="#007f00"/><path d="M409.2 526.55L412.9 520.55L405.5 520.55Z" fill="#007f00"/>
<path d="M412.03 519.07L412.62 518.25L412.91 517.58L413.01 517.24L413.07 516.99L413.13 516.75L413.19 516.51L413.26 516.22L413.38 515.69L413.49 514.99L413.59 514.21L413.69 513.3L413.79 512.29L413.89 511.17L414 509.99L414.12 508.76L414.24 507.51L414.37 506.27L414.5 505.06L414.64 503.92L414.78 502.87L414.92 501.95L415.05 501.21L415.18 500.63L415.33 500.08L415.48 499.53L415.64 499.02L415.81 498.54L415.97 498.08L416.15 497.64L416.33 497.21L416.51 496.79L416.7 496.37L416.91 495.96L417.12 495.54L417.34 495.12L417.56 494.72L417.77 494.35L417.98 494L418.2 493.65L418.43 493.31L418.67 492.98L418.92 492.64L419.18 492.31L419.45 491.96L419.73 491.62L420.03 491.26L420.34 490.9L420.66 490.52L420.99 490.13L421.34 489.73L421.7 489.31L422.07 488.87L422.45 488.42L422.84 487.94L423.24 487.45L423.63 486.96L424.03 486.45L424.42 485.95L424.82 485.44L425.22 484.93L425.62 484.43L426.03 483.93L426.43 483.44L426.84 482.96L427.24 482.49L427.65 482.04L428.05 481.6L428.46 481.18L428.88 480.77L429.31 480.36L429.76 479.94L430.24 479.51L430.73 479.07L431.24 478.62L431.74 478.16L432.24 477.71L432.75 477.26L433.27 476.8L433.8 476.34L434.33 475.88L434.87 475.41L435.42 474.94L435.97 474.47L436.53 474L437.09 473.52L437.67 473.04L438.25 472.56L438.83 472.07L439.43 471.58L440.03 471.09L440.63 470.6L441.25 470.1L441.87 469.6L442.49 469.1L443.13 468.59L443.77 468.08L444.42 467.57L445.07 467.05L445.73 466.54L446.4 466.02L447.07 465.49L447.75 464.96L448.44 464.43L449.14 463.9L449.84 463.37L450.55 462.83L451.26 462.28L451.98 461.74L452.71 461.19L453.44 460.64L454.19 460.08L454.93 459.52L455.69 458.96L456.45 458.4L457.22 457.83L457.99 457.26L458.78 456.68L459.56 456.11L460.36 455.53L461.16 454.94L461.97 454.35L462.78 453.76L463.61 453.17L464.43 452.57L465.27 451.97L466.11 451.36L466.96 450.75L467.82 450.14L468.68 449.53L469.55 448.91L470.42 448.29L471.3 447.66L472.19 447.03L473.09 446.4L473.99 445.76L474.9 445.12L475.81 444.47L476.73 443.83L477.66 443.18L478.6 442.52L479.54 441.86L480.49 441.2L481.44 440.53L482.4 439.86L483.37 439.19L484.35 438.51L485.33 437.83L486.32 437.14L487.31 436.45L488.31 435.76L489.32 435.06L490.33 434.36L491.35 433.65L492.38 432.94L493.42 432.23L494.46 431.51L495.51 430.79L496.56 430.07L497.62 429.34L498.69 428.6L499.76 427.86L500.84 427.12L501.93 426.38L503.02 425.63L504.12 424.87L505.23 424.12L506.34 423.36L507.46 422.59L508.59 421.83L509.71 421.06L510.85 420.29L512 419.52L513.15 418.75L514.3 417.97L515.46 417.2L516.63 416.42L517.81 415.65L518.99 414.87L520.17 414.09L521.37 413.32L522.57 412.54L523.77 411.77L524.98 411L526.2 410.22L527.43 409.45L528.66 408.68L529.89 407.92L531.14 407.15L532.38 406.4L533.64 405.64L534.9 404.88L536.17 404.13L537.45 403.38L538.72 402.64L540.01 401.9L541.3 401.17L542.6 400.44L543.91 399.71L545.22 398.99L546.54 398.28L547.86 397.57L549.18 396.88L550.51 396.19L551.87 395.51L553.23 394.81L554.61 394.11L556 393.39L557.38 392.67L558.77 391.95L560.18 391.21L561.6 390.45L563.04 389.67L564.49 388.86L565.94 388.02L567.39 387.16L568.85 386.27L570.31 385.36L571.78 384.44L573.26 383.49L574.74 382.51L576.24 381.5L577.73 380.48L579.22 379.44L580.71 378.39L582.21 377.34L583.72 376.28L585.24 375.19L586.75 374.1L588.27 373L589.79 371.91L591.31 370.83L592.85 369.75L594.39 368.66L595.94 367.58L597.49 366.5L599.05 365.42L600.61 364.36L602.17 363.3L603.75 362.25L605.33 361.2L606.93 360.16L608.53 359.11L610.14 358.05L611.75 357L613.38 355.94L615.01 354.89L616.65 353.82L618.3 352.75L619.95 351.66L621.62 350.56L623.28 349.46L624.96 348.35L626.64 347.22L628.34 346.08L630.04 344.93L631.75 343.75L633.46 342.56L635.18 341.35L636.9 340.13L633.72 335.64L632.01 336.86L630.31 338.05L628.62 339.23L626.93 340.39L625.26 341.53L623.58 342.65L621.91 343.77L620.24 344.88L618.58 345.97L616.93 347.06L615.29 348.14L613.65 349.21L612.01 350.27L610.38 351.33L608.75 352.39L607.13 353.45L605.51 354.5L603.91 355.56L602.3 356.61L600.7 357.66L599.11 358.73L597.52 359.8L595.93 360.88L594.35 361.97L592.79 363.06L591.23 364.16L589.68 365.25L588.13 366.34L586.59 367.43L585.06 368.53L583.53 369.63L582.02 370.72L580.53 371.79L579.04 372.84L577.55 373.88L576.06 374.92L574.59 375.95L573.13 376.95L571.69 377.93L570.25 378.87L568.82 379.79L567.39 380.69L565.97 381.57L564.56 382.43L563.15 383.26L561.76 384.07L560.37 384.85L558.99 385.6L557.61 386.33L556.23 387.06L554.84 387.77L553.46 388.49L552.09 389.2L550.73 389.9L549.37 390.59L548.01 391.28L546.64 391.98L545.28 392.69L543.92 393.41L542.58 394.14L541.24 394.87L539.91 395.61L538.59 396.35L537.27 397.1L535.96 397.85L534.66 398.6L533.36 399.36L532.07 400.12L530.79 400.89L529.52 401.66L528.25 402.43L526.99 403.2L525.73 403.98L524.48 404.75L523.24 405.53L522.01 406.31L520.78 407.09L519.56 407.87L518.35 408.65L517.14 409.44L515.94 410.22L514.75 411L513.56 411.78L512.38 412.56L511.21 413.34L510.04 414.12L508.89 414.89L507.74 415.67L506.59 416.44L505.45 417.2L504.32 417.97L503.19 418.74L502.08 419.5L500.97 420.25L499.86 421L498.77 421.75L497.68 422.49L496.59 423.23L495.51 423.97L494.44 424.7L493.38 425.43L492.32 426.15L491.27 426.87L490.22 427.58L489.19 428.29L488.15 429L487.13 429.7L486.11 430.4L485.1 431.09L484.09 431.78L483.09 432.47L482.1 433.15L481.11 433.83L480.13 434.5L479.16 435.17L478.19 435.84L477.23 436.5L476.27 437.16L475.32 437.82L474.38 438.47L473.45 439.12L472.52 439.76L471.6 440.4L470.68 441.03L469.77 441.67L468.87 442.3L467.97 442.92L467.08 443.54L466.2 444.16L465.32 444.77L464.45 445.38L463.58 445.99L462.72 446.6L461.87 447.2L461.03 447.79L460.19 448.38L459.35 448.97L458.53 449.56L457.71 450.14L456.89 450.72L456.09 451.3L455.29 451.87L454.49 452.44L453.7 453L452.92 453.57L452.15 454.13L451.38 454.68L450.62 455.24L449.86 455.78L449.11 456.33L448.37 456.87L447.63 457.41L446.9 457.95L446.17 458.48L445.46 459.02L444.75 459.54L444.04 460.07L443.34 460.59L442.65 461.11L441.96 461.62L441.28 462.14L440.61 462.65L439.94 463.15L439.28 463.66L438.63 464.16L437.98 464.66L437.34 465.15L436.7 465.65L436.07 466.14L435.45 466.62L434.83 467.11L434.22 467.59L433.62 468.07L433.02 468.55L432.43 469.02L431.84 469.49L431.26 469.96L430.69 470.43L430.13 470.9L429.57 471.36L429.01 471.82L428.46 472.27L427.92 472.73L427.39 473.18L426.86 473.63L426.35 474.07L425.85 474.49L425.33 474.93L424.81 475.38L424.28 475.85L423.75 476.34L423.22 476.86L422.71 477.38L422.2 477.91L421.71 478.44L421.24 478.98L420.77 479.51L420.32 480.04L419.87 480.56L419.44 481.08L419.02 481.58L418.61 482.07L418.22 482.54L417.84 482.99L417.47 483.42L417.1 483.84L416.75 484.23L416.39 484.63L416.04 485.01L415.68 485.39L415.33 485.77L414.98 486.15L414.63 486.54L414.28 486.93L413.92 487.33L413.57 487.74L413.22 488.16L412.88 488.6L412.53 489.05L412.19 489.52L411.86 490L411.53 490.51L411.21 491.03L410.91 491.54L410.63 492.04L410.35 492.54L410.07 493.07L409.8 493.61L409.54 494.17L409.28 494.75L409.02 495.35L408.78 495.97L408.54 496.62L408.32 497.3L408.1 498.01L407.88 498.77L407.67 499.65L407.47 500.66L407.29 501.76L407.12 502.93L406.97 504.17L406.82 505.44L406.67 506.73L406.54 508.01L406.41 509.25L406.3 510.43L406.18 511.52L406.08 512.5L405.99 513.31L405.91 513.93L405.85 514.26L405.82 514.36L405.76 514.59L405.69 514.85L405.64 515.04L405.61 515.15L405.62 515.1L405.84 514.62L406.37 513.85Z" fill="#ff00ff"/><path d="M635.31 333.98L639.01 337.88L635.31 341.78L631.61 337.88Z" fill="#ff00ff"/><path d="M409.2 512.56L412.9 516.46L409.2 520.36L405.5 516.46Z" fill="#ff00ff"/>
<rect x="406.99" y="525.77" width="4.32" height="4.32" fill="#000000"/>
<circle cx="409.15" cy="527.93" r="3.1" fill="#ff0000"/>
<path d="M409.15 523.76L413.29 530.48L405 530.48Z" fill="#0000ff"/>
<path d="M409.15 532.09L413.29 525.37L405 525.37Z" fill="#007f00"/>
<path d="M409.15 523.83L413.03 527.93L409.15 532.02L405.26 527.93Z" fill="#ff00ff"/>
<rect x="394.5" y="317.3" width="133" height="78.9" fill="#fff" stroke="#6e6e6e" stroke-width="1"/>
<path d="M396.1 325.4H423.8" stroke="#555" stroke-width="1"/>
<rect x="407.2" y="322.7" width="5.4" height="5.4" fill="#000000"/>
<text x="426.4" y="329.6" font-size="12.4">Saturate</text>
<path d="M396.1 340.9H423.8" stroke="#ffbcbc" stroke-width="2"/>
<circle cx="409.9" cy="340.9" r="3.1" fill="#ff0000"/>
<text x="426.4" y="345.1" font-size="12.4">Naphthene aromatic</text>
<path d="M396.1 356.4H423.8" stroke="#5050ff" stroke-width="1"/>
<path d="M409.9 352.68L413.6 358.68L406.2 358.68Z" fill="#0000ff"/>
<text x="426.4" y="360.6" font-size="12.4">Polar aromatic</text>
<path d="M396.1 371.9H423.8" stroke="#b4dcb4" stroke-width="2"/>
<path d="M409.9 375.62L413.6 369.62L406.2 369.62Z" fill="#007f00"/>
<text x="426.4" y="376.1" font-size="12.4">Asphaltene</text>
<path d="M396.1 387.4H423.8" stroke="#ff50ff" stroke-width="1"/>
<path d="M409.9 383.5L413.6 387.4L409.9 391.3L406.2 387.4Z" fill="#ff00ff"/>
<text x="426.4" y="391.6" font-size="12.4">Rejuvenator</text>
<path d="M471.1 599.6A7.26 7.26 0 0 0 471.1 613.4A8.28 8.28 0 0 1 471.1 599.6Z" fill="#262626" stroke="#262626" stroke-width="0.25"/>
<text x="473.6" y="612.8" class="cp">d</text>
<path d="M485.1 599.6A7.26 7.26 0 0 1 485.1 613.4A8.28 8.28 0 0 0 485.1 599.6Z" fill="#262626" stroke="#262626" stroke-width="0.25"/>
<text x="500.8" y="612.8" class="cp">ROSL-10</text>
<rect x="210.9" y="629.9" width="298.7" height="236.7" fill="none" stroke="#1a1a1a" stroke-width="1.1"/>
<path d="M235.79 866.6V862.2M285.58 866.6V862.2M335.36 866.6V862.2M385.14 866.6V862.2M434.93 866.6V862.2M484.71 866.6V862.2M210.9 866.6V864.4M260.68 866.6V864.4M310.47 866.6V864.4M360.25 866.6V864.4M410.03 866.6V864.4M459.82 866.6V864.4M509.6 866.6V864.4M210.9 848.39H215.3M210.9 811.98H215.3M210.9 775.56H215.3M210.9 739.15H215.3M210.9 702.73H215.3M210.9 666.32H215.3M210.9 629.9H215.3M210.9 866.6H213.1M210.9 830.18H213.1M210.9 793.77H213.1M210.9 757.35H213.1M210.9 720.94H213.1M210.9 684.52H213.1M210.9 648.11H213.1" stroke="#1a1a1a" stroke-width="1.1" fill="none"/>
<text x="235.79" y="879.9" text-anchor="middle" font-size="10.75">0</text>
<text x="285.58" y="879.9" text-anchor="middle" font-size="10.75">1000</text>
<text x="335.36" y="879.9" text-anchor="middle" font-size="10.75">2000</text>
<text x="385.14" y="879.9" text-anchor="middle" font-size="10.75">3000</text>
<text x="434.93" y="879.9" text-anchor="middle" font-size="10.75">4000</text>
<text x="484.71" y="879.9" text-anchor="middle" font-size="10.75">5000</text>
<text x="205.6" y="851.79" text-anchor="end" font-size="10.75">0</text>
<text x="205.6" y="815.38" text-anchor="end" font-size="10.75">20</text>
<text x="205.6" y="778.96" text-anchor="end" font-size="10.75">40</text>
<text x="205.6" y="742.55" text-anchor="end" font-size="10.75">60</text>
<text x="205.6" y="706.13" text-anchor="end" font-size="10.75">80</text>
<text x="205.6" y="669.72" text-anchor="end" font-size="10.75">100</text>
<text x="205.6" y="633.3" text-anchor="end" font-size="10.75">120</text>
<text x="360.25" y="899.4" text-anchor="middle" font-size="12.45">Time(ps)</text>
<text transform="translate(185.8 748.25) rotate(-90)" text-anchor="middle" font-size="12.45">MSD(&#197;<tspan font-size="8.22" dy="-4.5">2</tspan><tspan dy="4.5">)</tspan></text>
<path d="M239.68 844.48L239.71 844.1L239.74 843.75L239.77 843.41L239.81 843.08L239.86 842.74L239.91 842.42L239.97 842.1L240.03 841.78L240.1 841.47L240.17 841.16L240.25 840.86L240.33 840.57L240.42 840.28L240.51 839.99L240.61 839.72L240.71 839.45L240.82 839.18L240.93 838.92L241.04 838.67L241.16 838.43L241.28 838.19L241.41 837.96L241.54 837.73L241.68 837.51L241.81 837.3L241.96 837.09L242.1 836.89L242.26 836.69L242.42 836.49L242.59 836.3L242.76 836.11L242.95 835.91L243.14 835.72L243.34 835.52L243.56 835.33L243.78 835.13L244.01 834.94L244.26 834.74L244.51 834.54L244.77 834.34L245.05 834.13L245.33 833.93L245.63 833.72L245.94 833.51L246.25 833.29L246.58 833.07L246.92 832.85L247.27 832.63L247.63 832.4L247.99 832.16L248.37 831.92L248.76 831.68L249.16 831.43L249.57 831.18L249.97 830.92L250.38 830.67L250.79 830.42L251.21 830.17L251.64 829.92L252.07 829.66L252.51 829.4L252.96 829.15L253.42 828.89L253.88 828.63L254.35 828.37L254.83 828.11L255.32 827.85L255.81 827.59L256.31 827.32L256.82 827.06L257.34 826.79L257.86 826.53L258.4 826.26L258.93 825.99L259.48 825.72L260.04 825.46L260.6 825.19L261.17 824.92L261.74 824.65L262.33 824.38L262.92 824.1L263.52 823.83L264.12 823.56L264.73 823.29L265.36 823.01L265.98 822.74L266.62 822.47L267.26 822.19L267.91 821.92L268.57 821.65L269.24 821.37L269.91 821.1L270.59 820.82L271.28 820.54L271.97 820.27L272.67 819.99L273.38 819.72L274.1 819.44L274.82 819.17L275.55 818.89L276.29 818.62L277.04 818.34L277.79 818.06L278.55 817.79L279.32 817.51L280.1 817.24L280.88 816.96L281.67 816.69L282.47 816.41L283.27 816.14L284.09 815.86L284.91 815.59L285.73 815.31L286.57 815.04L287.41 814.77L288.26 814.49L289.11 814.22L289.98 813.95L290.85 813.68L291.73 813.4L292.61 813.13L293.51 812.86L294.42 812.59L295.33 812.31L296.26 812.03L297.19 811.74L298.12 811.46L299.07 811.17L300.02 810.88L300.98 810.59L301.94 810.29L302.91 809.99L303.89 809.7L304.88 809.39L305.88 809.09L306.88 808.79L307.89 808.48L308.9 808.17L309.92 807.86L310.95 807.54L311.99 807.22L313.04 806.91L314.09 806.59L315.15 806.26L316.21 805.94L317.29 805.61L318.37 805.28L319.46 804.95L320.55 804.61L321.65 804.28L322.76 803.94L323.88 803.6L325 803.26L326.14 802.91L327.27 802.56L328.42 802.22L329.57 801.86L330.73 801.51L331.9 801.16L333.07 800.8L334.26 800.44L335.44 800.08L336.64 799.71L337.84 799.35L339.05 798.98L340.27 798.61L341.5 798.23L342.73 797.86L343.97 797.48L345.21 797.1L346.47 796.72L347.73 796.34L349 795.95L350.27 795.57L351.55 795.18L352.84 794.79L354.14 794.39L355.45 794L356.76 793.6L358.08 793.2L359.4 792.8L360.73 792.39L362.07 791.99L363.42 791.58L364.78 791.17L366.14 790.76L367.51 790.34L368.88 789.92L370.27 789.51L371.66 789.08L373.05 788.66L374.46 788.24L375.87 787.81L377.29 787.38L378.72 786.95L380.15 786.52L381.59 786.08L383.04 785.64L384.5 785.21L385.96 784.76L387.43 784.32L388.9 783.88L390.39 783.43L391.88 782.98L393.38 782.53L394.88 782.07L396.4 781.62L397.92 781.16L399.44 780.7L400.98 780.24L402.52 779.78L404.07 779.31L405.63 778.84L407.19 778.37L408.76 777.9L410.34 777.43L411.92 776.95L413.51 776.48L415.11 776L416.72 775.52L418.33 775.03L419.95 774.55L421.58 774.06L423.22 773.57L424.86 773.08L426.51 772.59L428.17 772.09L429.83 771.6L431.5 771.1L433.18 770.6L434.87 770.09L436.56 769.59L438.26 769.08L439.97 768.57L441.68 768.06L443.4 767.55L445.13 767.04L446.87 766.52L448.61 766L450.36 765.48L452.12 764.96L453.88 764.44L455.66 763.91L457.44 763.38L459.22 762.85L461.02 762.32L462.82 761.79L464.62 761.25L466.44 760.72L468.26 760.18L470.09 759.64L471.93 759.1L473.77 758.55L475.62 758L477.48 757.46L479.35 756.91L481.22 756.35L483.1 755.8L484.99 755.25L483.43 749.97L481.55 750.52L479.67 751.08L477.79 751.63L475.93 752.18L474.07 752.73L472.21 753.27L470.37 753.82L468.53 754.36L466.7 754.9L464.88 755.44L463.06 755.98L461.25 756.51L459.45 757.05L457.66 757.58L455.87 758.11L454.09 758.64L452.32 759.16L450.55 759.69L448.8 760.21L447.04 760.73L445.3 761.25L443.56 761.76L441.83 762.28L440.11 762.79L438.4 763.3L436.69 763.81L434.99 764.31L433.29 764.82L431.61 765.32L429.93 765.82L428.26 766.32L426.59 766.82L424.93 767.31L423.28 767.81L421.64 768.3L420.01 768.79L418.38 769.27L416.76 769.76L415.14 770.24L413.53 770.72L411.93 771.2L410.34 771.68L408.76 772.15L407.18 772.63L405.61 773.1L404.04 773.57L402.49 774.04L400.94 774.5L399.39 774.96L397.86 775.43L396.33 775.88L394.81 776.34L393.3 776.8L391.79 777.25L390.29 777.7L388.8 778.15L387.31 778.6L385.84 779.04L384.37 779.48L382.9 779.92L381.45 780.36L380 780.8L378.56 781.23L377.12 781.67L375.7 782.1L374.28 782.52L372.86 782.95L371.46 783.37L370.06 783.8L368.67 784.22L367.28 784.63L365.91 785.05L364.54 785.46L363.17 785.87L361.82 786.28L360.47 786.69L359.13 787.09L357.8 787.5L356.47 787.9L355.15 788.3L353.84 788.69L352.53 789.09L351.24 789.48L349.95 789.87L348.66 790.26L347.39 790.64L346.12 791.02L344.86 791.41L343.6 791.78L342.36 792.16L341.12 792.54L339.88 792.91L338.66 793.28L337.44 793.65L336.23 794.01L335.02 794.37L333.83 794.73L332.64 795.09L331.45 795.45L330.28 795.8L329.11 796.16L327.95 796.51L326.79 796.85L325.65 797.2L324.51 797.54L323.38 797.88L322.25 798.22L321.13 798.56L320.02 798.89L318.92 799.22L317.82 799.55L316.73 799.88L315.65 800.2L314.58 800.52L313.51 800.84L312.45 801.16L311.4 801.48L310.35 801.79L309.31 802.1L308.28 802.41L307.26 802.71L306.24 803.02L305.23 803.32L304.23 803.62L303.23 803.91L302.24 804.21L301.26 804.5L300.29 804.79L299.32 805.07L298.36 805.36L297.41 805.64L296.46 805.92L295.52 806.19L294.59 806.47L293.67 806.74L292.76 807.01L291.85 807.27L290.94 807.54L290.04 807.8L289.14 808.07L288.25 808.34L287.37 808.6L286.5 808.87L285.63 809.14L284.77 809.4L283.92 809.67L283.07 809.94L282.23 810.21L281.4 810.47L280.57 810.74L279.75 811.01L278.94 811.28L278.14 811.55L277.34 811.81L276.55 812.08L275.77 812.35L275 812.62L274.23 812.89L273.47 813.15L272.71 813.42L271.96 813.69L271.22 813.96L270.49 814.23L269.76 814.49L269.04 814.76L268.33 815.03L267.63 815.3L266.93 815.56L266.24 815.83L265.55 816.1L264.88 816.36L264.21 816.63L263.54 816.89L262.89 817.16L262.24 817.42L261.59 817.69L260.96 817.95L260.33 818.22L259.71 818.48L259.1 818.74L258.49 819.01L257.89 819.27L257.29 819.53L256.71 819.8L256.13 820.06L255.56 820.32L254.99 820.58L254.43 820.84L253.88 821.1L253.33 821.36L252.8 821.62L252.26 821.88L251.74 822.13L251.22 822.39L250.71 822.65L250.21 822.91L249.71 823.16L249.22 823.42L248.74 823.67L248.26 823.93L247.79 824.18L247.33 824.44L246.88 824.69L246.43 824.94L246 825.18L245.58 825.42L245.17 825.65L244.76 825.88L244.36 826.11L243.96 826.34L243.57 826.57L243.18 826.8L242.8 827.02L242.42 827.25L242.04 827.48L241.67 827.71L241.3 827.95L240.93 828.19L240.57 828.43L240.21 828.68L239.86 828.93L239.51 829.19L239.16 829.46L238.82 829.73L238.48 830.01L238.15 830.3L237.82 830.59L237.5 830.9L237.18 831.22L236.87 831.54L236.57 831.88L236.27 832.23L235.99 832.59L235.71 832.96L235.44 833.33L235.18 833.72L234.94 834.11L234.7 834.5L234.47 834.91L234.26 835.31L234.05 835.73L233.86 836.15L233.67 836.58L233.5 837.01L233.33 837.44L233.18 837.89L233.03 838.33L232.89 838.78L232.77 839.23L232.65 839.69L232.54 840.15L232.44 840.62L232.35 841.09L232.27 841.56L232.2 842.03L232.14 842.51L232.08 842.99L232.04 843.47L232 843.93Z" fill="#000000"/><rect x="481.51" y="749.91" width="5.4" height="5.4" fill="#000000"/><rect x="233.14" y="841.5" width="5.4" height="5.4" fill="#000000"/>
<path d="M239.66 844.82L239.69 844.61L239.71 844.45L239.73 844.3L239.76 844.14L239.8 843.99L239.83 843.83L239.87 843.68L239.92 843.53L239.97 843.38L240.02 843.23L240.08 843.08L240.14 842.94L240.21 842.79L240.28 842.64L240.35 842.5L240.43 842.35L240.52 842.21L240.61 842.06L240.71 841.92L240.81 841.77L240.91 841.63L241.03 841.48L241.15 841.34L241.27 841.2L241.4 841.05L241.55 840.9L241.72 840.73L241.89 840.57L242.06 840.4L242.25 840.24L242.44 840.07L242.64 839.91L242.85 839.74L243.06 839.57L243.29 839.4L243.52 839.23L243.75 839.07L244 838.9L244.25 838.73L244.51 838.56L244.78 838.4L245.06 838.23L245.34 838.07L245.63 837.9L245.93 837.74L246.24 837.58L246.55 837.42L246.87 837.26L247.2 837.11L247.54 836.95L247.88 836.8L248.24 836.65L248.6 836.5L248.96 836.36L249.34 836.21L249.72 836.07L250.11 835.93L250.51 835.8L250.91 835.67L251.3 835.55L251.69 835.43L252.11 835.32L252.56 835.21L253.05 835.09L253.54 834.97L254.04 834.84L254.53 834.72L255.04 834.59L255.55 834.47L256.06 834.35L256.59 834.22L257.12 834.1L257.66 833.97L258.21 833.84L258.76 833.72L259.32 833.59L259.89 833.47L260.47 833.34L261.05 833.21L261.65 833.08L262.25 832.95L262.85 832.83L263.47 832.7L264.09 832.57L264.72 832.44L265.35 832.31L266 832.18L266.65 832.05L267.3 831.92L267.97 831.78L268.64 831.65L269.32 831.52L270.01 831.39L270.7 831.26L271.41 831.12L272.12 830.99L272.83 830.86L273.56 830.72L274.29 830.59L275.03 830.45L275.77 830.32L276.53 830.18L277.29 830.04L278.06 829.91L278.83 829.77L279.61 829.63L280.4 829.49L281.2 829.36L282 829.22L282.82 829.08L283.64 828.94L284.46 828.8L285.3 828.66L286.14 828.52L286.98 828.38L287.84 828.23L288.7 828.09L289.57 827.95L290.45 827.8L291.33 827.66L292.23 827.52L293.12 827.37L294.03 827.23L294.94 827.08L295.87 826.93L296.79 826.79L297.73 826.64L298.67 826.49L299.62 826.34L300.58 826.19L301.54 826.04L302.51 825.89L303.49 825.74L304.48 825.59L305.47 825.44L306.47 825.29L307.48 825.13L308.5 824.98L309.52 824.82L310.55 824.67L311.58 824.51L312.63 824.36L313.68 824.2L314.74 824.04L315.8 823.88L316.88 823.72L317.96 823.56L319.04 823.4L320.14 823.24L321.24 823.08L322.35 822.92L323.47 822.75L324.59 822.59L325.72 822.43L326.86 822.26L328 822.09L329.16 821.93L330.32 821.76L331.48 821.59L332.66 821.42L333.84 821.25L335.03 821.08L336.22 820.91L337.43 820.74L338.64 820.56L339.85 820.39L341.08 820.21L342.31 820.04L343.55 819.86L344.8 819.68L346.05 819.51L347.31 819.33L348.58 819.15L349.86 818.97L351.14 818.78L352.43 818.6L353.72 818.42L355.03 818.23L356.34 818.05L357.66 817.86L358.98 817.67L360.32 817.49L361.66 817.3L363.01 817.11L364.36 816.92L365.72 816.72L367.09 816.53L368.47 816.34L369.85 816.14L371.24 815.95L372.64 815.75L374.04 815.55L375.46 815.35L376.88 815.15L378.3 814.95L379.74 814.75L381.18 814.55L382.63 814.35L384.08 814.14L385.55 813.94L387.02 813.73L388.49 813.52L389.98 813.31L391.47 813.1L392.97 812.89L394.47 812.68L395.99 812.46L397.51 812.25L399.04 812.03L400.57 811.82L402.11 811.6L403.66 811.38L405.22 811.16L406.78 810.94L408.35 810.72L409.93 810.49L411.52 810.27L413.11 810.04L414.71 809.82L416.32 809.59L417.93 809.36L419.55 809.13L421.18 808.9L422.82 808.66L424.46 808.43L426.11 808.19L427.77 807.96L429.43 807.72L431.1 807.48L432.78 807.24L434.47 807L436.16 806.76L437.86 806.51L439.57 806.27L441.29 806.02L443.01 805.77L444.74 805.53L446.48 805.28L448.22 805.02L449.97 804.77L451.73 804.52L453.5 804.26L455.27 804.01L457.05 803.75L458.84 803.49L460.63 803.23L462.43 802.97L464.24 802.7L466.06 802.44L467.88 802.17L469.71 801.9L471.55 801.64L473.39 801.37L475.24 801.09L477.1 800.82L478.97 800.55L480.84 800.27L482.72 800L484.61 799.72L483.81 794.27L481.92 794.55L480.04 794.83L478.17 795.11L476.3 795.38L474.45 795.65L472.59 795.92L470.75 796.19L468.91 796.46L467.08 796.73L465.26 796.99L463.45 797.26L461.64 797.52L459.84 797.78L458.04 798.04L456.26 798.3L454.48 798.56L452.71 798.82L450.94 799.07L449.19 799.33L447.43 799.58L445.69 799.83L443.96 800.08L442.23 800.33L440.51 800.58L438.79 800.82L437.08 801.07L435.38 801.31L433.69 801.55L432 801.79L430.33 802.03L428.66 802.27L426.99 802.51L425.33 802.75L423.68 802.98L422.04 803.21L420.41 803.45L418.78 803.68L417.16 803.91L415.54 804.14L413.94 804.36L412.34 804.59L410.75 804.82L409.16 805.04L407.58 805.26L406.01 805.49L404.45 805.71L402.89 805.93L401.34 806.14L399.8 806.36L398.27 806.58L396.74 806.79L395.22 807.01L393.71 807.22L392.2 807.43L390.7 807.64L389.21 807.85L387.73 808.06L386.25 808.27L384.78 808.47L383.32 808.68L381.86 808.88L380.41 809.09L378.97 809.29L377.54 809.49L376.11 809.69L374.69 809.89L373.28 810.08L371.87 810.28L370.47 810.48L369.08 810.67L367.7 810.87L366.32 811.06L364.95 811.25L363.59 811.44L362.24 811.63L360.89 811.82L359.55 812.01L358.21 812.19L356.89 812.38L355.57 812.56L354.26 812.75L352.95 812.93L351.65 813.11L350.36 813.29L349.08 813.47L347.8 813.65L346.54 813.83L345.27 814L344.02 814.18L342.77 814.35L341.53 814.53L340.3 814.7L339.07 814.87L337.85 815.05L336.64 815.22L335.44 815.39L334.24 815.55L333.05 815.72L331.87 815.89L330.69 816.05L329.52 816.22L328.36 816.38L327.21 816.55L326.06 816.71L324.92 816.87L323.79 817.03L322.66 817.19L321.55 817.35L320.44 817.51L319.33 817.67L318.23 817.82L317.15 817.98L316.06 818.13L314.99 818.29L313.92 818.44L312.86 818.59L311.8 818.74L310.76 818.89L309.72 819.04L308.69 819.19L307.66 819.34L306.64 819.49L305.63 819.64L304.63 819.78L303.63 819.93L302.64 820.07L301.66 820.22L300.68 820.36L299.72 820.5L298.76 820.64L297.8 820.78L296.86 820.92L295.92 821.06L294.98 821.2L294.06 821.34L293.14 821.47L292.23 821.61L291.33 821.75L290.43 821.88L289.54 822.01L288.66 822.15L287.78 822.28L286.91 822.41L286.05 822.54L285.2 822.67L284.35 822.8L283.51 822.93L282.68 823.06L281.86 823.19L281.04 823.32L280.23 823.44L279.42 823.57L278.63 823.7L277.84 823.82L277.05 823.94L276.28 824.07L275.51 824.19L274.75 824.31L273.99 824.43L273.25 824.56L272.51 824.68L271.77 824.8L271.05 824.92L270.33 825.03L269.62 825.15L268.91 825.27L268.21 825.39L267.52 825.5L266.84 825.62L266.16 825.74L265.49 825.85L264.83 825.97L264.17 826.08L263.53 826.19L262.88 826.31L262.25 826.42L261.62 826.53L261 826.65L260.39 826.76L259.78 826.87L259.18 826.98L258.59 827.09L258.01 827.2L257.43 827.31L256.86 827.42L256.29 827.53L255.73 827.64L255.18 827.75L254.64 827.85L254.1 827.96L253.57 828.07L253.05 828.18L252.53 828.28L252.03 828.39L251.55 828.49L251.06 828.59L250.56 828.69L250.05 828.8L249.51 828.93L248.99 829.07L248.49 829.21L248.01 829.35L247.53 829.49L247.06 829.64L246.6 829.79L246.14 829.95L245.69 830.11L245.25 830.27L244.82 830.44L244.39 830.61L243.97 830.79L243.55 830.97L243.14 831.15L242.74 831.34L242.34 831.53L241.96 831.72L241.57 831.92L241.2 832.12L240.83 832.32L240.47 832.53L240.11 832.74L239.77 832.95L239.42 833.16L239.09 833.38L238.76 833.6L238.44 833.83L238.13 834.06L237.82 834.29L237.52 834.52L237.23 834.76L236.94 835L236.66 835.24L236.39 835.49L236.12 835.74L235.84 836.01L235.58 836.29L235.32 836.57L235.07 836.86L234.83 837.16L234.59 837.46L234.37 837.76L234.15 838.08L233.95 838.39L233.75 838.71L233.56 839.04L233.39 839.37L233.22 839.71L233.06 840.05L232.92 840.4L232.78 840.74L232.65 841.09L232.54 841.45L232.43 841.81L232.33 842.17L232.25 842.53L232.17 842.9L232.11 843.26L232.06 843.63L232.02 843.95Z" fill="#ff0000"/><circle cx="484.21" cy="797" r="3.1" fill="#ff0000"/><circle cx="235.84" cy="844.39" r="3.1" fill="#ff0000"/>
<path d="M239.68 844.49L239.71 844.13L239.73 843.8L239.77 843.48L239.81 843.17L239.85 842.86L239.9 842.56L239.96 842.27L240.02 841.98L240.08 841.7L240.15 841.43L240.23 841.17L240.3 840.92L240.38 840.67L240.47 840.44L240.55 840.22L240.64 840.01L240.73 839.8L240.82 839.62L240.92 839.44L241.01 839.27L241.11 839.12L241.2 838.97L241.29 838.84L241.39 838.72L241.48 838.61L241.58 838.5L241.69 838.38L241.81 838.27L241.93 838.16L242.07 838.05L242.22 837.93L242.38 837.82L242.55 837.7L242.74 837.58L242.93 837.46L243.15 837.34L243.37 837.22L243.61 837.09L243.87 836.96L244.13 836.83L244.42 836.7L244.71 836.57L245.02 836.43L245.34 836.29L245.67 836.14L246.01 835.99L246.37 835.84L246.74 835.68L247.12 835.52L247.51 835.35L247.91 835.18L248.32 834.99L248.74 834.81L249.17 834.61L249.61 834.41L250.03 834.21L250.47 834L250.9 833.8L251.35 833.59L251.8 833.38L252.26 833.16L252.72 832.94L253.19 832.72L253.67 832.5L254.16 832.27L254.65 832.04L255.15 831.81L255.65 831.57L256.16 831.34L256.68 831.1L257.21 830.86L257.74 830.62L258.28 830.37L258.83 830.13L259.38 829.88L259.94 829.63L260.51 829.38L261.08 829.13L261.66 828.88L262.25 828.62L262.84 828.37L263.44 828.11L264.05 827.85L264.67 827.6L265.29 827.34L265.92 827.08L266.56 826.82L267.2 826.56L267.85 826.3L268.51 826.05L269.18 825.79L269.85 825.53L270.53 825.27L271.21 825.01L271.91 824.75L272.61 824.5L273.32 824.24L274.03 823.98L274.75 823.73L275.48 823.47L276.22 823.22L276.96 822.97L277.71 822.72L278.47 822.47L279.23 822.22L280 821.98L280.78 821.73L281.57 821.49L282.36 821.25L283.16 821.01L283.97 820.78L284.78 820.54L285.6 820.31L286.43 820.08L287.27 819.85L288.11 819.63L288.96 819.41L289.82 819.19L290.68 818.98L291.54 818.77L292.41 818.57L293.3 818.37L294.2 818.17L295.12 817.96L296.05 817.75L296.99 817.54L297.92 817.32L298.87 817.11L299.82 816.89L300.78 816.67L301.74 816.45L302.72 816.23L303.7 816L304.68 815.78L305.68 815.55L306.68 815.32L307.69 815.09L308.71 814.86L309.73 814.62L310.76 814.39L311.8 814.15L312.84 813.91L313.89 813.67L314.95 813.43L316.02 813.18L317.09 812.94L318.17 812.69L319.26 812.44L320.36 812.19L321.46 811.94L322.57 811.68L323.69 811.43L324.81 811.17L325.94 810.91L327.08 810.65L328.23 810.39L329.38 810.13L330.54 809.86L331.71 809.6L332.88 809.33L334.06 809.06L335.25 808.79L336.45 808.52L337.65 808.24L338.86 807.97L340.08 807.69L341.3 807.41L342.54 807.13L343.77 806.85L345.02 806.57L346.27 806.28L347.54 806L348.8 805.71L350.08 805.42L351.36 805.13L352.65 804.84L353.95 804.55L355.25 804.25L356.56 803.96L357.88 803.66L359.21 803.36L360.54 803.06L361.88 802.76L363.23 802.46L364.58 802.15L365.94 801.85L367.31 801.54L368.69 801.23L370.07 800.92L371.46 800.61L372.86 800.3L374.26 799.98L375.67 799.67L377.09 799.35L378.52 799.03L379.95 798.71L381.39 798.39L382.84 798.07L384.3 797.75L385.76 797.43L387.23 797.1L388.7 796.77L390.19 796.44L391.68 796.12L393.18 795.78L394.68 795.45L396.2 795.12L397.72 794.79L399.24 794.45L400.78 794.11L402.32 793.77L403.87 793.44L405.42 793.1L406.98 792.75L408.56 792.41L410.13 792.07L411.72 791.72L413.31 791.38L414.91 791.03L416.51 790.68L418.13 790.33L419.75 789.98L421.38 789.63L423.01 789.27L424.65 788.92L426.3 788.56L427.96 788.21L429.62 787.85L431.29 787.49L432.97 787.13L434.66 786.77L436.35 786.41L438.05 786.05L439.75 785.68L441.47 785.32L443.19 784.95L444.92 784.59L446.65 784.22L448.4 783.85L450.15 783.48L451.9 783.11L453.67 782.74L455.44 782.36L457.22 781.99L459 781.61L460.8 781.24L462.6 780.86L464.41 780.48L466.22 780.1L468.04 779.73L469.87 779.34L471.71 778.96L473.55 778.58L475.4 778.2L477.26 777.81L479.13 777.43L481 777.04L482.88 776.65L484.76 776.27L483.66 770.88L481.77 771.27L479.89 771.65L478.01 772.04L476.15 772.43L474.29 772.81L472.44 773.19L470.59 773.58L468.75 773.96L466.92 774.34L465.1 774.72L463.28 775.1L461.47 775.48L459.67 775.85L457.88 776.23L456.09 776.6L454.31 776.98L452.53 777.35L450.77 777.72L449.01 778.1L447.26 778.47L445.51 778.84L443.78 779.2L442.05 779.57L440.32 779.94L438.61 780.3L436.9 780.67L435.2 781.03L433.51 781.39L431.82 781.75L430.14 782.11L428.47 782.47L426.8 782.83L425.14 783.18L423.49 783.54L421.85 783.89L420.21 784.25L418.58 784.6L416.96 784.95L415.35 785.3L413.74 785.65L412.14 786L410.55 786.34L408.96 786.69L407.38 787.03L405.81 787.37L404.25 787.71L402.69 788.05L401.14 788.39L399.6 788.73L398.06 789.07L396.53 789.4L395.01 789.74L393.5 790.07L391.99 790.4L390.49 790.73L389 791.06L387.51 791.39L386.04 791.72L384.57 792.04L383.1 792.36L381.65 792.69L380.2 793.01L378.76 793.33L377.32 793.65L375.89 793.96L374.47 794.28L373.06 794.59L371.65 794.91L370.26 795.22L368.86 795.53L367.48 795.84L366.1 796.14L364.73 796.45L363.37 796.75L362.02 797.06L360.67 797.36L359.33 797.66L357.99 797.96L356.67 798.26L355.35 798.55L354.03 798.85L352.73 799.14L351.43 799.43L350.14 799.72L348.86 800.01L347.58 800.29L346.31 800.58L345.05 800.86L343.8 801.15L342.55 801.43L341.31 801.7L340.08 801.98L338.85 802.26L337.63 802.53L336.42 802.8L335.22 803.08L334.02 803.34L332.83 803.61L331.65 803.88L330.47 804.14L329.3 804.41L328.14 804.67L326.99 804.93L325.84 805.18L324.7 805.44L323.57 805.69L322.44 805.95L321.33 806.2L320.22 806.45L319.11 806.69L318.02 806.94L316.93 807.18L315.85 807.43L314.77 807.67L313.7 807.9L312.64 808.14L311.59 808.38L310.55 808.61L309.51 808.84L308.48 809.07L307.45 809.3L306.43 809.52L305.43 809.75L304.42 809.97L303.43 810.19L302.44 810.41L301.46 810.63L300.48 810.84L299.52 811.05L298.56 811.26L297.61 811.47L296.66 811.68L295.72 811.88L294.8 812.09L293.88 812.28L292.97 812.48L292.06 812.67L291.14 812.86L290.23 813.07L289.31 813.27L288.41 813.49L287.53 813.7L286.65 813.92L285.77 814.14L284.91 814.36L284.05 814.59L283.19 814.82L282.35 815.05L281.51 815.28L280.68 815.51L279.86 815.75L279.04 815.98L278.24 816.22L277.44 816.46L276.64 816.71L275.86 816.95L275.08 817.19L274.3 817.44L273.54 817.69L272.78 817.93L272.03 818.18L271.29 818.43L270.56 818.68L269.83 818.93L269.11 819.18L268.39 819.43L267.69 819.68L266.99 819.93L266.3 820.18L265.61 820.43L264.94 820.68L264.27 820.93L263.6 821.18L262.95 821.43L262.3 821.68L261.66 821.93L261.03 822.17L260.41 822.42L259.79 822.66L259.18 822.9L258.57 823.14L257.98 823.38L257.39 823.62L256.81 823.86L256.24 824.09L255.67 824.32L255.11 824.56L254.56 824.78L254.02 825.01L253.48 825.23L252.96 825.45L252.44 825.67L251.92 825.89L251.42 826.1L250.92 826.31L250.43 826.52L249.95 826.72L249.48 826.92L249.01 827.12L248.55 827.31L248.1 827.5L247.66 827.69L247.22 827.87L246.8 828.05L246.39 828.21L246 828.37L245.61 828.52L245.23 828.67L244.85 828.82L244.47 828.96L244.1 829.1L243.73 829.23L243.36 829.37L243 829.51L242.64 829.64L242.28 829.78L241.92 829.92L241.56 830.06L241.21 830.2L240.85 830.35L240.5 830.51L240.15 830.67L239.79 830.83L239.44 831.01L239.09 831.2L238.74 831.39L238.39 831.6L238.04 831.82L237.7 832.05L237.36 832.3L237.02 832.56L236.69 832.84L236.36 833.14L236.04 833.45L235.73 833.79L235.43 834.14L235.14 834.49L234.88 834.86L234.62 835.24L234.38 835.62L234.15 836.01L233.94 836.41L233.74 836.82L233.55 837.23L233.38 837.65L233.21 838.07L233.06 838.5L232.92 838.93L232.79 839.37L232.66 839.81L232.55 840.25L232.45 840.7L232.36 841.16L232.28 841.62L232.2 842.08L232.14 842.54L232.08 843.01L232.04 843.48L232 843.91Z" fill="#0000ff"/><path d="M484.21 769.85L487.91 775.85L480.51 775.85Z" fill="#0000ff"/><path d="M235.84 840.48L239.54 846.48L232.14 846.48Z" fill="#0000ff"/>
<path d="M239.68 839.48L239.71 838.91L239.75 838.37L239.79 837.83L239.83 837.3L239.88 836.77L239.94 836.25L240 835.74L240.07 835.24L240.15 834.74L240.23 834.24L240.32 833.76L240.41 833.28L240.51 832.81L240.62 832.34L240.73 831.88L240.85 831.41L240.98 830.96L241.11 830.5L241.25 830.06L241.39 829.62L241.53 829.19L241.69 828.76L241.85 828.34L242.01 827.93L242.18 827.53L242.35 827.14L242.53 826.76L242.71 826.39L242.89 826.03L243.08 825.68L243.28 825.34L243.49 825L243.7 824.66L243.92 824.32L244.16 823.98L244.4 823.64L244.65 823.29L244.92 822.93L245.19 822.57L245.48 822.2L245.78 821.83L246.08 821.45L246.37 821.09L246.67 820.74L246.97 820.39L247.29 820.03L247.62 819.67L247.96 819.31L248.3 818.94L248.66 818.57L249.03 818.2L249.41 817.81L249.79 817.43L250.19 817.03L250.6 816.63L251.02 816.21L251.45 815.79L251.88 815.36L252.33 814.92L252.8 814.45L253.28 813.97L253.75 813.48L254.22 812.99L254.68 812.51L255.15 812.03L255.64 811.55L256.13 811.05L256.63 810.55L257.14 810.05L257.65 809.54L258.17 809.03L258.7 808.52L259.24 807.99L259.78 807.47L260.33 806.94L260.89 806.41L261.45 805.87L262.02 805.33L262.6 804.78L263.19 804.23L263.78 803.68L264.38 803.12L264.99 802.56L265.61 802L266.23 801.43L266.86 800.86L267.5 800.29L268.14 799.71L268.8 799.13L269.46 798.54L270.12 797.96L270.8 797.37L271.48 796.77L272.17 796.18L272.86 795.58L273.56 794.98L274.27 794.37L274.99 793.76L275.72 793.15L276.45 792.54L277.19 791.93L277.93 791.31L278.69 790.69L279.45 790.07L280.22 789.44L280.99 788.82L281.77 788.19L282.56 787.56L283.36 786.92L284.17 786.29L284.98 785.65L285.8 785.01L286.62 784.37L287.46 783.73L288.3 783.09L289.14 782.44L290 781.8L290.86 781.15L291.73 780.5L292.61 779.85L293.49 779.2L294.39 778.54L295.29 777.89L296.19 777.23L297.11 776.57L298.03 775.91L298.96 775.25L299.89 774.59L300.84 773.92L301.79 773.25L302.75 772.58L303.72 771.91L304.69 771.24L305.67 770.56L306.66 769.88L307.66 769.2L308.66 768.52L309.67 767.83L310.69 767.15L311.71 766.45L312.75 765.76L313.79 765.06L314.83 764.37L315.89 763.66L316.95 762.96L318.02 762.25L319.1 761.54L320.18 760.83L321.28 760.11L322.37 759.39L323.48 758.67L324.6 757.94L325.72 757.21L326.85 756.48L327.98 755.74L329.12 755L330.28 754.26L331.43 753.51L332.6 752.76L333.77 752.01L334.95 751.25L336.14 750.49L337.33 749.72L338.54 748.95L339.75 748.18L340.96 747.4L342.19 746.62L343.42 745.83L344.66 745.04L345.9 744.24L347.15 743.45L348.42 742.64L349.68 741.83L350.96 741.02L352.24 740.2L353.53 739.38L354.83 738.55L356.13 737.72L357.44 736.88L358.76 736.04L360.09 735.2L361.42 734.34L362.76 733.49L364.11 732.63L365.47 731.76L366.83 730.89L368.2 730.01L369.57 729.12L370.96 728.24L372.35 727.34L373.75 726.44L375.16 725.54L376.57 724.63L377.99 723.71L379.42 722.79L380.85 721.86L382.3 720.92L383.74 719.98L385.2 719.04L386.67 718.08L388.14 717.13L389.62 716.16L391.1 715.19L392.6 714.21L394.1 713.23L395.6 712.24L397.12 711.24L398.64 710.24L400.17 709.23L401.71 708.21L403.25 707.19L404.8 706.16L406.36 705.12L407.93 704.08L409.5 703.03L411.08 701.97L412.67 700.9L414.26 699.83L415.86 698.75L417.47 697.67L419.09 696.58L420.71 695.48L422.34 694.37L423.98 693.25L425.62 692.13L427.28 691L428.94 689.87L430.6 688.72L432.28 687.57L433.96 686.41L435.64 685.25L437.34 684.08L439.04 682.9L440.75 681.71L442.47 680.51L444.19 679.31L445.92 678.1L447.66 676.88L449.41 675.66L451.16 674.43L452.92 673.19L454.69 671.94L456.46 670.69L458.24 669.42L460.03 668.15L461.83 666.88L463.63 665.59L465.44 664.3L467.26 663L469.09 661.69L470.92 660.37L472.76 659.05L474.6 657.72L476.46 656.38L478.32 655.04L480.19 653.68L482.06 652.32L483.94 650.95L485.83 649.57L482.59 645.13L480.7 646.5L478.82 647.87L476.95 649.23L475.09 650.58L473.23 651.92L471.38 653.26L469.54 654.59L467.71 655.91L465.88 657.22L464.06 658.53L462.24 659.82L460.44 661.11L458.64 662.4L456.85 663.67L455.06 664.94L453.28 666.2L451.51 667.45L449.75 668.69L448 669.93L446.25 671.16L444.51 672.38L442.77 673.59L441.04 674.8L439.32 676L437.61 677.19L435.91 678.37L434.21 679.55L432.52 680.72L430.83 681.88L429.16 683.04L427.49 684.19L425.82 685.33L424.17 686.46L422.52 687.59L420.88 688.7L419.25 689.82L417.62 690.92L416 692.02L414.39 693.11L412.78 694.19L411.19 695.26L409.6 696.33L408.01 697.39L406.44 698.45L404.87 699.5L403.31 700.54L401.75 701.57L400.21 702.6L398.67 703.62L397.13 704.63L395.61 705.64L394.09 706.64L392.58 707.63L391.07 708.62L389.58 709.6L388.09 710.58L386.6 711.54L385.13 712.51L383.66 713.46L382.2 714.41L380.74 715.36L379.3 716.29L377.86 717.22L376.42 718.15L375 719.07L373.58 719.99L372.17 720.89L370.76 721.8L369.36 722.69L367.97 723.59L366.59 724.47L365.22 725.35L363.85 726.23L362.49 727.1L361.13 727.96L359.78 728.82L358.44 729.68L357.11 730.53L355.78 731.37L354.47 732.21L353.15 733.05L351.85 733.88L350.55 734.7L349.26 735.52L347.98 736.34L346.7 737.15L345.43 737.96L344.17 738.76L342.92 739.56L341.67 740.35L340.43 741.14L339.19 741.92L337.97 742.7L336.75 743.48L335.53 744.25L334.33 745.02L333.13 745.79L331.94 746.55L330.76 747.3L329.58 748.06L328.41 748.81L327.25 749.55L326.09 750.29L324.94 751.03L323.8 751.77L322.66 752.5L321.54 753.23L320.42 753.95L319.3 754.67L318.2 755.39L317.1 756.11L316 756.82L314.92 757.53L313.84 758.24L312.77 758.94L311.7 759.64L310.65 760.34L309.6 761.04L308.55 761.73L307.52 762.42L306.49 763.11L305.46 763.79L304.45 764.48L303.44 765.16L302.44 765.83L301.45 766.51L300.46 767.18L299.48 767.86L298.5 768.53L297.54 769.19L296.58 769.86L295.63 770.53L294.68 771.19L293.74 771.85L292.81 772.51L291.89 773.16L290.97 773.82L290.06 774.48L289.15 775.13L288.26 775.78L287.37 776.43L286.49 777.08L285.61 777.73L284.74 778.37L283.88 779.02L283.03 779.66L282.18 780.3L281.34 780.94L280.51 781.58L279.68 782.21L278.86 782.84L278.05 783.47L277.25 784.1L276.45 784.73L275.66 785.35L274.88 785.97L274.1 786.59L273.33 787.21L272.57 787.82L271.82 788.43L271.07 789.04L270.33 789.65L269.6 790.25L268.87 790.85L268.15 791.45L267.44 792.04L266.74 792.63L266.04 793.22L265.35 793.81L264.67 794.39L263.99 794.97L263.33 795.54L262.66 796.11L262.01 796.68L261.36 797.25L260.72 797.81L260.09 798.36L259.46 798.92L258.85 799.47L258.23 800.01L257.63 800.56L257.03 801.09L256.44 801.63L255.86 802.16L255.28 802.68L254.72 803.21L254.15 803.72L253.6 804.23L253.05 804.74L252.51 805.25L251.98 805.75L251.45 806.24L250.94 806.73L250.42 807.22L249.91 807.71L249.41 808.2L248.92 808.67L248.46 809.12L248.01 809.55L247.57 809.97L247.12 810.38L246.68 810.79L246.24 811.19L245.8 811.59L245.37 811.99L244.95 812.38L244.53 812.77L244.11 813.17L243.7 813.56L243.29 813.95L242.88 814.35L242.48 814.75L242.09 815.15L241.7 815.56L241.31 815.97L240.93 816.39L240.55 816.81L240.2 817.23L239.86 817.63L239.52 818.03L239.19 818.43L238.86 818.84L238.54 819.25L238.22 819.67L237.9 820.1L237.59 820.54L237.28 820.99L236.98 821.45L236.68 821.93L236.4 822.42L236.12 822.92L235.85 823.42L235.59 823.94L235.34 824.46L235.11 824.99L234.88 825.52L234.66 826.06L234.45 826.6L234.25 827.15L234.05 827.7L233.87 828.26L233.69 828.82L233.53 829.39L233.37 829.96L233.22 830.53L233.08 831.11L232.95 831.69L232.82 832.28L232.71 832.88L232.6 833.48L232.5 834.09L232.41 834.7L232.32 835.32L232.25 835.94L232.18 836.56L232.12 837.2L232.07 837.83L232.03 838.47L232 839.09Z" fill="#ff00ff"/><path d="M484.21 643.45L487.91 647.35L484.21 651.25L480.51 647.35Z" fill="#ff00ff"/><path d="M235.84 835.39L239.54 839.29L235.84 843.19L232.14 839.29Z" fill="#ff00ff"/>
<path d="M239.65 845.33L239.66 845.21L239.67 845.15L239.68 845.1L239.69 845.05L239.71 845L239.72 844.95L239.74 844.91L239.75 844.86L239.77 844.82L239.79 844.77L239.82 844.73L239.84 844.68L239.87 844.63L239.9 844.58L239.94 844.53L239.98 844.48L240.02 844.43L240.07 844.38L240.12 844.32L240.18 844.26L240.25 844.21L240.32 844.15L240.4 844.09L240.48 844.02L240.58 843.96L240.68 843.9L240.79 843.84L240.91 843.78L241.04 843.71L241.19 843.65L241.35 843.58L241.53 843.51L241.72 843.44L241.92 843.37L242.14 843.31L242.37 843.24L242.61 843.17L242.87 843.1L243.13 843.03L243.41 842.96L243.71 842.89L244.01 842.82L244.33 842.75L244.65 842.68L244.99 842.61L245.34 842.53L245.69 842.46L246.06 842.38L246.44 842.3L246.83 842.22L247.22 842.13L247.63 842.05L248.04 841.95L248.47 841.86L248.9 841.76L249.33 841.66L249.76 841.56L250.21 841.46L250.65 841.36L251.11 841.25L251.57 841.14L252.03 841.03L252.51 840.92L252.99 840.81L253.48 840.7L253.97 840.59L254.47 840.48L254.98 840.36L255.49 840.25L256.01 840.13L256.54 840.01L257.07 839.9L257.61 839.78L258.16 839.66L258.71 839.54L259.27 839.43L259.84 839.31L260.42 839.19L261 839.08L261.59 838.96L262.18 838.84L262.79 838.73L263.4 838.62L264.01 838.5L264.64 838.39L265.27 838.28L265.9 838.17L266.55 838.06L267.21 837.95L267.87 837.84L268.54 837.73L269.22 837.62L269.91 837.51L270.61 837.4L271.31 837.29L272.02 837.18L272.74 837.07L273.46 836.96L274.19 836.85L274.93 836.74L275.68 836.63L276.43 836.52L277.19 836.4L277.96 836.29L278.73 836.18L279.52 836.07L280.31 835.96L281.1 835.85L281.91 835.73L282.72 835.62L283.54 835.51L284.37 835.4L285.2 835.28L286.04 835.17L286.89 835.06L287.74 834.94L288.61 834.83L289.48 834.71L290.35 834.6L291.24 834.49L292.13 834.37L293.03 834.26L293.94 834.14L294.85 834.03L295.77 833.91L296.7 833.79L297.63 833.68L298.58 833.56L299.53 833.44L300.48 833.33L301.45 833.21L302.42 833.09L303.4 832.97L304.38 832.86L305.38 832.74L306.38 832.62L307.39 832.5L308.4 832.38L309.42 832.26L310.45 832.14L311.49 832.02L312.53 831.9L313.59 831.78L314.64 831.65L315.71 831.53L316.78 831.41L317.86 831.29L318.95 831.16L320.04 831.04L321.15 830.92L322.26 830.79L323.37 830.67L324.5 830.54L325.63 830.42L326.76 830.29L327.91 830.16L329.06 830.04L330.22 829.91L331.39 829.78L332.56 829.65L333.74 829.53L334.93 829.4L336.13 829.27L337.33 829.14L338.54 829.01L339.76 828.88L340.98 828.74L342.22 828.61L343.45 828.48L344.7 828.35L345.95 828.21L347.21 828.08L348.48 827.94L349.76 827.81L351.04 827.67L352.33 827.54L353.63 827.4L354.93 827.26L356.24 827.12L357.56 826.98L358.89 826.85L360.22 826.71L361.56 826.57L362.91 826.42L364.26 826.28L365.62 826.14L366.99 826L368.37 825.85L369.75 825.71L371.14 825.57L372.54 825.42L373.95 825.27L375.36 825.13L376.78 824.98L378.2 824.83L379.64 824.68L381.08 824.54L382.53 824.39L383.98 824.23L385.44 824.08L386.91 823.93L388.39 823.78L389.88 823.63L391.37 823.47L392.87 823.32L394.37 823.16L395.89 823.01L397.41 822.85L398.93 822.69L400.47 822.53L402.01 822.37L403.56 822.21L405.12 822.05L406.68 821.89L408.25 821.73L409.83 821.57L411.41 821.4L413.01 821.24L414.61 821.07L416.21 820.91L417.83 820.74L419.45 820.57L421.08 820.41L422.71 820.24L424.36 820.07L426.01 819.9L427.66 819.73L429.33 819.55L431 819.38L432.68 819.21L434.36 819.03L436.06 818.86L437.76 818.68L439.47 818.5L441.18 818.32L442.9 818.15L444.63 817.97L446.37 817.78L448.11 817.6L449.86 817.42L451.62 817.24L453.39 817.05L455.16 816.87L456.94 816.68L458.73 816.49L460.52 816.31L462.32 816.12L464.13 815.93L465.95 815.74L467.77 815.55L469.6 815.35L471.44 815.16L473.28 814.97L475.13 814.77L476.99 814.58L478.86 814.38L480.73 814.18L482.61 813.98L484.5 813.78L483.92 808.31L482.03 808.51L480.15 808.71L478.28 808.91L476.42 809.11L474.56 809.3L472.71 809.5L470.86 809.69L469.02 809.88L467.19 810.08L465.37 810.27L463.56 810.46L461.75 810.65L459.95 810.84L458.15 811.02L456.37 811.21L454.59 811.4L452.82 811.58L451.05 811.77L449.29 811.95L447.54 812.13L445.8 812.31L444.06 812.49L442.33 812.67L440.61 812.85L438.9 813.03L437.19 813.21L435.49 813.38L433.8 813.56L432.11 813.73L430.43 813.91L428.76 814.08L427.1 814.25L425.44 814.42L423.79 814.59L422.15 814.76L420.51 814.93L418.88 815.1L417.26 815.27L415.65 815.43L414.04 815.6L412.44 815.76L410.85 815.93L409.26 816.09L407.69 816.25L406.12 816.41L404.55 816.57L403 816.74L401.45 816.89L399.9 817.05L398.37 817.21L396.84 817.37L395.32 817.52L393.81 817.68L392.3 817.83L390.8 817.99L389.31 818.14L387.83 818.29L386.35 818.45L384.88 818.6L383.42 818.75L381.96 818.9L380.51 819.05L379.07 819.2L377.64 819.34L376.21 819.49L374.79 819.64L373.38 819.78L371.97 819.93L370.57 820.07L369.18 820.21L367.8 820.36L366.42 820.5L365.05 820.64L363.69 820.78L362.33 820.92L360.99 821.06L359.65 821.2L358.31 821.34L356.99 821.48L355.67 821.61L354.35 821.75L353.05 821.89L351.75 822.02L350.46 822.15L349.18 822.29L347.9 822.42L346.63 822.55L345.37 822.69L344.12 822.82L342.87 822.95L341.63 823.08L340.4 823.21L339.17 823.34L337.95 823.47L336.74 823.59L335.53 823.72L334.34 823.85L333.15 823.97L331.96 824.1L330.79 824.22L329.62 824.35L328.46 824.47L327.3 824.59L326.16 824.72L325.02 824.84L323.89 824.96L322.76 825.08L321.64 825.2L320.53 825.32L319.43 825.44L318.33 825.56L317.24 825.68L316.16 825.8L315.08 825.91L314.01 826.03L312.95 826.15L311.9 826.26L310.85 826.38L309.81 826.49L308.78 826.6L307.76 826.72L306.74 826.83L305.73 826.94L304.72 827.06L303.73 827.17L302.74 827.28L301.75 827.39L300.78 827.5L299.81 827.61L298.85 827.72L297.9 827.83L296.95 827.93L296.01 828.04L295.08 828.15L294.15 828.26L293.24 828.36L292.32 828.47L291.42 828.57L290.52 828.68L289.63 828.78L288.75 828.89L287.88 828.99L287.01 829.09L286.15 829.2L285.29 829.3L284.45 829.4L283.61 829.5L282.78 829.6L281.95 829.7L281.13 829.81L280.32 829.9L279.52 830L278.72 830.1L277.93 830.2L277.15 830.3L276.37 830.4L275.61 830.5L274.84 830.59L274.09 830.69L273.34 830.79L272.6 830.88L271.87 830.98L271.14 831.08L270.43 831.17L269.71 831.27L269.01 831.36L268.31 831.45L267.62 831.55L266.94 831.64L266.26 831.74L265.59 831.83L264.92 831.92L264.26 832.02L263.61 832.12L262.96 832.22L262.32 832.31L261.69 832.41L261.07 832.51L260.45 832.61L259.84 832.71L259.24 832.81L258.64 832.91L258.06 833.02L257.48 833.12L256.9 833.22L256.34 833.32L255.78 833.42L255.23 833.52L254.69 833.61L254.16 833.71L253.63 833.81L253.11 833.91L252.6 834L252.1 834.09L251.61 834.19L251.12 834.28L250.64 834.37L250.17 834.46L249.7 834.54L249.25 834.63L248.8 834.71L248.36 834.79L247.93 834.87L247.5 834.95L247.1 835.02L246.7 835.09L246.3 835.16L245.91 835.22L245.53 835.28L245.15 835.34L244.78 835.4L244.41 835.46L244.04 835.52L243.68 835.57L243.32 835.63L242.97 835.69L242.62 835.75L242.27 835.81L241.93 835.87L241.59 835.93L241.25 836L240.91 836.07L240.57 836.14L240.24 836.22L239.9 836.3L239.57 836.39L239.24 836.49L238.91 836.59L238.58 836.7L238.25 836.82L237.92 836.95L237.59 837.1L237.26 837.25L236.94 837.41L236.63 837.58L236.32 837.77L236.03 837.96L235.73 838.16L235.45 838.37L235.18 838.59L234.91 838.82L234.65 839.06L234.41 839.31L234.17 839.57L233.94 839.84L233.73 840.11L233.52 840.4L233.33 840.69L233.14 840.99L232.98 841.29L232.82 841.6L232.67 841.92L232.54 842.24L232.42 842.56L232.32 842.89L232.23 843.23L232.15 843.56L232.08 843.9L232.04 844.17Z" fill="#007f00"/><path d="M484.21 814.77L487.91 808.77L480.51 808.77Z" fill="#007f00"/><path d="M235.84 848.47L239.54 842.47L232.14 842.47Z" fill="#007f00"/>
<rect x="233.63" y="846.23" width="4.32" height="4.32" fill="#000000"/>
<circle cx="235.79" cy="848.39" r="3.1" fill="#ff0000"/>
<path d="M235.79 844.23L239.94 850.95L231.65 850.95Z" fill="#0000ff"/>
<path d="M235.79 852.56L239.94 845.84L231.65 845.84Z" fill="#007f00"/>
<rect x="224.5" y="636.3" width="135.3" height="77.4" fill="#fff" stroke="#6e6e6e" stroke-width="1"/>
<path d="M226.1 644.4H253.8" stroke="#6a6a6a" stroke-width="1"/>
<rect x="237.2" y="641.7" width="5.4" height="5.4" fill="#000000"/>
<text x="256.8" y="648.6" font-size="12.65">Saturate</text>
<path d="M226.1 659.55H253.8" stroke="#ff5050" stroke-width="1"/>
<circle cx="239.9" cy="659.55" r="3.1" fill="#ff0000"/>
<text x="256.8" y="663.75" font-size="12.65">Naphthene aromatic</text>
<path d="M226.1 674.7H253.8" stroke="#6a6aff" stroke-width="1"/>
<path d="M239.9 670.98L243.6 676.98L236.2 676.98Z" fill="#0000ff"/>
<text x="256.8" y="678.9" font-size="12.65">Polar aromatic</text>
<path d="M226.1 689.85H253.8" stroke="#b4dcb4" stroke-width="2"/>
<path d="M239.9 693.57L243.6 687.57L236.2 687.57Z" fill="#007f00"/>
<text x="256.8" y="694.05" font-size="12.65">Asphaltene</text>
<path d="M226.1 705H253.8" stroke="#ffbcff" stroke-width="2"/>
<path d="M239.9 701.1L243.6 705L239.9 708.9L236.2 705Z" fill="#ff00ff"/>
<text x="256.8" y="709.2" font-size="12.65">Rejuvenator</text>
<path d="M300.8 912.3A7.26 7.26 0 0 0 300.8 926.1A8.28 8.28 0 0 1 300.8 912.3Z" fill="#262626" stroke="#262626" stroke-width="0.25"/>
<text x="303.4" y="925.5" class="cp">e</text>
<path d="M313.4 912.3A7.26 7.26 0 0 1 313.4 926.1A8.28 8.28 0 0 0 313.4 912.3Z" fill="#262626" stroke="#262626" stroke-width="0.25"/>
<text x="329.1" y="925.5" class="cp">ROSL-15</text>
</svg>
</body></html>
